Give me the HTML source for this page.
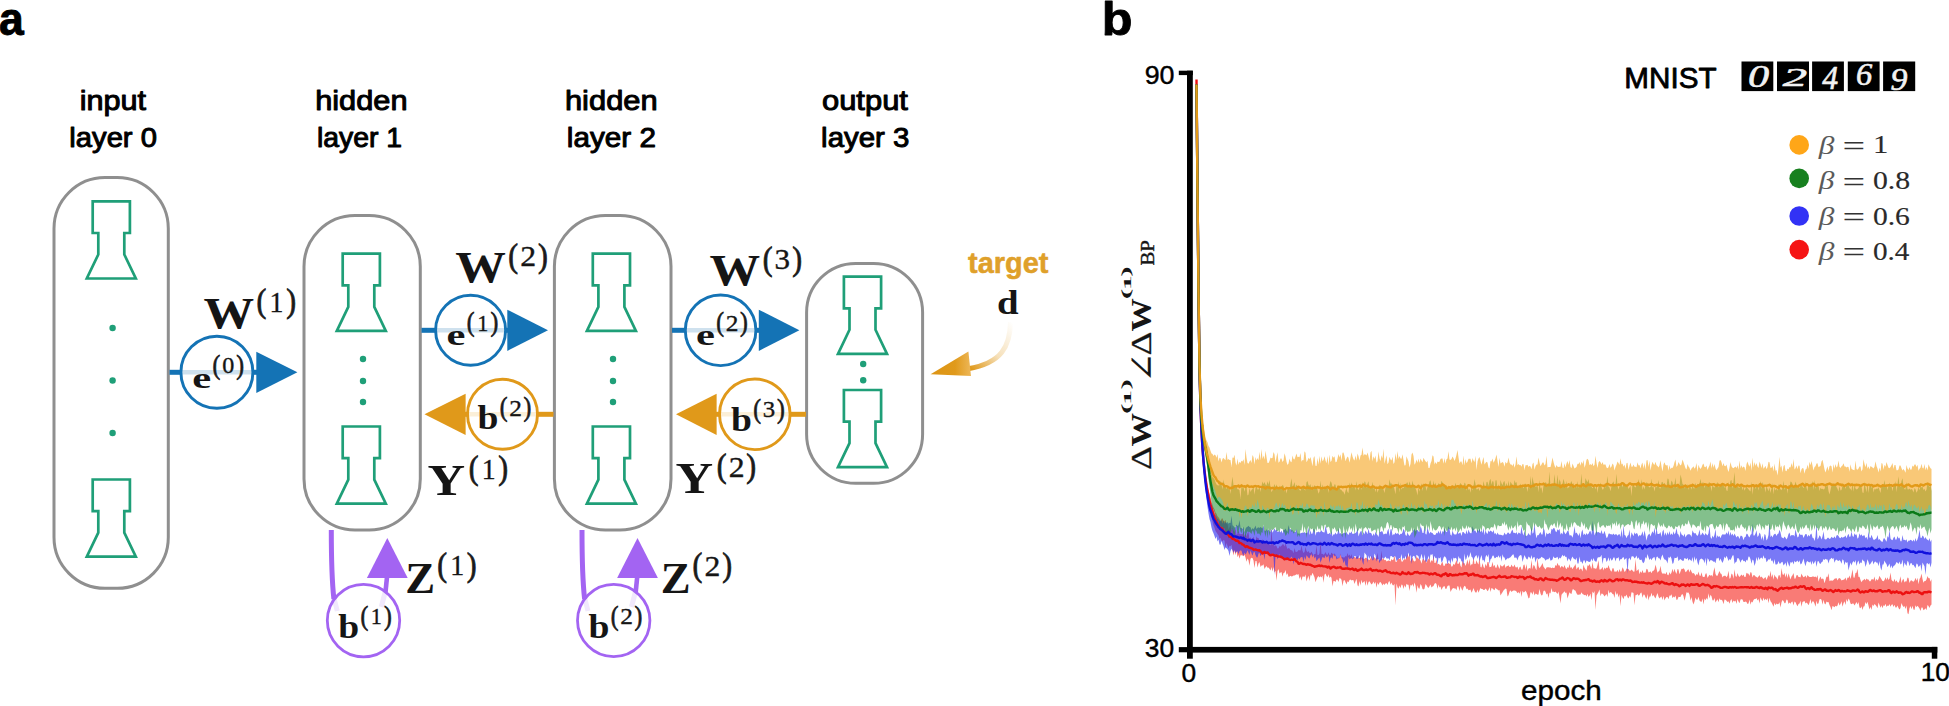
<!DOCTYPE html>
<html lang="en"><head><meta charset="utf-8"><title>Figure</title>
<style>html,body{margin:0;padding:0;background:#fff}body{width:1949px;height:706px;overflow:hidden}svg{display:block}</style></head>
<body><svg width="1949" height="706" viewBox="0 0 1949 706">
<rect width="1949" height="706" fill="#fff"/>
<text transform="translate(-1.04,34.83) scale(0.9556,1)" font-family='"Liberation Sans", sans-serif' font-weight="bold" font-style="normal" font-size="46.58" fill="#000"  stroke="#000" stroke-width="0.9" stroke-linejoin="round">a</text>
<text transform="translate(1101.73,34.83) scale(1.0715,1)" font-family='"Liberation Sans", sans-serif' font-weight="bold" font-style="normal" font-size="46.94" fill="#000"  stroke="#000" stroke-width="0.9" stroke-linejoin="round">b</text>
<text transform="translate(79.63,109.50) scale(1.0824,1)" font-family='"Liberation Sans", sans-serif' font-weight="normal" font-style="normal" font-size="28.30" fill="#000"  stroke="#000" stroke-width="1.0" stroke-linejoin="round">input</text>
<text transform="translate(69.33,146.80) scale(1.0314,1)" font-family='"Liberation Sans", sans-serif' font-weight="normal" font-style="normal" font-size="28.30" fill="#000"  stroke="#000" stroke-width="1.0" stroke-linejoin="round">layer 0</text>
<text transform="translate(315.15,109.50) scale(1.0872,1)" font-family='"Liberation Sans", sans-serif' font-weight="normal" font-style="normal" font-size="28.30" fill="#000"  stroke="#000" stroke-width="1.0" stroke-linejoin="round">hidden</text>
<text transform="translate(316.88,146.80) scale(1.0031,1)" font-family='"Liberation Sans", sans-serif' font-weight="normal" font-style="normal" font-size="28.30" fill="#000"  stroke="#000" stroke-width="1.0" stroke-linejoin="round">layer 1</text>
<text transform="translate(564.94,109.50) scale(1.0909,1)" font-family='"Liberation Sans", sans-serif' font-weight="normal" font-style="normal" font-size="28.30" fill="#000"  stroke="#000" stroke-width="1.0" stroke-linejoin="round">hidden</text>
<text transform="translate(566.80,146.80) scale(1.0493,1)" font-family='"Liberation Sans", sans-serif' font-weight="normal" font-style="normal" font-size="28.30" fill="#000"  stroke="#000" stroke-width="1.0" stroke-linejoin="round">layer 2</text>
<text transform="translate(821.99,109.50) scale(1.0924,1)" font-family='"Liberation Sans", sans-serif' font-weight="normal" font-style="normal" font-size="28.30" fill="#000"  stroke="#000" stroke-width="1.0" stroke-linejoin="round">output</text>
<text transform="translate(821.11,146.80) scale(1.0405,1)" font-family='"Liberation Sans", sans-serif' font-weight="normal" font-style="normal" font-size="28.30" fill="#000"  stroke="#000" stroke-width="1.0" stroke-linejoin="round">layer 3</text>
<rect x="54" y="177.5" width="114.30000000000001" height="410.79999999999995" rx="51" ry="51" fill="none" stroke="#8f8f8f" stroke-width="3"/>
<rect x="304" y="215.5" width="116.30000000000001" height="314.5" rx="51" ry="51" fill="none" stroke="#8f8f8f" stroke-width="3"/>
<rect x="554.4" y="215.5" width="116.60000000000002" height="314.5" rx="51" ry="51" fill="none" stroke="#8f8f8f" stroke-width="3"/>
<rect x="806.6" y="263.4" width="116.0" height="219.90000000000003" rx="49" ry="49" fill="none" stroke="#8f8f8f" stroke-width="3"/>
<path d="M92.7,201.3 L129.9,201.3 L129.9,233.0 L124.3,233.0 L124.3,254.5 L135.8,278.5 L86.8,278.5 L98.3,254.5 L98.3,233.0 L92.7,233.0Z" fill="none" stroke="#1f9f78" stroke-width="2.7" stroke-linejoin="miter"/>
<path d="M92.7,479.5 L129.9,479.5 L129.9,511.2 L124.3,511.2 L124.3,532.7 L135.8,556.7 L86.8,556.7 L98.3,532.7 L98.3,511.2 L92.7,511.2Z" fill="none" stroke="#1f9f78" stroke-width="2.7" stroke-linejoin="miter"/>
<circle cx="112.6" cy="328" r="3.2" fill="#1f9f78"/>
<circle cx="112.6" cy="380.5" r="3.2" fill="#1f9f78"/>
<circle cx="112.6" cy="433" r="3.2" fill="#1f9f78"/>
<path d="M342.7,253.7 L379.9,253.7 L379.9,285.4 L374.3,285.4 L374.3,306.9 L385.8,330.9 L336.8,330.9 L348.3,306.9 L348.3,285.4 L342.7,285.4Z" fill="none" stroke="#1f9f78" stroke-width="2.7" stroke-linejoin="miter"/>
<path d="M342.7,426.5 L379.9,426.5 L379.9,458.2 L374.3,458.2 L374.3,479.7 L385.8,503.7 L336.8,503.7 L348.3,479.7 L348.3,458.2 L342.7,458.2Z" fill="none" stroke="#1f9f78" stroke-width="2.7" stroke-linejoin="miter"/>
<circle cx="363" cy="359" r="3.2" fill="#1f9f78"/>
<circle cx="363" cy="381" r="3.2" fill="#1f9f78"/>
<circle cx="363" cy="402" r="3.2" fill="#1f9f78"/>
<path d="M592.8,253.7 L630.0,253.7 L630.0,285.4 L624.4,285.4 L624.4,306.9 L635.9,330.9 L586.9,330.9 L598.4,306.9 L598.4,285.4 L592.8,285.4Z" fill="none" stroke="#1f9f78" stroke-width="2.7" stroke-linejoin="miter"/>
<path d="M592.8,426.5 L630.0,426.5 L630.0,458.2 L624.4,458.2 L624.4,479.7 L635.9,503.7 L586.9,503.7 L598.4,479.7 L598.4,458.2 L592.8,458.2Z" fill="none" stroke="#1f9f78" stroke-width="2.7" stroke-linejoin="miter"/>
<circle cx="613" cy="359" r="3.2" fill="#1f9f78"/>
<circle cx="613" cy="381" r="3.2" fill="#1f9f78"/>
<circle cx="613" cy="402" r="3.2" fill="#1f9f78"/>
<path d="M843.9,276.6 L881.1,276.6 L881.1,308.3 L875.5,308.3 L875.5,329.8 L887.0,353.8 L838.0,353.8 L849.5,329.8 L849.5,308.3 L843.9,308.3Z" fill="none" stroke="#1f9f78" stroke-width="2.7" stroke-linejoin="miter"/>
<path d="M843.9,390.0 L881.1,390.0 L881.1,421.7 L875.5,421.7 L875.5,443.2 L887.0,467.2 L838.0,467.2 L849.5,443.2 L849.5,421.7 L843.9,421.7Z" fill="none" stroke="#1f9f78" stroke-width="2.7" stroke-linejoin="miter"/>
<circle cx="863.2" cy="364" r="3.2" fill="#1f9f78"/>
<circle cx="863.2" cy="380.2" r="3.2" fill="#1f9f78"/>
<line x1="180.9" y1="372.3" x2="252.9" y2="372.3" stroke="#cfe1ee" stroke-width="4.6"/>
<line x1="169.5" y1="372.3" x2="180.9" y2="372.3" stroke="#1473b5" stroke-width="5"/>
<line x1="252.9" y1="372.3" x2="257.3" y2="372.3" stroke="#1473b5" stroke-width="5"/>
<circle cx="216.9" cy="372.3" r="36.0" fill="none" stroke="#1473b5" stroke-width="2.9"/>
<path d="M256.3,351.7 L297.4,372.3 L256.3,392.90000000000003Z" fill="#1473b5"/>
<line x1="435.6" y1="330.3" x2="505.6" y2="330.3" stroke="#cfe1ee" stroke-width="4.6"/>
<line x1="421.5" y1="330.3" x2="435.6" y2="330.3" stroke="#1473b5" stroke-width="5"/>
<line x1="505.6" y1="330.3" x2="508.3" y2="330.3" stroke="#1473b5" stroke-width="5"/>
<circle cx="470.6" cy="330.3" r="35.0" fill="none" stroke="#1473b5" stroke-width="2.9"/>
<path d="M507.3,309.7 L548,330.3 L507.3,350.90000000000003Z" fill="#1473b5"/>
<line x1="685.3000000000001" y1="330.3" x2="755.9" y2="330.3" stroke="#cfe1ee" stroke-width="4.6"/>
<line x1="672" y1="330.3" x2="685.3000000000001" y2="330.3" stroke="#1473b5" stroke-width="5"/>
<line x1="755.9" y1="330.3" x2="759.8" y2="330.3" stroke="#1473b5" stroke-width="5"/>
<circle cx="720.6" cy="330.3" r="35.3" fill="none" stroke="#1473b5" stroke-width="2.9"/>
<path d="M758.8,309.7 L799.4,330.3 L758.8,350.90000000000003Z" fill="#1473b5"/>
<line x1="467.5" y1="414.3" x2="537.5" y2="414.3" stroke="#fbefd8" stroke-width="4.6"/>
<line x1="553.5" y1="414.3" x2="537.5" y2="414.3" stroke="#e0991a" stroke-width="5"/>
<line x1="467.5" y1="414.3" x2="464.6" y2="414.3" stroke="#e0991a" stroke-width="5"/>
<circle cx="502.5" cy="414.3" r="35.0" fill="none" stroke="#e0991a" stroke-width="2.9"/>
<path d="M465.6,393.7 L424.5,414.3 L465.6,434.90000000000003Z" fill="#e0991a"/>
<line x1="719.5" y1="414.3" x2="790.0999999999999" y2="414.3" stroke="#fbefd8" stroke-width="4.6"/>
<line x1="806" y1="414.3" x2="790.0999999999999" y2="414.3" stroke="#e0991a" stroke-width="5"/>
<line x1="719.5" y1="414.3" x2="715.6" y2="414.3" stroke="#e0991a" stroke-width="5"/>
<circle cx="754.8" cy="414.3" r="35.3" fill="none" stroke="#e0991a" stroke-width="2.9"/>
<path d="M716.6,393.7 L676,414.3 L716.6,434.90000000000003Z" fill="#e0991a"/>
<path d="M333.7,597 L337.3,611" fill="none" stroke="#f0e8fc" stroke-width="5"/>
<path d="M385.7,590 L381.3,607" fill="none" stroke="#f0e8fc" stroke-width="5"/>
<path d="M331.3,530 C331.3,560 332.1,583 333.90000000000003,599" fill="none" stroke="#a364f2" stroke-width="5"/>
<path d="M387.0,577 L385.5,592" fill="none" stroke="#a364f2" stroke-width="4.6"/>
<circle cx="363.5" cy="620.6" r="36.2" fill="none" stroke="#a364f2" stroke-width="2.8"/>
<path d="M366.90000000000003,578 L387.3,538 L407.7,578Z" fill="#a364f2"/>
<path d="M584.4,597 L588,611" fill="none" stroke="#f0e8fc" stroke-width="5"/>
<path d="M635.9,590 L631.5,607" fill="none" stroke="#f0e8fc" stroke-width="5"/>
<path d="M582,530 C582,560 582.8,583 584.6,599" fill="none" stroke="#a364f2" stroke-width="5"/>
<path d="M637.2,577 L635.7,592" fill="none" stroke="#a364f2" stroke-width="4.6"/>
<circle cx="613.7" cy="620.5" r="36.2" fill="none" stroke="#a364f2" stroke-width="2.8"/>
<path d="M617.1,578 L637.5,538 L657.9,578Z" fill="#a364f2"/>
<defs><linearGradient id="tg" x1="1012" y1="322" x2="968" y2="366" gradientUnits="userSpaceOnUse"><stop offset="0" stop-color="#e0991a" stop-opacity="0"/><stop offset="0.55" stop-color="#e0991a" stop-opacity="0.3"/><stop offset="1" stop-color="#e0991a" stop-opacity="1"/></linearGradient><linearGradient id="tg2" x1="930" y1="0" x2="972" y2="0" gradientUnits="userSpaceOnUse"><stop offset="0" stop-color="#dd9413"/><stop offset="0.6" stop-color="#e09a1c"/><stop offset="1" stop-color="#eeb95c"/></linearGradient></defs>
<path d="M1010.5,322 C1010,346 1002,363 968,368.7" fill="none" stroke="url(#tg)" stroke-width="5"/>
<path d="M968.4,351.5 L930.6,374.3 L971,376Z" fill="url(#tg2)"/>
<text transform="translate(968.04,272.66) scale(1.0019,1)" font-family='"Liberation Sans", sans-serif' font-weight="bold" font-style="normal" font-size="28.90" fill="#dfa02a"  stroke="#dfa02a" stroke-width="0.5" stroke-linejoin="round">target</text>
<text transform="translate(997.05,314.46) scale(1.1497,1)" font-family='"Liberation Serif", serif' font-weight="bold" font-style="normal" font-size="33.76" fill="#151515" >d</text>
<text transform="translate(203.44,328.05) scale(1.1638,1)" font-family='"Liberation Serif", serif' font-weight="bold" font-style="normal" font-size="43.58" fill="#151515" >W</text>
<text transform="translate(256.55,312.40) scale(0.8840,1)" font-family='"Liberation Serif", serif' font-weight="normal" font-style="normal" font-size="33.39" fill="#1a1a1a"  stroke="#1a1a1a" stroke-width="0.8" stroke-linejoin="round">(</text>
<text transform="translate(269.57,311.90) scale(0.9557,1)" font-family='"Liberation Serif", serif' font-weight="normal" font-style="normal" font-size="29.09" fill="#151515"  stroke="#151515" stroke-width="0.35" stroke-linejoin="round">1</text>
<text transform="translate(286.24,312.40) scale(0.8840,1)" font-family='"Liberation Serif", serif' font-weight="normal" font-style="normal" font-size="33.39" fill="#1a1a1a"  stroke="#1a1a1a" stroke-width="0.8" stroke-linejoin="round">)</text>
<text transform="translate(455.14,282.30) scale(1.1638,1)" font-family='"Liberation Serif", serif' font-weight="bold" font-style="normal" font-size="43.58" fill="#151515" >W</text>
<text transform="translate(508.25,266.65) scale(0.8840,1)" font-family='"Liberation Serif", serif' font-weight="normal" font-style="normal" font-size="33.39" fill="#1a1a1a"  stroke="#1a1a1a" stroke-width="0.8" stroke-linejoin="round">(</text>
<text transform="translate(520.25,266.15) scale(1.0973,1)" font-family='"Liberation Serif", serif' font-weight="normal" font-style="normal" font-size="28.98" fill="#151515"  stroke="#151515" stroke-width="0.35" stroke-linejoin="round">2</text>
<text transform="translate(537.94,266.65) scale(0.8840,1)" font-family='"Liberation Serif", serif' font-weight="normal" font-style="normal" font-size="33.39" fill="#1a1a1a"  stroke="#1a1a1a" stroke-width="0.8" stroke-linejoin="round">)</text>
<text transform="translate(709.54,285.45) scale(1.1638,1)" font-family='"Liberation Serif", serif' font-weight="bold" font-style="normal" font-size="43.58" fill="#151515" >W</text>
<text transform="translate(762.65,269.80) scale(0.8840,1)" font-family='"Liberation Serif", serif' font-weight="normal" font-style="normal" font-size="33.39" fill="#1a1a1a"  stroke="#1a1a1a" stroke-width="0.8" stroke-linejoin="round">(</text>
<text transform="translate(774.53,269.01) scale(1.0869,1)" font-family='"Liberation Serif", serif' font-weight="normal" font-style="normal" font-size="28.55" fill="#151515"  stroke="#151515" stroke-width="0.35" stroke-linejoin="round">3</text>
<text transform="translate(792.34,269.80) scale(0.8840,1)" font-family='"Liberation Serif", serif' font-weight="normal" font-style="normal" font-size="33.39" fill="#1a1a1a"  stroke="#1a1a1a" stroke-width="0.8" stroke-linejoin="round">)</text>
<text transform="translate(427.49,495.30) scale(1.1771,1)" font-family='"Liberation Serif", serif' font-weight="bold" font-style="normal" font-size="44.27" fill="#151515" >Y</text>
<text transform="translate(468.65,479.40) scale(0.8840,1)" font-family='"Liberation Serif", serif' font-weight="normal" font-style="normal" font-size="33.39" fill="#1a1a1a"  stroke="#1a1a1a" stroke-width="0.8" stroke-linejoin="round">(</text>
<text transform="translate(481.67,478.90) scale(0.9557,1)" font-family='"Liberation Serif", serif' font-weight="normal" font-style="normal" font-size="29.09" fill="#151515"  stroke="#151515" stroke-width="0.35" stroke-linejoin="round">1</text>
<text transform="translate(498.34,479.40) scale(0.8840,1)" font-family='"Liberation Serif", serif' font-weight="normal" font-style="normal" font-size="33.39" fill="#1a1a1a"  stroke="#1a1a1a" stroke-width="0.8" stroke-linejoin="round">)</text>
<text transform="translate(675.49,493.00) scale(1.1771,1)" font-family='"Liberation Serif", serif' font-weight="bold" font-style="normal" font-size="44.27" fill="#151515" >Y</text>
<text transform="translate(716.65,477.10) scale(0.8840,1)" font-family='"Liberation Serif", serif' font-weight="normal" font-style="normal" font-size="33.39" fill="#1a1a1a"  stroke="#1a1a1a" stroke-width="0.8" stroke-linejoin="round">(</text>
<text transform="translate(728.65,476.60) scale(1.0973,1)" font-family='"Liberation Serif", serif' font-weight="normal" font-style="normal" font-size="28.98" fill="#151515"  stroke="#151515" stroke-width="0.35" stroke-linejoin="round">2</text>
<text transform="translate(746.34,477.10) scale(0.8840,1)" font-family='"Liberation Serif", serif' font-weight="normal" font-style="normal" font-size="33.39" fill="#1a1a1a"  stroke="#1a1a1a" stroke-width="0.8" stroke-linejoin="round">)</text>
<text transform="translate(405.27,592.55) scale(1.0175,1)" font-family='"Liberation Serif", serif' font-weight="bold" font-style="normal" font-size="43.97" fill="#151515" >Z</text>
<text transform="translate(437.15,575.95) scale(0.8840,1)" font-family='"Liberation Serif", serif' font-weight="normal" font-style="normal" font-size="33.39" fill="#1a1a1a"  stroke="#1a1a1a" stroke-width="0.8" stroke-linejoin="round">(</text>
<text transform="translate(450.17,575.45) scale(0.9557,1)" font-family='"Liberation Serif", serif' font-weight="normal" font-style="normal" font-size="29.09" fill="#151515"  stroke="#151515" stroke-width="0.35" stroke-linejoin="round">1</text>
<text transform="translate(466.84,575.95) scale(0.8840,1)" font-family='"Liberation Serif", serif' font-weight="normal" font-style="normal" font-size="33.39" fill="#1a1a1a"  stroke="#1a1a1a" stroke-width="0.8" stroke-linejoin="round">)</text>
<text transform="translate(660.73,592.80) scale(1.0175,1)" font-family='"Liberation Serif", serif' font-weight="bold" font-style="normal" font-size="43.97" fill="#151515" >Z</text>
<text transform="translate(692.60,576.20) scale(0.8840,1)" font-family='"Liberation Serif", serif' font-weight="normal" font-style="normal" font-size="33.39" fill="#1a1a1a"  stroke="#1a1a1a" stroke-width="0.8" stroke-linejoin="round">(</text>
<text transform="translate(704.60,575.70) scale(1.0973,1)" font-family='"Liberation Serif", serif' font-weight="normal" font-style="normal" font-size="28.98" fill="#151515"  stroke="#151515" stroke-width="0.35" stroke-linejoin="round">2</text>
<text transform="translate(722.29,576.20) scale(0.8840,1)" font-family='"Liberation Serif", serif' font-weight="normal" font-style="normal" font-size="33.39" fill="#1a1a1a"  stroke="#1a1a1a" stroke-width="0.8" stroke-linejoin="round">)</text>
<text transform="translate(192.31,387.50) scale(1.4010,1)" font-family='"Liberation Serif", serif' font-weight="bold" font-style="normal" font-size="30.42" fill="#151515" >e</text>
<text transform="translate(212.61,373.86) scale(0.8753,1)" font-family='"Liberation Serif", serif' font-weight="normal" font-style="normal" font-size="26.71" fill="#1a1a1a"  stroke="#1a1a1a" stroke-width="0.7155417527999327" stroke-linejoin="round">(</text>
<text transform="translate(222.32,373.23) scale(1.0588,1)" font-family='"Liberation Serif", serif' font-weight="normal" font-style="normal" font-size="22.76" fill="#151515"  stroke="#151515" stroke-width="0.35" stroke-linejoin="round">0</text>
<text transform="translate(236.30,373.86) scale(0.8753,1)" font-family='"Liberation Serif", serif' font-weight="normal" font-style="normal" font-size="26.71" fill="#1a1a1a"  stroke="#1a1a1a" stroke-width="0.7155417527999327" stroke-linejoin="round">)</text>
<text transform="translate(446.51,344.90) scale(1.4010,1)" font-family='"Liberation Serif", serif' font-weight="bold" font-style="normal" font-size="30.42" fill="#151515" >e</text>
<text transform="translate(466.81,331.26) scale(0.8753,1)" font-family='"Liberation Serif", serif' font-weight="normal" font-style="normal" font-size="26.71" fill="#1a1a1a"  stroke="#1a1a1a" stroke-width="0.7155417527999327" stroke-linejoin="round">(</text>
<text transform="translate(477.15,330.86) scale(0.9557,1)" font-family='"Liberation Serif", serif' font-weight="normal" font-style="normal" font-size="23.27" fill="#151515"  stroke="#151515" stroke-width="0.35" stroke-linejoin="round">1</text>
<text transform="translate(490.50,331.26) scale(0.8753,1)" font-family='"Liberation Serif", serif' font-weight="normal" font-style="normal" font-size="26.71" fill="#1a1a1a"  stroke="#1a1a1a" stroke-width="0.7155417527999327" stroke-linejoin="round">)</text>
<text transform="translate(695.91,344.60) scale(1.4010,1)" font-family='"Liberation Serif", serif' font-weight="bold" font-style="normal" font-size="30.42" fill="#151515" >e</text>
<text transform="translate(716.21,330.96) scale(0.8753,1)" font-family='"Liberation Serif", serif' font-weight="normal" font-style="normal" font-size="26.71" fill="#1a1a1a"  stroke="#1a1a1a" stroke-width="0.7155417527999327" stroke-linejoin="round">(</text>
<text transform="translate(725.74,330.56) scale(1.0973,1)" font-family='"Liberation Serif", serif' font-weight="normal" font-style="normal" font-size="23.18" fill="#151515"  stroke="#151515" stroke-width="0.35" stroke-linejoin="round">2</text>
<text transform="translate(739.90,330.96) scale(0.8753,1)" font-family='"Liberation Serif", serif' font-weight="normal" font-style="normal" font-size="26.71" fill="#1a1a1a"  stroke="#1a1a1a" stroke-width="0.7155417527999327" stroke-linejoin="round">)</text>
<text transform="translate(477.53,429.06) scale(1.0957,1)" font-family='"Liberation Serif", serif' font-weight="bold" font-style="normal" font-size="34.33" fill="#151515" >b</text>
<text transform="translate(499.71,416.16) scale(0.8753,1)" font-family='"Liberation Serif", serif' font-weight="normal" font-style="normal" font-size="26.71" fill="#1a1a1a"  stroke="#1a1a1a" stroke-width="0.7155417527999327" stroke-linejoin="round">(</text>
<text transform="translate(509.24,415.76) scale(1.0973,1)" font-family='"Liberation Serif", serif' font-weight="normal" font-style="normal" font-size="23.18" fill="#151515"  stroke="#151515" stroke-width="0.35" stroke-linejoin="round">2</text>
<text transform="translate(523.40,416.16) scale(0.8753,1)" font-family='"Liberation Serif", serif' font-weight="normal" font-style="normal" font-size="26.71" fill="#1a1a1a"  stroke="#1a1a1a" stroke-width="0.7155417527999327" stroke-linejoin="round">)</text>
<text transform="translate(731.03,430.56) scale(1.0957,1)" font-family='"Liberation Serif", serif' font-weight="bold" font-style="normal" font-size="34.33" fill="#151515" >b</text>
<text transform="translate(753.21,417.66) scale(0.8753,1)" font-family='"Liberation Serif", serif' font-weight="normal" font-style="normal" font-size="26.71" fill="#1a1a1a"  stroke="#1a1a1a" stroke-width="0.7155417527999327" stroke-linejoin="round">(</text>
<text transform="translate(762.64,417.03) scale(1.0869,1)" font-family='"Liberation Serif", serif' font-weight="normal" font-style="normal" font-size="22.84" fill="#151515"  stroke="#151515" stroke-width="0.35" stroke-linejoin="round">3</text>
<text transform="translate(776.90,417.66) scale(0.8753,1)" font-family='"Liberation Serif", serif' font-weight="normal" font-style="normal" font-size="26.71" fill="#1a1a1a"  stroke="#1a1a1a" stroke-width="0.7155417527999327" stroke-linejoin="round">)</text>
<text transform="translate(338.23,637.76) scale(1.0957,1)" font-family='"Liberation Serif", serif' font-weight="bold" font-style="normal" font-size="34.33" fill="#151515" >b</text>
<text transform="translate(360.41,624.86) scale(0.8753,1)" font-family='"Liberation Serif", serif' font-weight="normal" font-style="normal" font-size="26.71" fill="#1a1a1a"  stroke="#1a1a1a" stroke-width="0.7155417527999327" stroke-linejoin="round">(</text>
<text transform="translate(370.75,624.46) scale(0.9557,1)" font-family='"Liberation Serif", serif' font-weight="normal" font-style="normal" font-size="23.27" fill="#151515"  stroke="#151515" stroke-width="0.35" stroke-linejoin="round">1</text>
<text transform="translate(384.10,624.86) scale(0.8753,1)" font-family='"Liberation Serif", serif' font-weight="normal" font-style="normal" font-size="26.71" fill="#1a1a1a"  stroke="#1a1a1a" stroke-width="0.7155417527999327" stroke-linejoin="round">)</text>
<text transform="translate(588.53,637.76) scale(1.0957,1)" font-family='"Liberation Serif", serif' font-weight="bold" font-style="normal" font-size="34.33" fill="#151515" >b</text>
<text transform="translate(610.71,624.86) scale(0.8753,1)" font-family='"Liberation Serif", serif' font-weight="normal" font-style="normal" font-size="26.71" fill="#1a1a1a"  stroke="#1a1a1a" stroke-width="0.7155417527999327" stroke-linejoin="round">(</text>
<text transform="translate(620.24,624.46) scale(1.0973,1)" font-family='"Liberation Serif", serif' font-weight="normal" font-style="normal" font-size="23.18" fill="#151515"  stroke="#151515" stroke-width="0.35" stroke-linejoin="round">2</text>
<text transform="translate(634.40,624.86) scale(0.8753,1)" font-family='"Liberation Serif", serif' font-weight="normal" font-style="normal" font-size="26.71" fill="#1a1a1a"  stroke="#1a1a1a" stroke-width="0.7155417527999327" stroke-linejoin="round">)</text>
<rect x="1187" y="70.7" width="5.8" height="588" fill="#000"/>
<rect x="1178.8" y="70.7" width="14" height="4.4" fill="#000"/>
<rect x="1178.8" y="647.1" width="10" height="5.2" fill="#000"/>
<rect x="1187" y="646.9" width="750.3" height="5.7" fill="#000"/>
<rect x="1931.8" y="646.9" width="5.5" height="11.8" fill="#000"/>
<text transform="translate(1144.63,83.94) scale(1.0373,1)" font-family='"Liberation Sans", sans-serif' font-weight="normal" font-style="normal" font-size="25.87" fill="#000"  stroke="#000" stroke-width="0.4" stroke-linejoin="round">90</text>
<text transform="translate(1144.81,656.94) scale(1.0198,1)" font-family='"Liberation Sans", sans-serif' font-weight="normal" font-style="normal" font-size="25.87" fill="#000"  stroke="#000" stroke-width="0.4" stroke-linejoin="round">30</text>
<text transform="translate(1181.44,682.15) scale(1.0430,1)" font-family='"Liberation Sans", sans-serif' font-weight="normal" font-style="normal" font-size="25.30" fill="#000"  stroke="#000" stroke-width="0.4" stroke-linejoin="round">0</text>
<text transform="translate(1920.63,680.75) scale(1.0440,1)" font-family='"Liberation Sans", sans-serif' font-weight="normal" font-style="normal" font-size="25.16" fill="#000"  stroke="#000" stroke-width="0.4" stroke-linejoin="round">10</text>
<text transform="translate(1520.94,699.83) scale(1.0841,1)" font-family='"Liberation Sans", sans-serif' font-weight="normal" font-style="normal" font-size="27.35" fill="#000"  stroke="#000" stroke-width="0.4" stroke-linejoin="round">epoch</text>
<path d="M1196.5,78.3 L1197.5,187.9 L1198.5,289.0 L1199.5,365.2 L1200.5,404.3 L1201.5,427.8 L1202.5,444.6 L1203.5,456.0 L1204.5,465.9 L1205.5,472.8 L1206.5,479.8 L1207.5,484.8 L1208.5,489.7 L1209.5,493.4 L1210.5,496.9 L1211.5,501.4 L1212.5,505.0 L1213.5,507.4 L1214.5,509.3 L1215.5,512.4 L1216.5,513.7 L1217.5,516.3 L1218.5,517.3 L1219.5,518.8 L1220.5,521.7 L1221.5,518.8 L1222.5,518.3 L1223.5,521.1 L1224.5,521.5 L1225.5,519.8 L1226.5,524.3 L1227.5,524.0 L1228.5,529.6 L1229.5,527.2 L1230.5,525.1 L1231.5,530.3 L1232.5,527.5 L1233.5,530.5 L1234.5,531.9 L1235.5,528.7 L1236.5,534.9 L1237.5,533.4 L1238.5,530.4 L1239.5,534.0 L1240.5,534.2 L1241.5,534.0 L1242.5,534.3 L1243.5,531.7 L1244.5,535.9 L1245.5,533.2 L1246.5,536.4 L1247.5,532.9 L1248.5,531.8 L1249.5,539.6 L1250.5,537.0 L1251.5,539.2 L1252.5,538.7 L1253.5,536.4 L1254.5,540.6 L1255.5,541.6 L1256.5,536.3 L1257.5,537.9 L1258.5,537.9 L1259.5,540.5 L1260.5,542.5 L1261.5,541.6 L1262.5,539.2 L1263.5,541.3 L1264.5,541.9 L1265.5,543.0 L1266.5,542.9 L1267.5,543.7 L1268.5,541.6 L1269.5,544.6 L1270.5,545.6 L1271.5,528.5 L1272.5,544.9 L1273.5,540.2 L1274.5,546.4 L1275.5,545.3 L1276.5,546.1 L1277.5,548.5 L1278.5,548.3 L1279.5,546.1 L1280.5,546.8 L1281.5,545.8 L1282.5,544.3 L1283.5,544.3 L1284.5,546.5 L1285.5,543.0 L1286.5,546.6 L1287.5,549.1 L1288.5,547.9 L1289.5,548.5 L1290.5,550.1 L1291.5,550.3 L1292.5,550.8 L1293.5,553.3 L1294.5,547.9 L1295.5,551.8 L1296.5,552.0 L1297.5,551.5 L1298.5,549.9 L1299.5,550.3 L1300.5,550.4 L1301.5,545.2 L1302.5,550.7 L1303.5,553.0 L1304.5,552.0 L1305.5,546.9 L1306.5,550.8 L1307.5,552.3 L1308.5,550.9 L1309.5,552.9 L1310.5,552.9 L1311.5,551.6 L1312.5,553.4 L1313.5,555.1 L1314.5,554.1 L1315.5,554.1 L1316.5,545.3 L1317.5,555.0 L1318.5,555.0 L1319.5,553.2 L1320.5,540.0 L1321.5,554.0 L1322.5,553.8 L1323.5,554.8 L1324.5,553.9 L1325.5,551.9 L1326.5,554.2 L1327.5,555.0 L1328.5,552.3 L1329.5,555.1 L1330.5,555.0 L1331.5,552.5 L1332.5,553.7 L1333.5,554.1 L1334.5,553.6 L1335.5,554.8 L1336.5,556.4 L1337.5,558.1 L1338.5,557.8 L1339.5,557.4 L1340.5,553.4 L1341.5,557.3 L1342.5,557.0 L1343.5,557.5 L1344.5,557.5 L1345.5,555.9 L1346.5,556.4 L1347.5,553.0 L1348.5,555.9 L1349.5,554.6 L1350.5,556.8 L1351.5,554.0 L1352.5,558.7 L1353.5,556.4 L1354.5,557.0 L1355.5,557.7 L1356.5,556.9 L1357.5,555.9 L1358.5,558.3 L1359.5,557.9 L1360.5,556.9 L1361.5,557.7 L1362.5,557.2 L1363.5,559.0 L1364.5,558.7 L1365.5,557.8 L1366.5,557.7 L1367.5,559.3 L1368.5,559.4 L1369.5,559.9 L1370.5,558.6 L1371.5,555.4 L1372.5,559.8 L1373.5,556.2 L1374.5,557.5 L1375.5,558.8 L1376.5,557.5 L1377.5,552.8 L1378.5,560.8 L1379.5,560.1 L1380.5,559.2 L1381.5,550.6 L1382.5,559.7 L1383.5,558.6 L1384.5,560.3 L1385.5,559.7 L1386.5,561.4 L1387.5,561.1 L1388.5,560.4 L1389.5,560.7 L1390.5,561.4 L1391.5,559.0 L1392.5,560.3 L1393.5,559.4 L1394.5,555.4 L1395.5,561.7 L1396.5,562.0 L1397.5,559.8 L1398.5,558.3 L1399.5,559.3 L1400.5,557.4 L1401.5,561.5 L1402.5,561.8 L1403.5,560.1 L1404.5,558.9 L1405.5,559.8 L1406.5,557.1 L1407.5,553.8 L1408.5,557.6 L1409.5,553.5 L1410.5,561.5 L1411.5,559.3 L1412.5,557.5 L1413.5,560.7 L1414.5,561.4 L1415.5,561.1 L1416.5,556.1 L1417.5,557.9 L1418.5,558.6 L1419.5,559.4 L1420.5,560.5 L1421.5,563.8 L1422.5,559.2 L1423.5,558.8 L1424.5,561.0 L1425.5,559.1 L1426.5,563.0 L1427.5,560.2 L1428.5,559.0 L1429.5,558.1 L1430.5,562.9 L1431.5,560.0 L1432.5,561.6 L1433.5,555.8 L1434.5,562.9 L1435.5,563.0 L1436.5,559.6 L1437.5,564.4 L1438.5,563.8 L1439.5,564.4 L1440.5,565.5 L1441.5,563.3 L1442.5,561.8 L1443.5,565.7 L1444.5,565.9 L1445.5,563.6 L1446.5,563.6 L1447.5,563.9 L1448.5,562.8 L1449.5,564.0 L1450.5,563.6 L1451.5,566.7 L1452.5,566.3 L1453.5,563.8 L1454.5,565.0 L1455.5,562.8 L1456.5,559.7 L1457.5,563.8 L1458.5,564.0 L1459.5,561.5 L1460.5,565.8 L1461.5,567.5 L1462.5,559.9 L1463.5,563.5 L1464.5,563.1 L1465.5,566.0 L1466.5,563.3 L1467.5,559.6 L1468.5,564.8 L1469.5,558.7 L1470.5,565.8 L1471.5,564.2 L1472.5,564.3 L1473.5,557.3 L1474.5,564.0 L1475.5,564.1 L1476.5,560.2 L1477.5,563.0 L1478.5,564.5 L1479.5,557.6 L1480.5,567.1 L1481.5,567.4 L1482.5,563.1 L1483.5,566.8 L1484.5,568.5 L1485.5,563.7 L1486.5,566.4 L1487.5,562.0 L1488.5,561.9 L1489.5,567.3 L1490.5,567.0 L1491.5,566.4 L1492.5,561.8 L1493.5,566.7 L1494.5,564.7 L1495.5,567.7 L1496.5,567.8 L1497.5,563.9 L1498.5,566.7 L1499.5,569.1 L1500.5,564.4 L1501.5,566.3 L1502.5,566.4 L1503.5,565.5 L1504.5,564.0 L1505.5,568.0 L1506.5,566.2 L1507.5,566.0 L1508.5,565.2 L1509.5,566.9 L1510.5,566.9 L1511.5,564.4 L1512.5,566.4 L1513.5,566.8 L1514.5,564.4 L1515.5,567.2 L1516.5,567.6 L1517.5,566.5 L1518.5,569.9 L1519.5,567.2 L1520.5,566.6 L1521.5,569.7 L1522.5,569.5 L1523.5,565.0 L1524.5,564.6 L1525.5,569.5 L1526.5,564.1 L1527.5,570.9 L1528.5,568.4 L1529.5,568.1 L1530.5,568.7 L1531.5,559.8 L1532.5,569.6 L1533.5,565.1 L1534.5,565.8 L1535.5,568.6 L1536.5,570.3 L1537.5,557.6 L1538.5,565.9 L1539.5,568.2 L1540.5,566.8 L1541.5,565.3 L1542.5,563.0 L1543.5,566.7 L1544.5,567.9 L1545.5,569.6 L1546.5,567.6 L1547.5,567.3 L1548.5,567.3 L1549.5,567.5 L1550.5,567.6 L1551.5,568.3 L1552.5,567.6 L1553.5,568.0 L1554.5,568.0 L1555.5,565.1 L1556.5,566.1 L1557.5,562.7 L1558.5,565.6 L1559.5,565.3 L1560.5,568.0 L1561.5,565.9 L1562.5,566.4 L1563.5,567.8 L1564.5,565.0 L1565.5,567.8 L1566.5,569.3 L1567.5,567.1 L1568.5,568.1 L1569.5,563.9 L1570.5,568.0 L1571.5,566.9 L1572.5,569.2 L1573.5,567.3 L1574.5,565.9 L1575.5,563.9 L1576.5,569.5 L1577.5,567.7 L1578.5,566.7 L1579.5,570.3 L1580.5,568.6 L1581.5,569.1 L1582.5,571.6 L1583.5,564.7 L1584.5,567.8 L1585.5,569.2 L1586.5,570.8 L1587.5,565.2 L1588.5,566.1 L1589.5,564.0 L1590.5,566.5 L1591.5,568.9 L1592.5,561.7 L1593.5,568.2 L1594.5,568.2 L1595.5,568.8 L1596.5,568.5 L1597.5,564.9 L1598.5,560.2 L1599.5,569.5 L1600.5,569.5 L1601.5,568.8 L1602.5,566.7 L1603.5,570.4 L1604.5,567.6 L1605.5,568.9 L1606.5,567.5 L1607.5,568.2 L1608.5,564.9 L1609.5,568.3 L1610.5,570.4 L1611.5,571.8 L1612.5,568.3 L1613.5,568.2 L1614.5,571.7 L1615.5,571.4 L1616.5,571.8 L1617.5,569.8 L1618.5,572.5 L1619.5,569.1 L1620.5,571.8 L1621.5,571.2 L1622.5,567.2 L1623.5,568.9 L1624.5,571.9 L1625.5,571.0 L1626.5,568.5 L1627.5,568.7 L1628.5,568.9 L1629.5,570.7 L1630.5,570.8 L1631.5,569.4 L1632.5,570.6 L1633.5,571.8 L1634.5,571.5 L1635.5,559.1 L1636.5,571.1 L1637.5,570.3 L1638.5,569.1 L1639.5,574.3 L1640.5,571.3 L1641.5,572.9 L1642.5,570.1 L1643.5,573.1 L1644.5,572.5 L1645.5,572.7 L1646.5,568.7 L1647.5,569.2 L1648.5,572.5 L1649.5,572.0 L1650.5,571.2 L1651.5,573.3 L1652.5,570.9 L1653.5,570.8 L1654.5,569.6 L1655.5,564.5 L1656.5,568.5 L1657.5,572.7 L1658.5,571.5 L1659.5,570.6 L1660.5,565.8 L1661.5,572.1 L1662.5,573.7 L1663.5,573.6 L1664.5,573.5 L1665.5,574.2 L1666.5,571.8 L1667.5,575.0 L1668.5,575.3 L1669.5,572.0 L1670.5,574.6 L1671.5,572.6 L1672.5,568.8 L1673.5,572.4 L1674.5,568.8 L1675.5,571.9 L1676.5,574.1 L1677.5,569.0 L1678.5,569.6 L1679.5,574.2 L1680.5,571.5 L1681.5,568.7 L1682.5,569.1 L1683.5,568.3 L1684.5,569.5 L1685.5,572.3 L1686.5,571.6 L1687.5,569.9 L1688.5,569.3 L1689.5,572.6 L1690.5,569.3 L1691.5,571.8 L1692.5,573.4 L1693.5,572.9 L1694.5,574.0 L1695.5,576.0 L1696.5,574.1 L1697.5,575.1 L1698.5,571.5 L1699.5,575.5 L1700.5,575.9 L1701.5,572.3 L1702.5,576.4 L1703.5,576.9 L1704.5,577.1 L1705.5,573.8 L1706.5,573.2 L1707.5,577.9 L1708.5,576.3 L1709.5,574.7 L1710.5,575.8 L1711.5,575.0 L1712.5,576.7 L1713.5,571.5 L1714.5,567.3 L1715.5,574.0 L1716.5,575.8 L1717.5,575.7 L1718.5,573.3 L1719.5,571.1 L1720.5,573.5 L1721.5,574.1 L1722.5,577.4 L1723.5,576.0 L1724.5,575.8 L1725.5,575.7 L1726.5,577.2 L1727.5,575.7 L1728.5,570.8 L1729.5,578.7 L1730.5,577.9 L1731.5,573.6 L1732.5,574.5 L1733.5,578.8 L1734.5,569.3 L1735.5,576.0 L1736.5,577.0 L1737.5,573.1 L1738.5,575.7 L1739.5,577.1 L1740.5,575.7 L1741.5,574.5 L1742.5,576.0 L1743.5,574.5 L1744.5,577.0 L1745.5,576.9 L1746.5,572.8 L1747.5,573.5 L1748.5,573.8 L1749.5,575.9 L1750.5,571.9 L1751.5,572.7 L1752.5,577.4 L1753.5,575.0 L1754.5,575.2 L1755.5,576.5 L1756.5,577.0 L1757.5,577.8 L1758.5,576.5 L1759.5,575.1 L1760.5,577.6 L1761.5,576.5 L1762.5,577.8 L1763.5,579.0 L1764.5,578.0 L1765.5,577.1 L1766.5,580.0 L1767.5,577.5 L1768.5,575.0 L1769.5,577.1 L1770.5,570.8 L1771.5,577.6 L1772.5,574.1 L1773.5,579.8 L1774.5,574.6 L1775.5,576.7 L1776.5,577.6 L1777.5,579.8 L1778.5,575.4 L1779.5,575.1 L1780.5,578.3 L1781.5,568.1 L1782.5,574.2 L1783.5,575.1 L1784.5,572.8 L1785.5,577.5 L1786.5,572.9 L1787.5,578.2 L1788.5,573.2 L1789.5,576.5 L1790.5,579.4 L1791.5,576.4 L1792.5,575.3 L1793.5,572.9 L1794.5,578.8 L1795.5,578.4 L1796.5,575.2 L1797.5,575.1 L1798.5,577.0 L1799.5,577.0 L1800.5,577.6 L1801.5,573.6 L1802.5,575.8 L1803.5,577.3 L1804.5,576.7 L1805.5,575.6 L1806.5,577.9 L1807.5,575.0 L1808.5,576.2 L1809.5,577.1 L1810.5,577.0 L1811.5,577.1 L1812.5,576.6 L1813.5,576.5 L1814.5,577.0 L1815.5,576.4 L1816.5,577.8 L1817.5,575.1 L1818.5,581.7 L1819.5,578.5 L1820.5,576.4 L1821.5,579.3 L1822.5,578.6 L1823.5,579.1 L1824.5,583.3 L1825.5,580.1 L1826.5,576.4 L1827.5,577.3 L1828.5,573.2 L1829.5,581.3 L1830.5,580.5 L1831.5,580.5 L1832.5,580.7 L1833.5,580.0 L1834.5,578.7 L1835.5,578.6 L1836.5,578.1 L1837.5,580.4 L1838.5,578.6 L1839.5,577.9 L1840.5,578.8 L1841.5,580.5 L1842.5,580.0 L1843.5,579.7 L1844.5,579.2 L1845.5,577.6 L1846.5,580.7 L1847.5,577.6 L1848.5,577.9 L1849.5,575.4 L1850.5,579.0 L1851.5,574.7 L1852.5,569.2 L1853.5,577.6 L1854.5,577.8 L1855.5,572.9 L1856.5,572.8 L1857.5,568.8 L1858.5,577.1 L1859.5,576.7 L1860.5,579.9 L1861.5,582.2 L1862.5,580.5 L1863.5,580.1 L1864.5,578.7 L1865.5,580.6 L1866.5,578.6 L1867.5,579.4 L1868.5,579.6 L1869.5,581.2 L1870.5,581.2 L1871.5,579.3 L1872.5,579.3 L1873.5,579.8 L1874.5,576.4 L1875.5,581.4 L1876.5,578.8 L1877.5,580.4 L1878.5,578.9 L1879.5,575.7 L1880.5,577.8 L1881.5,579.3 L1882.5,580.9 L1883.5,581.3 L1884.5,580.0 L1885.5,577.3 L1886.5,580.0 L1887.5,577.2 L1888.5,580.1 L1889.5,578.5 L1890.5,572.5 L1891.5,579.8 L1892.5,580.9 L1893.5,581.8 L1894.5,578.8 L1895.5,582.1 L1896.5,580.2 L1897.5,582.2 L1898.5,582.8 L1899.5,580.5 L1900.5,576.2 L1901.5,582.9 L1902.5,580.0 L1903.5,578.8 L1904.5,582.5 L1905.5,581.2 L1906.5,581.6 L1907.5,577.6 L1908.5,578.1 L1909.5,583.0 L1910.5,580.8 L1911.5,580.2 L1912.5,581.2 L1913.5,581.7 L1914.5,580.5 L1915.5,577.8 L1916.5,580.8 L1917.5,577.8 L1918.5,584.3 L1919.5,578.9 L1920.5,577.5 L1921.5,573.5 L1922.5,578.9 L1923.5,582.7 L1924.5,580.9 L1925.5,581.1 L1926.5,579.6 L1927.5,576.1 L1928.5,578.2 L1929.5,578.1 L1930.5,581.7 L1931.5,578.9 L1931.5,604.5 L1930.5,605.5 L1929.5,608.0 L1928.5,606.0 L1927.5,605.0 L1926.5,610.2 L1925.5,608.2 L1924.5,609.5 L1923.5,610.2 L1922.5,607.6 L1921.5,607.6 L1920.5,611.1 L1919.5,608.4 L1918.5,607.1 L1917.5,605.8 L1916.5,607.2 L1915.5,605.2 L1914.5,610.0 L1913.5,609.5 L1912.5,605.8 L1911.5,609.3 L1910.5,605.9 L1909.5,608.2 L1908.5,614.2 L1907.5,613.3 L1906.5,605.6 L1905.5,608.9 L1904.5,606.0 L1903.5,607.0 L1902.5,605.6 L1901.5,603.1 L1900.5,608.0 L1899.5,609.4 L1898.5,608.0 L1897.5,605.5 L1896.5,607.4 L1895.5,607.6 L1894.5,604.8 L1893.5,607.1 L1892.5,604.2 L1891.5,604.8 L1890.5,606.7 L1889.5,604.1 L1888.5,605.9 L1887.5,605.6 L1886.5,606.9 L1885.5,603.7 L1884.5,606.1 L1883.5,605.2 L1882.5,608.2 L1881.5,605.3 L1880.5,607.7 L1879.5,605.0 L1878.5,602.6 L1877.5,608.3 L1876.5,606.3 L1875.5,605.0 L1874.5,604.0 L1873.5,605.9 L1872.5,604.4 L1871.5,609.9 L1870.5,606.7 L1869.5,609.6 L1868.5,605.4 L1867.5,601.7 L1866.5,604.2 L1865.5,602.0 L1864.5,606.2 L1863.5,606.4 L1862.5,610.1 L1861.5,606.2 L1860.5,608.3 L1859.5,607.4 L1858.5,602.1 L1857.5,604.6 L1856.5,601.9 L1855.5,603.8 L1854.5,605.4 L1853.5,603.6 L1852.5,603.4 L1851.5,604.2 L1850.5,603.6 L1849.5,600.0 L1848.5,598.5 L1847.5,602.1 L1846.5,599.1 L1845.5,605.0 L1844.5,601.2 L1843.5,603.3 L1842.5,606.7 L1841.5,601.3 L1840.5,604.1 L1839.5,605.6 L1838.5,602.2 L1837.5,605.6 L1836.5,606.6 L1835.5,605.8 L1834.5,607.2 L1833.5,606.4 L1832.5,605.9 L1831.5,610.2 L1830.5,607.0 L1829.5,604.9 L1828.5,602.0 L1827.5,602.3 L1826.5,601.6 L1825.5,604.5 L1824.5,603.6 L1823.5,599.8 L1822.5,604.7 L1821.5,599.8 L1820.5,599.0 L1819.5,599.3 L1818.5,603.3 L1817.5,604.2 L1816.5,600.7 L1815.5,606.7 L1814.5,603.6 L1813.5,601.6 L1812.5,601.3 L1811.5,604.1 L1810.5,599.1 L1809.5,602.8 L1808.5,605.2 L1807.5,603.5 L1806.5,602.5 L1805.5,603.4 L1804.5,600.9 L1803.5,601.5 L1802.5,602.1 L1801.5,606.7 L1800.5,600.8 L1799.5,603.4 L1798.5,604.1 L1797.5,606.2 L1796.5,604.5 L1795.5,602.3 L1794.5,601.4 L1793.5,605.5 L1792.5,601.6 L1791.5,602.1 L1790.5,603.7 L1789.5,602.5 L1788.5,603.9 L1787.5,600.0 L1786.5,599.6 L1785.5,603.0 L1784.5,603.3 L1783.5,601.1 L1782.5,600.0 L1781.5,602.3 L1780.5,607.6 L1779.5,602.3 L1778.5,604.0 L1777.5,604.2 L1776.5,603.4 L1775.5,605.2 L1774.5,602.8 L1773.5,606.8 L1772.5,604.4 L1771.5,602.6 L1770.5,601.3 L1769.5,597.8 L1768.5,603.3 L1767.5,597.9 L1766.5,600.2 L1765.5,598.7 L1764.5,600.4 L1763.5,597.5 L1762.5,601.2 L1761.5,599.5 L1760.5,597.3 L1759.5,603.5 L1758.5,598.9 L1757.5,600.4 L1756.5,598.1 L1755.5,599.1 L1754.5,599.0 L1753.5,599.9 L1752.5,602.5 L1751.5,601.5 L1750.5,604.7 L1749.5,599.5 L1748.5,603.4 L1747.5,604.1 L1746.5,602.0 L1745.5,601.6 L1744.5,601.9 L1743.5,602.1 L1742.5,599.6 L1741.5,599.2 L1740.5,599.5 L1739.5,603.2 L1738.5,601.6 L1737.5,598.9 L1736.5,604.1 L1735.5,600.6 L1734.5,601.6 L1733.5,600.5 L1732.5,602.9 L1731.5,598.9 L1730.5,600.6 L1729.5,603.8 L1728.5,601.2 L1727.5,602.0 L1726.5,600.8 L1725.5,599.8 L1724.5,599.6 L1723.5,604.3 L1722.5,600.7 L1721.5,599.7 L1720.5,600.1 L1719.5,598.3 L1718.5,602.2 L1717.5,599.3 L1716.5,600.8 L1715.5,602.4 L1714.5,598.1 L1713.5,600.6 L1712.5,600.2 L1711.5,596.2 L1710.5,594.7 L1709.5,598.6 L1708.5,593.3 L1707.5,599.7 L1706.5,598.1 L1705.5,600.3 L1704.5,598.6 L1703.5,604.5 L1702.5,598.4 L1701.5,602.1 L1700.5,601.5 L1699.5,600.4 L1698.5,596.7 L1697.5,599.8 L1696.5,599.8 L1695.5,597.6 L1694.5,601.4 L1693.5,604.4 L1692.5,601.8 L1691.5,596.9 L1690.5,600.7 L1689.5,594.8 L1688.5,592.4 L1687.5,592.8 L1686.5,592.2 L1685.5,596.7 L1684.5,600.7 L1683.5,596.2 L1682.5,593.9 L1681.5,594.7 L1680.5,596.9 L1679.5,597.0 L1678.5,596.7 L1677.5,599.4 L1676.5,600.0 L1675.5,595.5 L1674.5,597.6 L1673.5,596.5 L1672.5,598.2 L1671.5,594.2 L1670.5,595.7 L1669.5,595.5 L1668.5,599.2 L1667.5,596.9 L1666.5,596.9 L1665.5,598.2 L1664.5,600.4 L1663.5,595.8 L1662.5,600.0 L1661.5,596.6 L1660.5,597.2 L1659.5,598.6 L1658.5,596.7 L1657.5,593.1 L1656.5,595.4 L1655.5,598.4 L1654.5,596.9 L1653.5,595.0 L1652.5,596.6 L1651.5,592.7 L1650.5,596.6 L1649.5,596.6 L1648.5,600.4 L1647.5,594.0 L1646.5,599.0 L1645.5,597.2 L1644.5,594.8 L1643.5,594.6 L1642.5,597.8 L1641.5,592.5 L1640.5,593.1 L1639.5,595.0 L1638.5,595.8 L1637.5,594.0 L1636.5,595.0 L1635.5,595.3 L1634.5,605.3 L1633.5,593.1 L1632.5,592.6 L1631.5,592.2 L1630.5,597.8 L1629.5,595.8 L1628.5,598.4 L1627.5,597.2 L1626.5,594.4 L1625.5,596.6 L1624.5,595.8 L1623.5,599.2 L1622.5,597.3 L1621.5,595.0 L1620.5,606.3 L1619.5,594.1 L1618.5,597.4 L1617.5,593.0 L1616.5,594.9 L1615.5,590.8 L1614.5,597.9 L1613.5,594.2 L1612.5,594.1 L1611.5,592.6 L1610.5,592.0 L1609.5,593.5 L1608.5,589.8 L1607.5,597.1 L1606.5,593.9 L1605.5,595.3 L1604.5,596.4 L1603.5,594.7 L1602.5,593.8 L1601.5,593.4 L1600.5,596.2 L1599.5,589.5 L1598.5,591.9 L1597.5,593.8 L1596.5,595.5 L1595.5,610.1 L1594.5,590.9 L1593.5,593.2 L1592.5,591.4 L1591.5,600.2 L1590.5,593.5 L1589.5,595.7 L1588.5,596.9 L1587.5,593.8 L1586.5,596.4 L1585.5,594.7 L1584.5,595.3 L1583.5,594.5 L1582.5,594.0 L1581.5,592.3 L1580.5,594.6 L1579.5,594.6 L1578.5,594.8 L1577.5,594.7 L1576.5,593.3 L1575.5,590.7 L1574.5,590.3 L1573.5,589.3 L1572.5,589.4 L1571.5,594.0 L1570.5,593.5 L1569.5,592.2 L1568.5,595.3 L1567.5,598.5 L1566.5,592.6 L1565.5,593.1 L1564.5,591.2 L1563.5,592.6 L1562.5,593.5 L1561.5,594.7 L1560.5,603.5 L1559.5,596.9 L1558.5,591.5 L1557.5,594.0 L1556.5,592.7 L1555.5,591.6 L1554.5,592.2 L1553.5,591.4 L1552.5,591.9 L1551.5,588.1 L1550.5,593.5 L1549.5,592.6 L1548.5,598.2 L1547.5,593.2 L1546.5,594.5 L1545.5,591.8 L1544.5,590.6 L1543.5,591.0 L1542.5,594.9 L1541.5,595.5 L1540.5,593.5 L1539.5,589.1 L1538.5,594.5 L1537.5,594.7 L1536.5,593.9 L1535.5,593.6 L1534.5,595.6 L1533.5,591.0 L1532.5,594.8 L1531.5,592.6 L1530.5,592.3 L1529.5,597.8 L1528.5,598.6 L1527.5,594.9 L1526.5,592.3 L1525.5,590.7 L1524.5,591.9 L1523.5,592.4 L1522.5,590.8 L1521.5,597.1 L1520.5,590.8 L1519.5,593.8 L1518.5,591.9 L1517.5,593.3 L1516.5,591.6 L1515.5,590.8 L1514.5,590.5 L1513.5,590.5 L1512.5,590.9 L1511.5,592.0 L1510.5,590.2 L1509.5,591.8 L1508.5,595.2 L1507.5,596.4 L1506.5,589.0 L1505.5,588.5 L1504.5,589.6 L1503.5,590.6 L1502.5,592.3 L1501.5,593.7 L1500.5,595.5 L1499.5,590.0 L1498.5,590.6 L1497.5,589.5 L1496.5,589.0 L1495.5,587.8 L1494.5,590.3 L1493.5,589.6 L1492.5,588.4 L1491.5,588.0 L1490.5,592.0 L1489.5,587.1 L1488.5,589.9 L1487.5,591.2 L1486.5,589.4 L1485.5,588.5 L1484.5,590.0 L1483.5,590.0 L1482.5,589.0 L1481.5,589.0 L1480.5,587.9 L1479.5,590.2 L1478.5,592.7 L1477.5,589.4 L1476.5,592.6 L1475.5,592.6 L1474.5,590.7 L1473.5,588.1 L1472.5,590.8 L1471.5,592.7 L1470.5,589.4 L1469.5,589.9 L1468.5,590.2 L1467.5,588.6 L1466.5,589.3 L1465.5,586.4 L1464.5,585.7 L1463.5,587.4 L1462.5,590.8 L1461.5,588.8 L1460.5,586.0 L1459.5,591.3 L1458.5,586.8 L1457.5,586.0 L1456.5,590.3 L1455.5,588.5 L1454.5,588.6 L1453.5,588.0 L1452.5,588.6 L1451.5,590.0 L1450.5,592.0 L1449.5,585.4 L1448.5,585.5 L1447.5,586.1 L1446.5,588.8 L1445.5,588.9 L1444.5,586.0 L1443.5,586.4 L1442.5,587.7 L1441.5,589.9 L1440.5,586.6 L1439.5,587.4 L1438.5,584.5 L1437.5,589.1 L1436.5,584.0 L1435.5,583.1 L1434.5,583.8 L1433.5,586.0 L1432.5,586.4 L1431.5,587.4 L1430.5,584.5 L1429.5,586.2 L1428.5,588.1 L1427.5,586.9 L1426.5,585.2 L1425.5,584.1 L1424.5,588.7 L1423.5,589.4 L1422.5,588.9 L1421.5,585.5 L1420.5,584.0 L1419.5,588.7 L1418.5,588.3 L1417.5,585.2 L1416.5,592.7 L1415.5,585.6 L1414.5,582.5 L1413.5,586.9 L1412.5,584.0 L1411.5,585.7 L1410.5,584.7 L1409.5,590.9 L1408.5,584.8 L1407.5,584.8 L1406.5,583.7 L1405.5,587.8 L1404.5,584.9 L1403.5,588.9 L1402.5,585.1 L1401.5,584.6 L1400.5,588.2 L1399.5,585.4 L1398.5,588.8 L1397.5,587.3 L1396.5,583.6 L1395.5,605.6 L1394.5,583.7 L1393.5,585.6 L1392.5,585.1 L1391.5,582.4 L1390.5,584.8 L1389.5,581.0 L1388.5,582.1 L1387.5,585.1 L1386.5,583.1 L1385.5,583.5 L1384.5,584.9 L1383.5,583.5 L1382.5,585.6 L1381.5,583.5 L1380.5,581.9 L1379.5,582.5 L1378.5,584.9 L1377.5,582.4 L1376.5,587.8 L1375.5,581.8 L1374.5,583.9 L1373.5,581.6 L1372.5,583.4 L1371.5,584.5 L1370.5,583.1 L1369.5,581.2 L1368.5,582.1 L1367.5,585.7 L1366.5,580.3 L1365.5,586.1 L1364.5,580.9 L1363.5,582.1 L1362.5,583.2 L1361.5,579.8 L1360.5,585.5 L1359.5,580.9 L1358.5,586.6 L1357.5,585.2 L1356.5,578.8 L1355.5,581.2 L1354.5,583.9 L1353.5,580.3 L1352.5,580.0 L1351.5,580.4 L1350.5,579.5 L1349.5,579.9 L1348.5,582.2 L1347.5,581.3 L1346.5,584.6 L1345.5,582.2 L1344.5,580.0 L1343.5,580.7 L1342.5,586.3 L1341.5,579.8 L1340.5,578.4 L1339.5,578.1 L1338.5,582.1 L1337.5,579.7 L1336.5,579.6 L1335.5,582.0 L1334.5,581.1 L1333.5,580.9 L1332.5,586.4 L1331.5,577.7 L1330.5,576.6 L1329.5,578.0 L1328.5,574.3 L1327.5,577.3 L1326.5,575.9 L1325.5,573.5 L1324.5,574.8 L1323.5,582.8 L1322.5,575.6 L1321.5,577.6 L1320.5,576.2 L1319.5,577.5 L1318.5,576.0 L1317.5,577.2 L1316.5,579.4 L1315.5,582.2 L1314.5,577.2 L1313.5,575.0 L1312.5,572.7 L1311.5,575.8 L1310.5,575.0 L1309.5,581.1 L1308.5,575.7 L1307.5,578.3 L1306.5,581.6 L1305.5,574.5 L1304.5,577.0 L1303.5,576.4 L1302.5,576.4 L1301.5,580.7 L1300.5,576.2 L1299.5,578.9 L1298.5,574.0 L1297.5,574.7 L1296.5,574.3 L1295.5,575.1 L1294.5,575.6 L1293.5,575.4 L1292.5,576.2 L1291.5,576.6 L1290.5,575.7 L1289.5,576.4 L1288.5,577.1 L1287.5,573.2 L1286.5,575.1 L1285.5,570.0 L1284.5,572.8 L1283.5,572.9 L1282.5,576.7 L1281.5,571.9 L1280.5,572.5 L1279.5,573.4 L1278.5,569.0 L1277.5,571.1 L1276.5,580.8 L1275.5,570.8 L1274.5,572.4 L1273.5,567.1 L1272.5,571.4 L1271.5,567.1 L1270.5,570.6 L1269.5,568.8 L1268.5,567.5 L1267.5,567.8 L1266.5,566.1 L1265.5,567.2 L1264.5,568.9 L1263.5,564.2 L1262.5,565.5 L1261.5,565.4 L1260.5,566.9 L1259.5,562.1 L1258.5,563.5 L1257.5,567.5 L1256.5,560.9 L1255.5,561.1 L1254.5,568.1 L1253.5,560.5 L1252.5,558.1 L1251.5,557.8 L1250.5,558.8 L1249.5,565.7 L1248.5,560.3 L1247.5,558.5 L1246.5,561.8 L1245.5,557.4 L1244.5,554.8 L1243.5,556.2 L1242.5,555.4 L1241.5,555.3 L1240.5,555.3 L1239.5,558.7 L1238.5,554.8 L1237.5,557.2 L1236.5,550.8 L1235.5,555.2 L1234.5,550.2 L1233.5,555.5 L1232.5,550.5 L1231.5,544.8 L1230.5,546.3 L1229.5,545.7 L1228.5,548.6 L1227.5,546.0 L1226.5,543.0 L1225.5,548.1 L1224.5,540.8 L1223.5,539.9 L1222.5,541.8 L1221.5,540.5 L1220.5,537.8 L1219.5,538.9 L1218.5,535.4 L1217.5,534.0 L1216.5,532.5 L1215.5,531.0 L1214.5,527.8 L1213.5,525.5 L1212.5,521.4 L1211.5,516.9 L1210.5,511.6 L1209.5,507.8 L1208.5,503.2 L1207.5,497.6 L1206.5,490.9 L1205.5,484.0 L1204.5,474.9 L1203.5,465.1 L1202.5,452.9 L1201.5,434.5 L1200.5,410.2 L1199.5,370.2 L1198.5,293.1 L1197.5,191.2 L1196.5,80.7Z" fill="#f52a22" fill-opacity="0.62" stroke="none"/>
<path d="M1196.5,83.3 L1197.5,188.8 L1198.5,288.7 L1199.5,365.2 L1200.5,404.3 L1201.5,427.5 L1202.5,444.3 L1203.5,457.0 L1204.5,467.9 L1205.5,476.3 L1206.5,484.1 L1207.5,490.0 L1208.5,495.1 L1209.5,498.4 L1210.5,502.3 L1211.5,504.0 L1212.5,507.0 L1213.5,510.9 L1214.5,514.3 L1215.5,515.0 L1216.5,516.9 L1217.5,519.0 L1218.5,519.4 L1219.5,521.6 L1220.5,520.4 L1221.5,520.4 L1222.5,523.7 L1223.5,520.3 L1224.5,523.8 L1225.5,521.9 L1226.5,522.9 L1227.5,521.9 L1228.5,523.7 L1229.5,522.7 L1230.5,523.1 L1231.5,515.8 L1232.5,525.3 L1233.5,526.1 L1234.5,527.5 L1235.5,527.2 L1236.5,524.6 L1237.5,525.9 L1238.5,525.2 L1239.5,519.9 L1240.5,527.8 L1241.5,527.9 L1242.5,528.9 L1243.5,526.4 L1244.5,532.1 L1245.5,528.8 L1246.5,527.2 L1247.5,526.7 L1248.5,525.8 L1249.5,526.9 L1250.5,527.3 L1251.5,530.0 L1252.5,527.9 L1253.5,529.3 L1254.5,527.8 L1255.5,525.6 L1256.5,529.0 L1257.5,527.7 L1258.5,527.3 L1259.5,528.0 L1260.5,527.0 L1261.5,527.8 L1262.5,528.5 L1263.5,525.5 L1264.5,530.6 L1265.5,531.0 L1266.5,529.3 L1267.5,531.0 L1268.5,529.5 L1269.5,531.6 L1270.5,531.7 L1271.5,528.7 L1272.5,532.7 L1273.5,530.7 L1274.5,528.2 L1275.5,530.7 L1276.5,529.3 L1277.5,532.0 L1278.5,531.6 L1279.5,531.2 L1280.5,532.5 L1281.5,530.6 L1282.5,533.4 L1283.5,530.0 L1284.5,529.9 L1285.5,528.4 L1286.5,530.5 L1287.5,531.9 L1288.5,525.0 L1289.5,529.3 L1290.5,529.0 L1291.5,530.2 L1292.5,530.2 L1293.5,531.5 L1294.5,532.3 L1295.5,532.1 L1296.5,528.8 L1297.5,533.4 L1298.5,533.4 L1299.5,533.7 L1300.5,533.2 L1301.5,533.0 L1302.5,532.6 L1303.5,533.1 L1304.5,532.1 L1305.5,533.3 L1306.5,532.9 L1307.5,532.4 L1308.5,527.3 L1309.5,535.2 L1310.5,530.3 L1311.5,533.9 L1312.5,533.6 L1313.5,529.1 L1314.5,529.4 L1315.5,535.8 L1316.5,532.1 L1317.5,532.2 L1318.5,531.4 L1319.5,532.5 L1320.5,531.6 L1321.5,530.3 L1322.5,532.0 L1323.5,532.3 L1324.5,532.5 L1325.5,525.8 L1326.5,529.4 L1327.5,534.0 L1328.5,533.9 L1329.5,532.7 L1330.5,534.7 L1331.5,530.6 L1332.5,536.4 L1333.5,534.3 L1334.5,534.4 L1335.5,532.4 L1336.5,534.4 L1337.5,533.5 L1338.5,528.1 L1339.5,533.8 L1340.5,532.9 L1341.5,534.6 L1342.5,533.7 L1343.5,533.3 L1344.5,532.5 L1345.5,533.5 L1346.5,531.9 L1347.5,534.0 L1348.5,534.9 L1349.5,532.3 L1350.5,533.3 L1351.5,531.2 L1352.5,533.9 L1353.5,533.8 L1354.5,533.4 L1355.5,533.1 L1356.5,531.9 L1357.5,527.8 L1358.5,536.5 L1359.5,533.5 L1360.5,531.5 L1361.5,530.8 L1362.5,535.7 L1363.5,531.8 L1364.5,534.5 L1365.5,530.6 L1366.5,532.3 L1367.5,534.2 L1368.5,528.5 L1369.5,532.9 L1370.5,532.8 L1371.5,533.5 L1372.5,536.2 L1373.5,533.3 L1374.5,535.7 L1375.5,531.8 L1376.5,534.0 L1377.5,535.0 L1378.5,537.0 L1379.5,531.5 L1380.5,532.1 L1381.5,531.2 L1382.5,531.6 L1383.5,534.5 L1384.5,534.1 L1385.5,533.5 L1386.5,534.2 L1387.5,530.7 L1388.5,528.4 L1389.5,536.2 L1390.5,529.6 L1391.5,529.0 L1392.5,535.5 L1393.5,534.3 L1394.5,534.6 L1395.5,532.5 L1396.5,534.0 L1397.5,533.2 L1398.5,533.6 L1399.5,535.3 L1400.5,533.7 L1401.5,534.1 L1402.5,532.5 L1403.5,528.4 L1404.5,530.8 L1405.5,534.9 L1406.5,536.0 L1407.5,532.3 L1408.5,534.8 L1409.5,536.1 L1410.5,534.5 L1411.5,532.4 L1412.5,532.2 L1413.5,530.1 L1414.5,529.1 L1415.5,531.2 L1416.5,530.1 L1417.5,530.0 L1418.5,531.6 L1419.5,532.0 L1420.5,526.0 L1421.5,528.5 L1422.5,532.9 L1423.5,533.0 L1424.5,526.2 L1425.5,533.9 L1426.5,534.4 L1427.5,526.8 L1428.5,531.3 L1429.5,533.8 L1430.5,531.8 L1431.5,532.8 L1432.5,533.1 L1433.5,534.5 L1434.5,534.9 L1435.5,534.7 L1436.5,532.7 L1437.5,533.5 L1438.5,530.7 L1439.5,533.8 L1440.5,530.0 L1441.5,534.6 L1442.5,530.9 L1443.5,532.1 L1444.5,528.0 L1445.5,530.9 L1446.5,532.3 L1447.5,531.1 L1448.5,525.9 L1449.5,528.8 L1450.5,534.8 L1451.5,535.7 L1452.5,530.4 L1453.5,533.5 L1454.5,534.6 L1455.5,534.4 L1456.5,534.2 L1457.5,530.7 L1458.5,534.1 L1459.5,532.9 L1460.5,532.6 L1461.5,536.0 L1462.5,532.1 L1463.5,532.1 L1464.5,533.3 L1465.5,534.2 L1466.5,530.0 L1467.5,534.3 L1468.5,529.5 L1469.5,532.3 L1470.5,533.2 L1471.5,533.2 L1472.5,526.2 L1473.5,529.1 L1474.5,530.7 L1475.5,530.8 L1476.5,533.3 L1477.5,529.4 L1478.5,531.1 L1479.5,528.6 L1480.5,532.3 L1481.5,530.5 L1482.5,533.0 L1483.5,527.8 L1484.5,535.3 L1485.5,530.0 L1486.5,533.0 L1487.5,533.9 L1488.5,530.4 L1489.5,532.1 L1490.5,530.4 L1491.5,531.2 L1492.5,532.6 L1493.5,530.1 L1494.5,533.9 L1495.5,533.0 L1496.5,535.0 L1497.5,532.6 L1498.5,534.4 L1499.5,534.7 L1500.5,534.7 L1501.5,535.1 L1502.5,535.4 L1503.5,535.2 L1504.5,532.4 L1505.5,534.4 L1506.5,534.6 L1507.5,532.8 L1508.5,532.4 L1509.5,533.9 L1510.5,533.4 L1511.5,531.1 L1512.5,529.6 L1513.5,533.0 L1514.5,532.8 L1515.5,533.5 L1516.5,531.9 L1517.5,534.8 L1518.5,532.5 L1519.5,532.9 L1520.5,533.9 L1521.5,525.9 L1522.5,532.8 L1523.5,535.5 L1524.5,530.7 L1525.5,535.5 L1526.5,536.0 L1527.5,535.2 L1528.5,533.1 L1529.5,534.7 L1530.5,535.4 L1531.5,526.1 L1532.5,533.8 L1533.5,532.5 L1534.5,523.6 L1535.5,533.3 L1536.5,538.2 L1537.5,535.1 L1538.5,535.2 L1539.5,533.6 L1540.5,532.1 L1541.5,534.6 L1542.5,534.6 L1543.5,528.2 L1544.5,530.3 L1545.5,537.4 L1546.5,532.4 L1547.5,534.3 L1548.5,533.7 L1549.5,532.7 L1550.5,534.2 L1551.5,528.7 L1552.5,529.7 L1553.5,528.1 L1554.5,528.3 L1555.5,531.3 L1556.5,532.3 L1557.5,529.3 L1558.5,530.6 L1559.5,528.8 L1560.5,534.8 L1561.5,532.7 L1562.5,534.6 L1563.5,530.5 L1564.5,532.5 L1565.5,534.2 L1566.5,532.8 L1567.5,530.8 L1568.5,531.0 L1569.5,535.5 L1570.5,535.3 L1571.5,535.5 L1572.5,537.7 L1573.5,533.6 L1574.5,526.3 L1575.5,533.4 L1576.5,532.5 L1577.5,534.1 L1578.5,535.9 L1579.5,532.4 L1580.5,538.3 L1581.5,532.1 L1582.5,529.6 L1583.5,535.2 L1584.5,533.4 L1585.5,535.2 L1586.5,533.0 L1587.5,534.8 L1588.5,533.7 L1589.5,531.5 L1590.5,531.1 L1591.5,534.7 L1592.5,520.8 L1593.5,528.9 L1594.5,535.4 L1595.5,532.7 L1596.5,531.0 L1597.5,532.5 L1598.5,532.0 L1599.5,532.7 L1600.5,533.6 L1601.5,530.1 L1602.5,533.8 L1603.5,533.8 L1604.5,530.8 L1605.5,534.3 L1606.5,537.9 L1607.5,537.3 L1608.5,533.7 L1609.5,533.4 L1610.5,534.2 L1611.5,534.2 L1612.5,534.7 L1613.5,533.4 L1614.5,535.1 L1615.5,534.2 L1616.5,534.2 L1617.5,535.8 L1618.5,534.4 L1619.5,533.9 L1620.5,537.1 L1621.5,528.8 L1622.5,538.3 L1623.5,525.1 L1624.5,534.9 L1625.5,535.5 L1626.5,538.3 L1627.5,535.8 L1628.5,534.9 L1629.5,529.5 L1630.5,539.2 L1631.5,532.2 L1632.5,534.2 L1633.5,536.3 L1634.5,532.2 L1635.5,534.2 L1636.5,533.1 L1637.5,533.7 L1638.5,536.7 L1639.5,534.9 L1640.5,535.7 L1641.5,534.5 L1642.5,531.3 L1643.5,536.4 L1644.5,530.2 L1645.5,535.0 L1646.5,540.7 L1647.5,536.1 L1648.5,534.6 L1649.5,533.6 L1650.5,536.4 L1651.5,533.4 L1652.5,531.3 L1653.5,533.4 L1654.5,527.6 L1655.5,535.8 L1656.5,526.8 L1657.5,534.1 L1658.5,534.0 L1659.5,533.7 L1660.5,532.0 L1661.5,536.9 L1662.5,531.6 L1663.5,529.4 L1664.5,535.7 L1665.5,532.2 L1666.5,535.8 L1667.5,532.1 L1668.5,535.1 L1669.5,530.9 L1670.5,535.2 L1671.5,533.2 L1672.5,535.2 L1673.5,531.2 L1674.5,534.4 L1675.5,532.7 L1676.5,528.0 L1677.5,533.8 L1678.5,534.5 L1679.5,537.8 L1680.5,531.1 L1681.5,534.6 L1682.5,535.1 L1683.5,536.4 L1684.5,533.6 L1685.5,537.4 L1686.5,535.4 L1687.5,534.6 L1688.5,534.2 L1689.5,534.3 L1690.5,534.9 L1691.5,536.9 L1692.5,530.2 L1693.5,532.6 L1694.5,533.5 L1695.5,532.9 L1696.5,534.9 L1697.5,536.0 L1698.5,533.9 L1699.5,529.4 L1700.5,535.5 L1701.5,534.4 L1702.5,532.6 L1703.5,534.1 L1704.5,535.5 L1705.5,532.9 L1706.5,534.4 L1707.5,535.5 L1708.5,533.3 L1709.5,525.7 L1710.5,537.1 L1711.5,539.1 L1712.5,535.5 L1713.5,537.8 L1714.5,534.7 L1715.5,529.0 L1716.5,538.6 L1717.5,535.3 L1718.5,536.9 L1719.5,535.9 L1720.5,538.3 L1721.5,535.5 L1722.5,534.3 L1723.5,534.6 L1724.5,534.5 L1725.5,534.5 L1726.5,532.2 L1727.5,534.4 L1728.5,530.6 L1729.5,535.9 L1730.5,531.7 L1731.5,535.6 L1732.5,533.5 L1733.5,535.9 L1734.5,533.4 L1735.5,535.6 L1736.5,537.4 L1737.5,536.1 L1738.5,536.5 L1739.5,539.1 L1740.5,535.7 L1741.5,535.8 L1742.5,536.7 L1743.5,540.3 L1744.5,537.2 L1745.5,537.0 L1746.5,533.8 L1747.5,534.1 L1748.5,536.3 L1749.5,537.5 L1750.5,534.7 L1751.5,533.9 L1752.5,523.6 L1753.5,535.5 L1754.5,535.4 L1755.5,533.4 L1756.5,530.3 L1757.5,536.9 L1758.5,535.8 L1759.5,532.5 L1760.5,534.3 L1761.5,539.9 L1762.5,535.8 L1763.5,541.0 L1764.5,534.1 L1765.5,535.0 L1766.5,540.6 L1767.5,538.7 L1768.5,535.0 L1769.5,522.2 L1770.5,537.2 L1771.5,535.3 L1772.5,537.6 L1773.5,535.1 L1774.5,533.9 L1775.5,533.7 L1776.5,535.9 L1777.5,533.9 L1778.5,533.4 L1779.5,529.7 L1780.5,532.6 L1781.5,537.2 L1782.5,537.8 L1783.5,538.4 L1784.5,536.5 L1785.5,537.7 L1786.5,539.5 L1787.5,537.5 L1788.5,534.1 L1789.5,532.5 L1790.5,536.4 L1791.5,535.0 L1792.5,535.3 L1793.5,534.9 L1794.5,536.4 L1795.5,529.2 L1796.5,533.5 L1797.5,537.6 L1798.5,536.8 L1799.5,533.0 L1800.5,534.9 L1801.5,534.7 L1802.5,534.7 L1803.5,538.0 L1804.5,535.7 L1805.5,533.9 L1806.5,534.1 L1807.5,536.9 L1808.5,534.8 L1809.5,536.6 L1810.5,534.2 L1811.5,533.6 L1812.5,537.8 L1813.5,537.9 L1814.5,540.9 L1815.5,536.6 L1816.5,523.8 L1817.5,539.4 L1818.5,538.1 L1819.5,535.2 L1820.5,536.6 L1821.5,539.6 L1822.5,536.5 L1823.5,531.2 L1824.5,539.0 L1825.5,539.6 L1826.5,539.3 L1827.5,537.8 L1828.5,537.8 L1829.5,539.1 L1830.5,538.4 L1831.5,536.7 L1832.5,537.7 L1833.5,538.1 L1834.5,536.2 L1835.5,538.5 L1836.5,535.6 L1837.5,535.0 L1838.5,536.0 L1839.5,537.7 L1840.5,538.2 L1841.5,536.7 L1842.5,537.7 L1843.5,537.3 L1844.5,536.7 L1845.5,535.4 L1846.5,538.3 L1847.5,535.5 L1848.5,533.8 L1849.5,537.1 L1850.5,536.4 L1851.5,531.3 L1852.5,536.0 L1853.5,537.0 L1854.5,533.3 L1855.5,535.1 L1856.5,534.2 L1857.5,538.8 L1858.5,537.4 L1859.5,533.2 L1860.5,535.7 L1861.5,534.3 L1862.5,536.2 L1863.5,535.6 L1864.5,535.2 L1865.5,538.3 L1866.5,536.8 L1867.5,539.9 L1868.5,531.1 L1869.5,537.6 L1870.5,538.1 L1871.5,534.7 L1872.5,537.5 L1873.5,539.7 L1874.5,539.8 L1875.5,539.1 L1876.5,538.3 L1877.5,534.9 L1878.5,540.0 L1879.5,538.9 L1880.5,540.5 L1881.5,541.4 L1882.5,542.1 L1883.5,538.6 L1884.5,538.3 L1885.5,540.0 L1886.5,541.7 L1887.5,535.9 L1888.5,537.7 L1889.5,529.5 L1890.5,538.5 L1891.5,539.7 L1892.5,540.3 L1893.5,537.8 L1894.5,536.4 L1895.5,539.7 L1896.5,539.6 L1897.5,536.0 L1898.5,538.4 L1899.5,537.6 L1900.5,541.3 L1901.5,541.2 L1902.5,535.1 L1903.5,540.0 L1904.5,539.7 L1905.5,540.4 L1906.5,539.3 L1907.5,542.4 L1908.5,540.6 L1909.5,540.8 L1910.5,539.7 L1911.5,540.2 L1912.5,541.6 L1913.5,539.5 L1914.5,541.8 L1915.5,538.0 L1916.5,541.4 L1917.5,539.3 L1918.5,536.0 L1919.5,529.6 L1920.5,537.7 L1921.5,538.1 L1922.5,535.5 L1923.5,536.5 L1924.5,539.0 L1925.5,537.1 L1926.5,538.9 L1927.5,539.8 L1928.5,540.8 L1929.5,538.1 L1930.5,541.9 L1931.5,539.5 L1931.5,562.8 L1930.5,567.4 L1929.5,563.1 L1928.5,564.5 L1927.5,562.9 L1926.5,563.8 L1925.5,574.9 L1924.5,566.3 L1923.5,564.4 L1922.5,562.5 L1921.5,571.4 L1920.5,564.6 L1919.5,566.1 L1918.5,567.0 L1917.5,564.1 L1916.5,563.4 L1915.5,568.3 L1914.5,566.4 L1913.5,564.8 L1912.5,565.3 L1911.5,563.1 L1910.5,563.3 L1909.5,566.3 L1908.5,562.1 L1907.5,560.8 L1906.5,565.9 L1905.5,564.4 L1904.5,562.6 L1903.5,567.9 L1902.5,559.5 L1901.5,563.7 L1900.5,564.4 L1899.5,561.5 L1898.5,564.0 L1897.5,562.8 L1896.5,561.9 L1895.5,564.2 L1894.5,565.5 L1893.5,565.9 L1892.5,568.6 L1891.5,565.2 L1890.5,568.3 L1889.5,563.4 L1888.5,565.4 L1887.5,567.3 L1886.5,564.1 L1885.5,562.7 L1884.5,560.6 L1883.5,564.6 L1882.5,564.4 L1881.5,570.4 L1880.5,567.8 L1879.5,561.0 L1878.5,566.2 L1877.5,562.4 L1876.5,562.8 L1875.5,561.6 L1874.5,562.0 L1873.5,564.6 L1872.5,560.4 L1871.5,562.2 L1870.5,563.7 L1869.5,565.1 L1868.5,562.0 L1867.5,559.3 L1866.5,563.7 L1865.5,566.9 L1864.5,561.5 L1863.5,560.9 L1862.5,559.2 L1861.5,563.3 L1860.5,562.3 L1859.5,564.6 L1858.5,560.6 L1857.5,562.2 L1856.5,565.9 L1855.5,560.0 L1854.5,562.7 L1853.5,560.9 L1852.5,562.5 L1851.5,565.6 L1850.5,562.5 L1849.5,566.2 L1848.5,570.6 L1847.5,562.1 L1846.5,563.1 L1845.5,561.4 L1844.5,565.2 L1843.5,560.3 L1842.5,559.3 L1841.5,563.8 L1840.5,561.2 L1839.5,559.9 L1838.5,561.0 L1837.5,560.6 L1836.5,559.5 L1835.5,560.3 L1834.5,562.7 L1833.5,558.1 L1832.5,558.9 L1831.5,557.8 L1830.5,559.0 L1829.5,559.7 L1828.5,563.5 L1827.5,559.5 L1826.5,559.5 L1825.5,558.7 L1824.5,560.0 L1823.5,559.1 L1822.5,561.8 L1821.5,562.3 L1820.5,563.9 L1819.5,563.3 L1818.5,561.1 L1817.5,561.5 L1816.5,567.0 L1815.5,560.5 L1814.5,562.2 L1813.5,564.2 L1812.5,560.7 L1811.5,564.9 L1810.5,561.2 L1809.5,562.5 L1808.5,562.0 L1807.5,561.1 L1806.5,562.0 L1805.5,566.3 L1804.5,562.9 L1803.5,558.4 L1802.5,561.4 L1801.5,563.7 L1800.5,564.4 L1799.5,560.2 L1798.5,562.4 L1797.5,560.4 L1796.5,561.6 L1795.5,562.3 L1794.5,560.7 L1793.5,564.6 L1792.5,561.5 L1791.5,562.8 L1790.5,561.9 L1789.5,566.8 L1788.5,564.2 L1787.5,560.9 L1786.5,566.9 L1785.5,562.5 L1784.5,564.2 L1783.5,565.4 L1782.5,561.8 L1781.5,562.2 L1780.5,563.4 L1779.5,563.8 L1778.5,561.1 L1777.5,564.1 L1776.5,564.6 L1775.5,564.5 L1774.5,559.0 L1773.5,564.2 L1772.5,560.3 L1771.5,561.2 L1770.5,558.1 L1769.5,559.8 L1768.5,559.2 L1767.5,561.0 L1766.5,562.2 L1765.5,557.8 L1764.5,558.5 L1763.5,555.2 L1762.5,558.9 L1761.5,557.6 L1760.5,557.9 L1759.5,559.9 L1758.5,556.7 L1757.5,561.3 L1756.5,557.0 L1755.5,562.8 L1754.5,566.1 L1753.5,560.5 L1752.5,559.6 L1751.5,563.7 L1750.5,559.2 L1749.5,556.7 L1748.5,556.5 L1747.5,560.7 L1746.5,559.8 L1745.5,562.4 L1744.5,560.8 L1743.5,561.3 L1742.5,559.2 L1741.5,560.3 L1740.5,562.7 L1739.5,559.8 L1738.5,558.3 L1737.5,557.9 L1736.5,561.8 L1735.5,562.3 L1734.5,563.9 L1733.5,555.2 L1732.5,555.4 L1731.5,558.0 L1730.5,559.9 L1729.5,558.9 L1728.5,560.9 L1727.5,557.9 L1726.5,555.7 L1725.5,558.6 L1724.5,556.6 L1723.5,560.5 L1722.5,562.9 L1721.5,561.1 L1720.5,558.4 L1719.5,561.3 L1718.5,557.5 L1717.5,558.5 L1716.5,558.3 L1715.5,563.2 L1714.5,561.6 L1713.5,561.7 L1712.5,560.7 L1711.5,560.2 L1710.5,560.0 L1709.5,562.0 L1708.5,559.3 L1707.5,558.2 L1706.5,566.5 L1705.5,557.7 L1704.5,563.3 L1703.5,560.0 L1702.5,559.2 L1701.5,558.5 L1700.5,559.1 L1699.5,560.2 L1698.5,565.5 L1697.5,562.5 L1696.5,557.7 L1695.5,560.7 L1694.5,556.3 L1693.5,563.0 L1692.5,557.1 L1691.5,561.2 L1690.5,560.0 L1689.5,558.9 L1688.5,560.8 L1687.5,557.8 L1686.5,559.3 L1685.5,558.5 L1684.5,557.9 L1683.5,561.0 L1682.5,560.8 L1681.5,560.1 L1680.5,559.0 L1679.5,559.8 L1678.5,561.3 L1677.5,556.2 L1676.5,558.0 L1675.5,558.1 L1674.5,557.7 L1673.5,563.0 L1672.5,563.9 L1671.5,558.8 L1670.5,556.3 L1669.5,558.0 L1668.5,557.0 L1667.5,563.4 L1666.5,560.8 L1665.5,559.8 L1664.5,559.4 L1663.5,557.8 L1662.5,554.4 L1661.5,556.7 L1660.5,560.4 L1659.5,558.2 L1658.5,558.2 L1657.5,556.4 L1656.5,556.9 L1655.5,561.5 L1654.5,556.9 L1653.5,557.5 L1652.5,558.3 L1651.5,560.2 L1650.5,558.2 L1649.5,560.1 L1648.5,557.2 L1647.5,554.1 L1646.5,558.8 L1645.5,556.9 L1644.5,561.5 L1643.5,563.2 L1642.5,562.2 L1641.5,559.6 L1640.5,560.1 L1639.5,559.8 L1638.5,557.3 L1637.5,559.1 L1636.5,555.6 L1635.5,557.5 L1634.5,558.4 L1633.5,556.6 L1632.5,556.2 L1631.5,556.6 L1630.5,560.4 L1629.5,557.8 L1628.5,559.3 L1627.5,573.7 L1626.5,558.1 L1625.5,558.8 L1624.5,560.1 L1623.5,557.1 L1622.5,557.8 L1621.5,559.2 L1620.5,558.9 L1619.5,561.4 L1618.5,557.0 L1617.5,558.2 L1616.5,558.1 L1615.5,561.4 L1614.5,557.6 L1613.5,557.4 L1612.5,559.7 L1611.5,560.7 L1610.5,557.7 L1609.5,561.5 L1608.5,557.2 L1607.5,560.6 L1606.5,561.9 L1605.5,557.7 L1604.5,558.1 L1603.5,558.2 L1602.5,564.2 L1601.5,554.8 L1600.5,556.7 L1599.5,557.3 L1598.5,557.3 L1597.5,557.7 L1596.5,561.7 L1595.5,561.5 L1594.5,560.8 L1593.5,558.0 L1592.5,561.6 L1591.5,558.5 L1590.5,561.5 L1589.5,561.9 L1588.5,561.7 L1587.5,560.9 L1586.5,560.4 L1585.5,563.5 L1584.5,560.3 L1583.5,560.4 L1582.5,564.0 L1581.5,561.5 L1580.5,562.1 L1579.5,556.6 L1578.5,563.6 L1577.5,563.4 L1576.5,557.4 L1575.5,560.0 L1574.5,559.0 L1573.5,558.5 L1572.5,556.5 L1571.5,558.6 L1570.5,561.5 L1569.5,559.2 L1568.5,558.2 L1567.5,561.4 L1566.5,556.8 L1565.5,556.9 L1564.5,555.2 L1563.5,556.5 L1562.5,554.8 L1561.5,556.8 L1560.5,558.5 L1559.5,557.5 L1558.5,559.8 L1557.5,556.7 L1556.5,557.4 L1555.5,558.0 L1554.5,558.0 L1553.5,556.2 L1552.5,559.6 L1551.5,560.3 L1550.5,560.8 L1549.5,557.2 L1548.5,559.3 L1547.5,559.2 L1546.5,559.6 L1545.5,560.8 L1544.5,558.8 L1543.5,558.1 L1542.5,557.4 L1541.5,556.8 L1540.5,558.3 L1539.5,558.6 L1538.5,559.6 L1537.5,558.0 L1536.5,558.7 L1535.5,562.8 L1534.5,556.9 L1533.5,557.2 L1532.5,559.6 L1531.5,555.0 L1530.5,559.0 L1529.5,557.2 L1528.5,556.5 L1527.5,559.5 L1526.5,559.0 L1525.5,557.3 L1524.5,555.0 L1523.5,558.5 L1522.5,562.1 L1521.5,555.6 L1520.5,555.1 L1519.5,555.7 L1518.5,557.1 L1517.5,560.4 L1516.5,557.7 L1515.5,557.4 L1514.5,557.9 L1513.5,554.3 L1512.5,554.8 L1511.5,556.0 L1510.5,557.2 L1509.5,557.8 L1508.5,558.4 L1507.5,558.3 L1506.5,559.2 L1505.5,560.4 L1504.5,557.4 L1503.5,557.3 L1502.5,554.3 L1501.5,561.8 L1500.5,555.4 L1499.5,557.9 L1498.5,555.2 L1497.5,557.4 L1496.5,556.7 L1495.5,558.0 L1494.5,558.3 L1493.5,555.5 L1492.5,555.7 L1491.5,558.6 L1490.5,559.2 L1489.5,563.9 L1488.5,553.9 L1487.5,557.3 L1486.5,554.7 L1485.5,557.1 L1484.5,562.4 L1483.5,559.8 L1482.5,560.5 L1481.5,555.0 L1480.5,558.1 L1479.5,561.5 L1478.5,555.1 L1477.5,558.9 L1476.5,555.1 L1475.5,556.0 L1474.5,557.5 L1473.5,560.3 L1472.5,557.4 L1471.5,556.7 L1470.5,552.1 L1469.5,555.9 L1468.5,557.9 L1467.5,554.6 L1466.5,558.4 L1465.5,559.9 L1464.5,553.4 L1463.5,565.6 L1462.5,561.2 L1461.5,561.5 L1460.5,558.5 L1459.5,558.5 L1458.5,555.9 L1457.5,563.0 L1456.5,558.8 L1455.5,557.7 L1454.5,558.4 L1453.5,557.5 L1452.5,562.5 L1451.5,558.1 L1450.5,564.6 L1449.5,560.5 L1448.5,560.2 L1447.5,565.3 L1446.5,558.9 L1445.5,557.1 L1444.5,556.2 L1443.5,557.7 L1442.5,561.2 L1441.5,562.7 L1440.5,557.1 L1439.5,558.4 L1438.5,557.6 L1437.5,564.4 L1436.5,557.8 L1435.5,558.3 L1434.5,555.8 L1433.5,560.0 L1432.5,554.1 L1431.5,554.8 L1430.5,554.6 L1429.5,559.9 L1428.5,555.4 L1427.5,559.7 L1426.5,562.0 L1425.5,561.5 L1424.5,554.2 L1423.5,560.8 L1422.5,558.1 L1421.5,553.7 L1420.5,558.1 L1419.5,560.2 L1418.5,556.3 L1417.5,555.5 L1416.5,554.7 L1415.5,559.5 L1414.5,556.2 L1413.5,555.7 L1412.5,557.0 L1411.5,564.0 L1410.5,555.1 L1409.5,556.9 L1408.5,552.5 L1407.5,556.0 L1406.5,558.9 L1405.5,555.7 L1404.5,559.3 L1403.5,557.6 L1402.5,560.7 L1401.5,554.1 L1400.5,558.5 L1399.5,558.0 L1398.5,558.8 L1397.5,559.9 L1396.5,561.1 L1395.5,556.7 L1394.5,556.0 L1393.5,557.4 L1392.5,557.1 L1391.5,555.9 L1390.5,556.0 L1389.5,560.6 L1388.5,558.2 L1387.5,558.4 L1386.5,558.5 L1385.5,556.6 L1384.5,557.9 L1383.5,559.1 L1382.5,557.3 L1381.5,560.4 L1380.5,560.6 L1379.5,563.3 L1378.5,559.3 L1377.5,559.0 L1376.5,561.4 L1375.5,555.5 L1374.5,553.5 L1373.5,560.1 L1372.5,560.4 L1371.5,557.9 L1370.5,555.7 L1369.5,559.1 L1368.5,555.5 L1367.5,563.1 L1366.5,555.2 L1365.5,554.0 L1364.5,552.4 L1363.5,564.9 L1362.5,562.2 L1361.5,557.3 L1360.5,560.9 L1359.5,555.1 L1358.5,558.2 L1357.5,558.8 L1356.5,559.2 L1355.5,556.0 L1354.5,555.9 L1353.5,558.5 L1352.5,559.3 L1351.5,557.9 L1350.5,558.5 L1349.5,559.5 L1348.5,556.7 L1347.5,569.5 L1346.5,565.6 L1345.5,565.6 L1344.5,560.3 L1343.5,563.2 L1342.5,559.2 L1341.5,558.0 L1340.5,554.4 L1339.5,558.1 L1338.5,558.2 L1337.5,558.6 L1336.5,559.4 L1335.5,555.6 L1334.5,556.6 L1333.5,553.7 L1332.5,559.0 L1331.5,557.3 L1330.5,557.9 L1329.5,563.1 L1328.5,555.2 L1327.5,557.0 L1326.5,557.4 L1325.5,555.2 L1324.5,558.3 L1323.5,557.5 L1322.5,557.1 L1321.5,560.1 L1320.5,562.8 L1319.5,557.6 L1318.5,558.4 L1317.5,559.7 L1316.5,561.2 L1315.5,556.4 L1314.5,558.6 L1313.5,554.4 L1312.5,557.4 L1311.5,554.3 L1310.5,555.3 L1309.5,558.4 L1308.5,557.8 L1307.5,556.6 L1306.5,555.3 L1305.5,560.0 L1304.5,556.6 L1303.5,562.1 L1302.5,557.3 L1301.5,556.9 L1300.5,557.5 L1299.5,559.6 L1298.5,557.8 L1297.5,560.6 L1296.5,559.0 L1295.5,561.0 L1294.5,559.6 L1293.5,564.6 L1292.5,558.2 L1291.5,556.6 L1290.5,558.0 L1289.5,558.8 L1288.5,558.4 L1287.5,558.8 L1286.5,560.5 L1285.5,559.7 L1284.5,558.0 L1283.5,557.3 L1282.5,557.8 L1281.5,557.5 L1280.5,558.3 L1279.5,553.9 L1278.5,556.6 L1277.5,559.5 L1276.5,555.1 L1275.5,555.7 L1274.5,575.1 L1273.5,556.1 L1272.5,553.1 L1271.5,555.3 L1270.5,554.0 L1269.5,554.2 L1268.5,552.2 L1267.5,554.9 L1266.5,553.3 L1265.5,551.6 L1264.5,559.7 L1263.5,553.4 L1262.5,551.9 L1261.5,554.2 L1260.5,556.2 L1259.5,552.7 L1258.5,553.6 L1257.5,557.4 L1256.5,557.2 L1255.5,554.9 L1254.5,551.8 L1253.5,552.5 L1252.5,555.7 L1251.5,553.3 L1250.5,550.4 L1249.5,555.1 L1248.5,552.8 L1247.5,550.3 L1246.5,552.9 L1245.5,554.6 L1244.5,552.6 L1243.5,555.7 L1242.5,554.0 L1241.5,550.8 L1240.5,550.2 L1239.5,551.3 L1238.5,554.2 L1237.5,551.3 L1236.5,551.7 L1235.5,553.2 L1234.5,550.0 L1233.5,552.7 L1232.5,550.3 L1231.5,548.7 L1230.5,550.9 L1229.5,555.9 L1228.5,551.0 L1227.5,549.3 L1226.5,548.2 L1225.5,547.2 L1224.5,549.9 L1223.5,546.1 L1222.5,543.7 L1221.5,541.0 L1220.5,544.7 L1219.5,544.5 L1218.5,539.6 L1217.5,541.4 L1216.5,536.6 L1215.5,539.0 L1214.5,536.0 L1213.5,533.3 L1212.5,530.9 L1211.5,527.6 L1210.5,522.3 L1209.5,519.0 L1208.5,513.5 L1207.5,506.8 L1206.5,498.7 L1205.5,489.8 L1204.5,478.9 L1203.5,468.8 L1202.5,452.7 L1201.5,435.2 L1200.5,410.8 L1199.5,370.7 L1198.5,293.2 L1197.5,192.3 L1196.5,85.8Z" fill="#2a2af0" fill-opacity="0.63" stroke="none"/>
<path d="M1196.5,83.2 L1197.5,188.6 L1198.5,288.9 L1199.5,364.0 L1200.5,399.3 L1201.5,415.6 L1202.5,426.1 L1203.5,432.8 L1204.5,437.1 L1205.5,440.4 L1206.5,444.6 L1207.5,448.6 L1208.5,456.7 L1209.5,463.3 L1210.5,466.4 L1211.5,473.6 L1212.5,477.3 L1213.5,478.1 L1214.5,479.2 L1215.5,482.3 L1216.5,484.6 L1217.5,485.2 L1218.5,485.6 L1219.5,485.0 L1220.5,480.8 L1221.5,484.0 L1222.5,489.4 L1223.5,479.4 L1224.5,484.9 L1225.5,486.7 L1226.5,489.0 L1227.5,487.1 L1228.5,489.6 L1229.5,487.5 L1230.5,494.0 L1231.5,484.0 L1232.5,476.4 L1233.5,485.5 L1234.5,485.8 L1235.5,487.2 L1236.5,487.1 L1237.5,489.2 L1238.5,489.2 L1239.5,490.2 L1240.5,499.1 L1241.5,485.6 L1242.5,488.5 L1243.5,487.0 L1244.5,491.8 L1245.5,487.6 L1246.5,486.5 L1247.5,495.4 L1248.5,494.4 L1249.5,487.8 L1250.5,491.9 L1251.5,490.1 L1252.5,488.9 L1253.5,486.2 L1254.5,494.8 L1255.5,488.0 L1256.5,485.7 L1257.5,489.6 L1258.5,489.6 L1259.5,486.2 L1260.5,491.9 L1261.5,486.1 L1262.5,481.6 L1263.5,484.2 L1264.5,482.0 L1265.5,484.4 L1266.5,485.6 L1267.5,481.3 L1268.5,484.8 L1269.5,479.9 L1270.5,487.2 L1271.5,492.3 L1272.5,490.2 L1273.5,486.8 L1274.5,483.9 L1275.5,487.4 L1276.5,484.2 L1277.5,488.6 L1278.5,489.1 L1279.5,485.5 L1280.5,488.5 L1281.5,487.9 L1282.5,484.7 L1283.5,486.0 L1284.5,491.8 L1285.5,488.7 L1286.5,493.6 L1287.5,488.7 L1288.5,487.3 L1289.5,489.9 L1290.5,483.8 L1291.5,478.3 L1292.5,487.1 L1293.5,485.1 L1294.5,482.1 L1295.5,487.4 L1296.5,484.4 L1297.5,486.2 L1298.5,487.7 L1299.5,489.9 L1300.5,490.9 L1301.5,486.5 L1302.5,488.7 L1303.5,486.4 L1304.5,489.7 L1305.5,490.4 L1306.5,482.2 L1307.5,481.1 L1308.5,485.0 L1309.5,485.7 L1310.5,483.9 L1311.5,490.4 L1312.5,485.1 L1313.5,489.9 L1314.5,485.0 L1315.5,486.2 L1316.5,486.2 L1317.5,489.6 L1318.5,493.7 L1319.5,491.3 L1320.5,480.4 L1321.5,489.5 L1322.5,484.3 L1323.5,489.7 L1324.5,488.2 L1325.5,489.0 L1326.5,487.8 L1327.5,485.1 L1328.5,492.9 L1329.5,485.2 L1330.5,481.1 L1331.5,482.8 L1332.5,487.0 L1333.5,487.9 L1334.5,484.2 L1335.5,484.8 L1336.5,491.1 L1337.5,484.9 L1338.5,487.0 L1339.5,486.8 L1340.5,489.7 L1341.5,490.0 L1342.5,491.6 L1343.5,491.8 L1344.5,494.8 L1345.5,490.8 L1346.5,488.2 L1347.5,492.1 L1348.5,493.0 L1349.5,482.5 L1350.5,487.1 L1351.5,482.2 L1352.5,487.8 L1353.5,485.7 L1354.5,486.0 L1355.5,490.6 L1356.5,481.1 L1357.5,488.0 L1358.5,490.3 L1359.5,487.0 L1360.5,483.0 L1361.5,490.2 L1362.5,481.8 L1363.5,487.4 L1364.5,481.2 L1365.5,482.5 L1366.5,488.3 L1367.5,483.5 L1368.5,481.3 L1369.5,488.4 L1370.5,487.5 L1371.5,487.5 L1372.5,481.7 L1373.5,489.1 L1374.5,487.4 L1375.5,492.2 L1376.5,486.0 L1377.5,492.7 L1378.5,489.8 L1379.5,484.6 L1380.5,485.9 L1381.5,488.3 L1382.5,488.9 L1383.5,489.2 L1384.5,493.1 L1385.5,487.4 L1386.5,486.4 L1387.5,486.1 L1388.5,488.3 L1389.5,479.2 L1390.5,483.8 L1391.5,483.2 L1392.5,486.5 L1393.5,485.6 L1394.5,489.5 L1395.5,494.3 L1396.5,483.9 L1397.5,487.7 L1398.5,481.3 L1399.5,492.6 L1400.5,482.6 L1401.5,489.7 L1402.5,487.7 L1403.5,488.3 L1404.5,485.3 L1405.5,485.9 L1406.5,482.9 L1407.5,482.2 L1408.5,486.0 L1409.5,481.2 L1410.5,484.7 L1411.5,486.5 L1412.5,480.5 L1413.5,485.5 L1414.5,486.0 L1415.5,488.3 L1416.5,490.8 L1417.5,495.6 L1418.5,486.6 L1419.5,491.8 L1420.5,486.1 L1421.5,483.3 L1422.5,491.2 L1423.5,483.1 L1424.5,486.2 L1425.5,485.7 L1426.5,490.9 L1427.5,486.8 L1428.5,486.1 L1429.5,481.5 L1430.5,480.3 L1431.5,485.5 L1432.5,487.7 L1433.5,480.4 L1434.5,486.5 L1435.5,482.5 L1436.5,486.5 L1437.5,485.2 L1438.5,483.3 L1439.5,483.9 L1440.5,485.3 L1441.5,480.8 L1442.5,482.4 L1443.5,485.5 L1444.5,484.5 L1445.5,487.0 L1446.5,484.9 L1447.5,487.6 L1448.5,485.2 L1449.5,488.9 L1450.5,486.0 L1451.5,485.9 L1452.5,487.5 L1453.5,488.6 L1454.5,486.5 L1455.5,482.8 L1456.5,487.4 L1457.5,487.5 L1458.5,486.9 L1459.5,484.8 L1460.5,483.0 L1461.5,484.4 L1462.5,487.8 L1463.5,487.6 L1464.5,482.5 L1465.5,483.8 L1466.5,490.8 L1467.5,485.4 L1468.5,489.9 L1469.5,488.8 L1470.5,492.7 L1471.5,485.9 L1472.5,490.4 L1473.5,486.5 L1474.5,478.9 L1475.5,484.1 L1476.5,489.5 L1477.5,489.2 L1478.5,488.1 L1479.5,491.0 L1480.5,488.7 L1481.5,486.0 L1482.5,488.5 L1483.5,480.9 L1484.5,485.6 L1485.5,488.5 L1486.5,482.0 L1487.5,481.8 L1488.5,485.9 L1489.5,480.7 L1490.5,478.8 L1491.5,484.7 L1492.5,481.0 L1493.5,481.7 L1494.5,490.7 L1495.5,480.6 L1496.5,480.3 L1497.5,488.6 L1498.5,484.0 L1499.5,490.5 L1500.5,479.9 L1501.5,483.3 L1502.5,485.2 L1503.5,482.0 L1504.5,481.1 L1505.5,486.6 L1506.5,482.8 L1507.5,487.7 L1508.5,480.5 L1509.5,487.2 L1510.5,481.5 L1511.5,483.4 L1512.5,484.6 L1513.5,486.6 L1514.5,479.9 L1515.5,483.0 L1516.5,481.9 L1517.5,488.1 L1518.5,487.5 L1519.5,485.4 L1520.5,483.4 L1521.5,488.2 L1522.5,486.4 L1523.5,488.5 L1524.5,483.9 L1525.5,483.4 L1526.5,486.8 L1527.5,491.9 L1528.5,484.9 L1529.5,489.0 L1530.5,475.8 L1531.5,487.0 L1532.5,476.4 L1533.5,482.6 L1534.5,483.5 L1535.5,486.7 L1536.5,486.4 L1537.5,484.5 L1538.5,492.3 L1539.5,479.9 L1540.5,488.8 L1541.5,487.3 L1542.5,493.6 L1543.5,485.2 L1544.5,483.2 L1545.5,482.3 L1546.5,483.0 L1547.5,486.7 L1548.5,485.1 L1549.5,471.6 L1550.5,486.9 L1551.5,483.4 L1552.5,483.9 L1553.5,484.5 L1554.5,474.0 L1555.5,484.4 L1556.5,484.2 L1557.5,474.5 L1558.5,485.1 L1559.5,479.2 L1560.5,481.9 L1561.5,488.4 L1562.5,484.1 L1563.5,478.7 L1564.5,483.0 L1565.5,487.9 L1566.5,480.8 L1567.5,488.6 L1568.5,487.6 L1569.5,486.6 L1570.5,482.9 L1571.5,481.0 L1572.5,484.7 L1573.5,483.1 L1574.5,488.7 L1575.5,484.6 L1576.5,488.0 L1577.5,481.0 L1578.5,488.0 L1579.5,485.3 L1580.5,484.3 L1581.5,473.5 L1582.5,488.3 L1583.5,483.5 L1584.5,487.8 L1585.5,478.0 L1586.5,480.4 L1587.5,482.3 L1588.5,479.0 L1589.5,484.5 L1590.5,483.7 L1591.5,486.5 L1592.5,488.2 L1593.5,486.9 L1594.5,486.2 L1595.5,489.4 L1596.5,484.8 L1597.5,493.1 L1598.5,485.6 L1599.5,486.0 L1600.5,482.5 L1601.5,486.7 L1602.5,489.8 L1603.5,489.1 L1604.5,482.9 L1605.5,488.1 L1606.5,483.7 L1607.5,475.9 L1608.5,486.4 L1609.5,487.4 L1610.5,491.2 L1611.5,486.2 L1612.5,483.1 L1613.5,481.3 L1614.5,486.1 L1615.5,485.1 L1616.5,473.7 L1617.5,486.1 L1618.5,489.6 L1619.5,486.0 L1620.5,483.9 L1621.5,481.5 L1622.5,487.4 L1623.5,484.0 L1624.5,486.2 L1625.5,483.6 L1626.5,485.8 L1627.5,485.9 L1628.5,489.0 L1629.5,487.4 L1630.5,486.1 L1631.5,496.2 L1632.5,482.9 L1633.5,484.0 L1634.5,486.8 L1635.5,487.5 L1636.5,485.6 L1637.5,484.4 L1638.5,478.9 L1639.5,485.2 L1640.5,485.0 L1641.5,479.2 L1642.5,490.0 L1643.5,486.2 L1644.5,489.4 L1645.5,484.8 L1646.5,482.3 L1647.5,483.1 L1648.5,486.2 L1649.5,487.6 L1650.5,487.0 L1651.5,478.6 L1652.5,487.6 L1653.5,486.6 L1654.5,491.5 L1655.5,485.9 L1656.5,487.5 L1657.5,485.6 L1658.5,479.9 L1659.5,488.2 L1660.5,488.6 L1661.5,482.5 L1662.5,481.8 L1663.5,484.3 L1664.5,482.8 L1665.5,485.0 L1666.5,487.1 L1667.5,478.5 L1668.5,478.9 L1669.5,485.0 L1670.5,485.3 L1671.5,480.5 L1672.5,482.3 L1673.5,487.9 L1674.5,483.7 L1675.5,477.5 L1676.5,488.5 L1677.5,484.8 L1678.5,483.5 L1679.5,485.8 L1680.5,474.5 L1681.5,478.4 L1682.5,484.0 L1683.5,484.5 L1684.5,488.8 L1685.5,484.5 L1686.5,485.6 L1687.5,484.3 L1688.5,490.0 L1689.5,484.7 L1690.5,486.6 L1691.5,489.7 L1692.5,482.9 L1693.5,488.2 L1694.5,488.5 L1695.5,482.8 L1696.5,486.2 L1697.5,483.8 L1698.5,484.3 L1699.5,483.5 L1700.5,478.8 L1701.5,484.4 L1702.5,482.4 L1703.5,482.4 L1704.5,488.3 L1705.5,484.0 L1706.5,484.2 L1707.5,486.6 L1708.5,483.0 L1709.5,482.1 L1710.5,485.2 L1711.5,491.4 L1712.5,484.1 L1713.5,487.1 L1714.5,487.4 L1715.5,486.2 L1716.5,483.4 L1717.5,481.9 L1718.5,487.3 L1719.5,487.1 L1720.5,485.9 L1721.5,483.8 L1722.5,483.9 L1723.5,485.3 L1724.5,487.8 L1725.5,486.3 L1726.5,490.4 L1727.5,491.1 L1728.5,481.7 L1729.5,486.8 L1730.5,480.8 L1731.5,480.1 L1732.5,488.8 L1733.5,481.3 L1734.5,472.1 L1735.5,487.4 L1736.5,484.5 L1737.5,485.8 L1738.5,487.5 L1739.5,488.1 L1740.5,485.6 L1741.5,484.3 L1742.5,490.2 L1743.5,487.1 L1744.5,490.7 L1745.5,488.4 L1746.5,486.8 L1747.5,487.9 L1748.5,489.2 L1749.5,490.5 L1750.5,491.5 L1751.5,481.5 L1752.5,494.7 L1753.5,486.8 L1754.5,487.0 L1755.5,489.0 L1756.5,484.0 L1757.5,484.9 L1758.5,490.6 L1759.5,484.8 L1760.5,481.0 L1761.5,489.1 L1762.5,481.9 L1763.5,484.5 L1764.5,487.2 L1765.5,492.4 L1766.5,485.3 L1767.5,488.8 L1768.5,491.2 L1769.5,487.2 L1770.5,492.9 L1771.5,488.1 L1772.5,483.0 L1773.5,494.4 L1774.5,487.0 L1775.5,490.5 L1776.5,488.5 L1777.5,490.7 L1778.5,484.0 L1779.5,487.6 L1780.5,489.2 L1781.5,490.2 L1782.5,487.6 L1783.5,480.7 L1784.5,489.9 L1785.5,485.6 L1786.5,485.1 L1787.5,493.8 L1788.5,484.4 L1789.5,487.3 L1790.5,481.5 L1791.5,482.0 L1792.5,484.0 L1793.5,488.3 L1794.5,485.8 L1795.5,481.5 L1796.5,484.8 L1797.5,488.4 L1798.5,484.8 L1799.5,488.2 L1800.5,484.9 L1801.5,484.8 L1802.5,486.4 L1803.5,488.1 L1804.5,486.9 L1805.5,481.5 L1806.5,487.5 L1807.5,491.3 L1808.5,483.5 L1809.5,486.2 L1810.5,483.4 L1811.5,484.1 L1812.5,481.0 L1813.5,490.1 L1814.5,479.8 L1815.5,489.1 L1816.5,484.3 L1817.5,485.8 L1818.5,485.2 L1819.5,490.9 L1820.5,487.8 L1821.5,489.1 L1822.5,488.8 L1823.5,489.4 L1824.5,489.1 L1825.5,485.1 L1826.5,486.8 L1827.5,484.3 L1828.5,491.1 L1829.5,494.6 L1830.5,489.9 L1831.5,485.4 L1832.5,484.0 L1833.5,484.0 L1834.5,484.1 L1835.5,484.1 L1836.5,487.0 L1837.5,488.7 L1838.5,491.6 L1839.5,485.7 L1840.5,490.5 L1841.5,490.1 L1842.5,486.1 L1843.5,486.3 L1844.5,484.9 L1845.5,489.0 L1846.5,485.0 L1847.5,486.3 L1848.5,484.0 L1849.5,488.2 L1850.5,488.7 L1851.5,490.7 L1852.5,481.9 L1853.5,491.8 L1854.5,484.8 L1855.5,488.5 L1856.5,489.4 L1857.5,489.1 L1858.5,487.8 L1859.5,485.0 L1860.5,484.8 L1861.5,485.9 L1862.5,492.6 L1863.5,492.9 L1864.5,481.5 L1865.5,487.4 L1866.5,492.2 L1867.5,482.9 L1868.5,493.1 L1869.5,485.2 L1870.5,483.9 L1871.5,488.4 L1872.5,484.0 L1873.5,492.4 L1874.5,488.7 L1875.5,489.4 L1876.5,488.4 L1877.5,489.1 L1878.5,487.0 L1879.5,490.3 L1880.5,492.9 L1881.5,485.7 L1882.5,484.7 L1883.5,485.6 L1884.5,480.1 L1885.5,487.4 L1886.5,484.5 L1887.5,490.3 L1888.5,485.6 L1889.5,482.4 L1890.5,486.8 L1891.5,486.1 L1892.5,491.3 L1893.5,485.6 L1894.5,485.8 L1895.5,481.1 L1896.5,492.3 L1897.5,484.3 L1898.5,476.3 L1899.5,485.8 L1900.5,487.1 L1901.5,481.0 L1902.5,478.2 L1903.5,486.3 L1904.5,489.2 L1905.5,489.6 L1906.5,481.9 L1907.5,489.3 L1908.5,489.4 L1909.5,488.6 L1910.5,489.7 L1911.5,489.0 L1912.5,489.9 L1913.5,492.4 L1914.5,488.0 L1915.5,489.3 L1916.5,492.7 L1917.5,490.7 L1918.5,487.0 L1919.5,490.2 L1920.5,486.6 L1921.5,487.6 L1922.5,486.6 L1923.5,490.0 L1924.5,488.8 L1925.5,491.6 L1926.5,489.4 L1927.5,482.1 L1928.5,485.6 L1929.5,487.1 L1930.5,484.7 L1931.5,491.1 L1931.5,529.3 L1930.5,533.5 L1929.5,527.5 L1928.5,531.2 L1927.5,536.5 L1926.5,531.5 L1925.5,529.7 L1924.5,526.6 L1923.5,527.1 L1922.5,527.8 L1921.5,529.3 L1920.5,524.1 L1919.5,529.1 L1918.5,526.9 L1917.5,526.6 L1916.5,534.9 L1915.5,528.4 L1914.5,527.5 L1913.5,529.7 L1912.5,532.0 L1911.5,525.5 L1910.5,522.3 L1909.5,528.1 L1908.5,530.4 L1907.5,528.8 L1906.5,525.4 L1905.5,527.3 L1904.5,525.1 L1903.5,527.4 L1902.5,526.7 L1901.5,528.6 L1900.5,524.4 L1899.5,526.5 L1898.5,532.1 L1897.5,528.4 L1896.5,525.7 L1895.5,527.9 L1894.5,529.5 L1893.5,526.5 L1892.5,526.0 L1891.5,527.0 L1890.5,528.2 L1889.5,531.5 L1888.5,528.5 L1887.5,525.5 L1886.5,529.6 L1885.5,538.6 L1884.5,531.1 L1883.5,527.6 L1882.5,525.5 L1881.5,527.0 L1880.5,526.8 L1879.5,529.0 L1878.5,529.2 L1877.5,525.1 L1876.5,526.5 L1875.5,527.8 L1874.5,526.9 L1873.5,525.4 L1872.5,530.6 L1871.5,527.9 L1870.5,523.6 L1869.5,536.0 L1868.5,529.7 L1867.5,523.9 L1866.5,528.7 L1865.5,529.3 L1864.5,527.6 L1863.5,526.3 L1862.5,525.4 L1861.5,528.4 L1860.5,527.4 L1859.5,526.5 L1858.5,531.6 L1857.5,532.4 L1856.5,525.5 L1855.5,528.7 L1854.5,532.2 L1853.5,529.5 L1852.5,528.4 L1851.5,532.2 L1850.5,530.5 L1849.5,528.6 L1848.5,529.0 L1847.5,525.7 L1846.5,527.8 L1845.5,533.4 L1844.5,527.5 L1843.5,530.7 L1842.5,530.3 L1841.5,531.4 L1840.5,530.7 L1839.5,531.2 L1838.5,535.5 L1837.5,527.0 L1836.5,531.0 L1835.5,531.3 L1834.5,529.0 L1833.5,528.4 L1832.5,528.0 L1831.5,530.0 L1830.5,529.5 L1829.5,526.1 L1828.5,529.2 L1827.5,530.7 L1826.5,527.3 L1825.5,526.1 L1824.5,529.1 L1823.5,526.9 L1822.5,530.9 L1821.5,525.8 L1820.5,526.2 L1819.5,528.4 L1818.5,531.3 L1817.5,528.0 L1816.5,527.8 L1815.5,525.1 L1814.5,530.0 L1813.5,524.3 L1812.5,529.1 L1811.5,531.1 L1810.5,523.8 L1809.5,531.4 L1808.5,527.7 L1807.5,528.5 L1806.5,524.4 L1805.5,525.5 L1804.5,527.7 L1803.5,529.0 L1802.5,526.0 L1801.5,529.8 L1800.5,526.5 L1799.5,530.8 L1798.5,533.1 L1797.5,532.1 L1796.5,528.4 L1795.5,523.1 L1794.5,529.4 L1793.5,528.6 L1792.5,525.9 L1791.5,527.5 L1790.5,529.6 L1789.5,526.9 L1788.5,524.5 L1787.5,525.8 L1786.5,529.9 L1785.5,526.7 L1784.5,525.2 L1783.5,521.0 L1782.5,525.3 L1781.5,532.5 L1780.5,527.3 L1779.5,523.9 L1778.5,527.5 L1777.5,526.1 L1776.5,527.5 L1775.5,524.3 L1774.5,531.1 L1773.5,529.6 L1772.5,523.8 L1771.5,528.7 L1770.5,529.8 L1769.5,529.2 L1768.5,523.8 L1767.5,526.0 L1766.5,525.8 L1765.5,524.5 L1764.5,529.9 L1763.5,527.4 L1762.5,525.8 L1761.5,530.5 L1760.5,525.8 L1759.5,523.3 L1758.5,527.1 L1757.5,524.3 L1756.5,525.4 L1755.5,530.5 L1754.5,527.0 L1753.5,532.9 L1752.5,527.7 L1751.5,525.7 L1750.5,532.1 L1749.5,525.3 L1748.5,525.7 L1747.5,529.9 L1746.5,531.8 L1745.5,526.9 L1744.5,529.3 L1743.5,527.2 L1742.5,526.7 L1741.5,523.9 L1740.5,525.2 L1739.5,528.5 L1738.5,527.8 L1737.5,524.4 L1736.5,529.4 L1735.5,525.6 L1734.5,531.9 L1733.5,529.3 L1732.5,530.4 L1731.5,530.1 L1730.5,530.4 L1729.5,527.3 L1728.5,527.3 L1727.5,524.5 L1726.5,523.3 L1725.5,525.6 L1724.5,531.7 L1723.5,522.4 L1722.5,530.2 L1721.5,525.4 L1720.5,524.0 L1719.5,524.2 L1718.5,526.8 L1717.5,527.2 L1716.5,525.1 L1715.5,528.6 L1714.5,529.6 L1713.5,526.9 L1712.5,523.8 L1711.5,524.1 L1710.5,524.2 L1709.5,525.0 L1708.5,527.7 L1707.5,526.1 L1706.5,525.6 L1705.5,532.8 L1704.5,526.1 L1703.5,530.9 L1702.5,529.7 L1701.5,529.2 L1700.5,520.7 L1699.5,526.8 L1698.5,525.7 L1697.5,525.9 L1696.5,527.9 L1695.5,526.6 L1694.5,525.3 L1693.5,524.6 L1692.5,524.6 L1691.5,528.4 L1690.5,525.2 L1689.5,523.5 L1688.5,520.1 L1687.5,524.2 L1686.5,524.5 L1685.5,522.9 L1684.5,526.0 L1683.5,526.3 L1682.5,523.8 L1681.5,525.4 L1680.5,529.5 L1679.5,525.3 L1678.5,525.4 L1677.5,527.2 L1676.5,527.0 L1675.5,526.0 L1674.5,529.2 L1673.5,529.2 L1672.5,527.7 L1671.5,526.0 L1670.5,527.5 L1669.5,525.7 L1668.5,525.4 L1667.5,528.0 L1666.5,528.6 L1665.5,526.9 L1664.5,526.4 L1663.5,523.0 L1662.5,527.2 L1661.5,524.7 L1660.5,527.1 L1659.5,525.1 L1658.5,521.9 L1657.5,526.8 L1656.5,530.1 L1655.5,529.3 L1654.5,524.7 L1653.5,525.9 L1652.5,525.1 L1651.5,523.8 L1650.5,524.7 L1649.5,533.2 L1648.5,522.0 L1647.5,528.8 L1646.5,522.2 L1645.5,522.5 L1644.5,525.2 L1643.5,520.2 L1642.5,524.2 L1641.5,523.5 L1640.5,529.8 L1639.5,521.9 L1638.5,522.7 L1637.5,526.2 L1636.5,519.9 L1635.5,522.1 L1634.5,529.4 L1633.5,528.2 L1632.5,522.6 L1631.5,520.5 L1630.5,524.9 L1629.5,525.3 L1628.5,524.0 L1627.5,524.2 L1626.5,525.0 L1625.5,525.4 L1624.5,527.2 L1623.5,524.7 L1622.5,524.2 L1621.5,525.2 L1620.5,529.7 L1619.5,523.0 L1618.5,524.3 L1617.5,526.5 L1616.5,520.8 L1615.5,526.4 L1614.5,522.4 L1613.5,524.8 L1612.5,522.5 L1611.5,530.2 L1610.5,524.3 L1609.5,525.9 L1608.5,525.4 L1607.5,526.2 L1606.5,525.0 L1605.5,528.0 L1604.5,527.0 L1603.5,525.1 L1602.5,525.5 L1601.5,526.1 L1600.5,527.7 L1599.5,527.1 L1598.5,521.4 L1597.5,523.7 L1596.5,536.5 L1595.5,528.3 L1594.5,523.4 L1593.5,530.5 L1592.5,530.9 L1591.5,530.1 L1590.5,523.9 L1589.5,527.4 L1588.5,530.3 L1587.5,529.0 L1586.5,526.5 L1585.5,529.2 L1584.5,522.9 L1583.5,526.4 L1582.5,523.7 L1581.5,521.2 L1580.5,527.2 L1579.5,526.7 L1578.5,525.5 L1577.5,525.8 L1576.5,524.8 L1575.5,523.0 L1574.5,522.1 L1573.5,523.1 L1572.5,527.6 L1571.5,522.0 L1570.5,527.4 L1569.5,526.8 L1568.5,531.6 L1567.5,527.8 L1566.5,523.3 L1565.5,530.6 L1564.5,527.9 L1563.5,532.5 L1562.5,525.0 L1561.5,527.8 L1560.5,522.4 L1559.5,525.3 L1558.5,528.4 L1557.5,520.0 L1556.5,528.0 L1555.5,526.7 L1554.5,523.1 L1553.5,524.1 L1552.5,526.1 L1551.5,524.2 L1550.5,525.5 L1549.5,527.6 L1548.5,530.4 L1547.5,527.8 L1546.5,524.6 L1545.5,524.0 L1544.5,519.2 L1543.5,530.4 L1542.5,527.3 L1541.5,529.1 L1540.5,527.7 L1539.5,525.5 L1538.5,527.3 L1537.5,526.9 L1536.5,525.4 L1535.5,523.2 L1534.5,527.3 L1533.5,521.9 L1532.5,529.4 L1531.5,531.5 L1530.5,528.4 L1529.5,525.6 L1528.5,525.3 L1527.5,524.1 L1526.5,521.3 L1525.5,539.2 L1524.5,529.5 L1523.5,531.0 L1522.5,527.9 L1521.5,524.9 L1520.5,524.8 L1519.5,525.2 L1518.5,526.9 L1517.5,520.8 L1516.5,531.9 L1515.5,525.1 L1514.5,526.4 L1513.5,528.1 L1512.5,528.4 L1511.5,524.9 L1510.5,529.7 L1509.5,525.9 L1508.5,530.7 L1507.5,527.3 L1506.5,523.6 L1505.5,525.9 L1504.5,521.3 L1503.5,524.9 L1502.5,522.6 L1501.5,526.0 L1500.5,525.9 L1499.5,526.2 L1498.5,525.3 L1497.5,525.4 L1496.5,530.3 L1495.5,526.0 L1494.5,523.4 L1493.5,527.4 L1492.5,527.5 L1491.5,526.9 L1490.5,527.8 L1489.5,530.1 L1488.5,528.1 L1487.5,528.0 L1486.5,528.7 L1485.5,531.1 L1484.5,526.7 L1483.5,526.2 L1482.5,525.1 L1481.5,532.0 L1480.5,527.2 L1479.5,533.2 L1478.5,528.5 L1477.5,533.0 L1476.5,528.6 L1475.5,528.4 L1474.5,529.7 L1473.5,529.8 L1472.5,532.4 L1471.5,529.1 L1470.5,527.1 L1469.5,528.1 L1468.5,526.1 L1467.5,529.3 L1466.5,525.0 L1465.5,528.6 L1464.5,528.8 L1463.5,528.2 L1462.5,525.4 L1461.5,531.6 L1460.5,528.3 L1459.5,530.4 L1458.5,532.6 L1457.5,531.3 L1456.5,526.9 L1455.5,531.6 L1454.5,527.9 L1453.5,528.9 L1452.5,531.1 L1451.5,526.4 L1450.5,529.9 L1449.5,529.3 L1448.5,528.3 L1447.5,531.2 L1446.5,531.1 L1445.5,527.4 L1444.5,536.3 L1443.5,526.3 L1442.5,527.4 L1441.5,530.0 L1440.5,526.9 L1439.5,525.7 L1438.5,526.6 L1437.5,528.8 L1436.5,529.9 L1435.5,530.5 L1434.5,530.0 L1433.5,527.4 L1432.5,531.6 L1431.5,525.9 L1430.5,521.0 L1429.5,531.5 L1428.5,525.5 L1427.5,529.0 L1426.5,523.7 L1425.5,532.0 L1424.5,529.3 L1423.5,525.8 L1422.5,525.9 L1421.5,525.3 L1420.5,523.0 L1419.5,532.3 L1418.5,530.1 L1417.5,525.5 L1416.5,533.2 L1415.5,535.8 L1414.5,538.0 L1413.5,527.3 L1412.5,533.4 L1411.5,527.1 L1410.5,531.3 L1409.5,531.5 L1408.5,531.5 L1407.5,532.5 L1406.5,529.9 L1405.5,532.7 L1404.5,525.4 L1403.5,527.6 L1402.5,526.5 L1401.5,531.9 L1400.5,529.6 L1399.5,527.8 L1398.5,533.7 L1397.5,529.3 L1396.5,528.0 L1395.5,527.9 L1394.5,528.3 L1393.5,526.2 L1392.5,531.4 L1391.5,525.3 L1390.5,525.1 L1389.5,529.6 L1388.5,523.8 L1387.5,521.8 L1386.5,523.7 L1385.5,528.6 L1384.5,527.4 L1383.5,532.0 L1382.5,528.0 L1381.5,526.0 L1380.5,527.8 L1379.5,534.7 L1378.5,528.4 L1377.5,528.6 L1376.5,534.9 L1375.5,529.4 L1374.5,529.8 L1373.5,530.2 L1372.5,531.0 L1371.5,531.8 L1370.5,527.4 L1369.5,528.7 L1368.5,527.6 L1367.5,530.1 L1366.5,527.9 L1365.5,527.0 L1364.5,528.2 L1363.5,528.8 L1362.5,536.5 L1361.5,527.1 L1360.5,529.0 L1359.5,528.1 L1358.5,530.2 L1357.5,531.8 L1356.5,528.2 L1355.5,523.5 L1354.5,535.2 L1353.5,526.1 L1352.5,532.3 L1351.5,527.6 L1350.5,530.1 L1349.5,525.8 L1348.5,528.9 L1347.5,532.7 L1346.5,528.3 L1345.5,538.9 L1344.5,530.9 L1343.5,525.5 L1342.5,537.4 L1341.5,535.5 L1340.5,529.6 L1339.5,527.5 L1338.5,532.6 L1337.5,530.6 L1336.5,531.9 L1335.5,529.5 L1334.5,526.9 L1333.5,529.4 L1332.5,528.0 L1331.5,533.7 L1330.5,533.9 L1329.5,528.0 L1328.5,526.4 L1327.5,527.3 L1326.5,528.6 L1325.5,524.5 L1324.5,525.0 L1323.5,531.4 L1322.5,525.8 L1321.5,525.2 L1320.5,531.4 L1319.5,528.2 L1318.5,529.8 L1317.5,525.4 L1316.5,531.3 L1315.5,528.2 L1314.5,532.9 L1313.5,530.9 L1312.5,528.2 L1311.5,529.6 L1310.5,527.9 L1309.5,533.3 L1308.5,525.7 L1307.5,528.8 L1306.5,538.0 L1305.5,529.9 L1304.5,526.4 L1303.5,534.3 L1302.5,523.0 L1301.5,530.7 L1300.5,530.1 L1299.5,537.0 L1298.5,534.4 L1297.5,537.2 L1296.5,529.3 L1295.5,531.0 L1294.5,532.7 L1293.5,533.5 L1292.5,530.8 L1291.5,532.3 L1290.5,527.6 L1289.5,529.2 L1288.5,534.8 L1287.5,531.9 L1286.5,534.7 L1285.5,535.9 L1284.5,532.6 L1283.5,531.7 L1282.5,529.0 L1281.5,529.1 L1280.5,528.0 L1279.5,532.4 L1278.5,530.2 L1277.5,531.2 L1276.5,530.7 L1275.5,526.9 L1274.5,528.1 L1273.5,529.6 L1272.5,530.3 L1271.5,528.7 L1270.5,531.1 L1269.5,536.0 L1268.5,528.0 L1267.5,538.4 L1266.5,529.8 L1265.5,537.1 L1264.5,532.3 L1263.5,524.4 L1262.5,533.0 L1261.5,532.1 L1260.5,536.0 L1259.5,533.7 L1258.5,533.4 L1257.5,533.9 L1256.5,531.3 L1255.5,529.6 L1254.5,536.0 L1253.5,532.0 L1252.5,530.2 L1251.5,534.1 L1250.5,532.7 L1249.5,531.8 L1248.5,531.9 L1247.5,531.2 L1246.5,533.2 L1245.5,539.1 L1244.5,529.1 L1243.5,539.2 L1242.5,526.9 L1241.5,533.6 L1240.5,531.3 L1239.5,525.9 L1238.5,532.7 L1237.5,533.4 L1236.5,526.1 L1235.5,526.4 L1234.5,537.4 L1233.5,534.9 L1232.5,528.5 L1231.5,529.6 L1230.5,532.8 L1229.5,535.7 L1228.5,538.7 L1227.5,532.6 L1226.5,531.7 L1225.5,532.3 L1224.5,528.1 L1223.5,529.0 L1222.5,526.5 L1221.5,530.0 L1220.5,525.8 L1219.5,526.3 L1218.5,520.1 L1217.5,520.9 L1216.5,519.1 L1215.5,515.4 L1214.5,511.9 L1213.5,509.4 L1212.5,508.5 L1211.5,502.0 L1210.5,494.2 L1209.5,486.7 L1208.5,479.6 L1207.5,469.1 L1206.5,461.8 L1205.5,456.5 L1204.5,451.7 L1203.5,444.4 L1202.5,435.7 L1201.5,423.9 L1200.5,406.4 L1199.5,370.0 L1198.5,293.7 L1197.5,192.3 L1196.5,85.8Z" fill="#1e8c2e" fill-opacity="0.55" stroke="none"/>
<path d="M1196.5,83.1 L1197.5,188.3 L1198.5,289.1 L1199.5,362.6 L1200.5,393.8 L1201.5,409.3 L1202.5,419.3 L1203.5,427.5 L1204.5,432.3 L1205.5,437.5 L1206.5,440.4 L1207.5,442.3 L1208.5,446.1 L1209.5,447.6 L1210.5,450.8 L1211.5,453.6 L1212.5,454.1 L1213.5,455.9 L1214.5,454.6 L1215.5,455.3 L1216.5,457.7 L1217.5,453.9 L1218.5,461.5 L1219.5,457.8 L1220.5,458.3 L1221.5,462.6 L1222.5,458.8 L1223.5,457.9 L1224.5,459.3 L1225.5,460.2 L1226.5,451.9 L1227.5,460.1 L1228.5,458.9 L1229.5,459.9 L1230.5,460.0 L1231.5,466.9 L1232.5,457.6 L1233.5,458.0 L1234.5,454.8 L1235.5,462.5 L1236.5,465.5 L1237.5,458.6 L1238.5,464.8 L1239.5,461.7 L1240.5,463.1 L1241.5,460.8 L1242.5,461.4 L1243.5,459.2 L1244.5,464.9 L1245.5,449.1 L1246.5,457.7 L1247.5,463.0 L1248.5,463.7 L1249.5,461.5 L1250.5,460.1 L1251.5,463.1 L1252.5,455.0 L1253.5,457.0 L1254.5,464.6 L1255.5,457.0 L1256.5,460.5 L1257.5,457.9 L1258.5,460.3 L1259.5,451.7 L1260.5,460.4 L1261.5,449.1 L1262.5,459.0 L1263.5,455.4 L1264.5,459.8 L1265.5,450.7 L1266.5,457.1 L1267.5,463.1 L1268.5,463.0 L1269.5,461.0 L1270.5,457.6 L1271.5,458.3 L1272.5,458.1 L1273.5,452.1 L1274.5,454.3 L1275.5,462.6 L1276.5,456.7 L1277.5,452.3 L1278.5,462.8 L1279.5,461.7 L1280.5,458.6 L1281.5,458.5 L1282.5,461.9 L1283.5,460.4 L1284.5,453.2 L1285.5,456.6 L1286.5,461.8 L1287.5,465.1 L1288.5,463.4 L1289.5,458.6 L1290.5,461.6 L1291.5,462.3 L1292.5,455.5 L1293.5,459.0 L1294.5,459.4 L1295.5,456.5 L1296.5,453.4 L1297.5,457.2 L1298.5,456.7 L1299.5,457.2 L1300.5,453.0 L1301.5,461.8 L1302.5,460.0 L1303.5,460.3 L1304.5,451.2 L1305.5,452.8 L1306.5,462.2 L1307.5,460.4 L1308.5,457.7 L1309.5,459.2 L1310.5,456.9 L1311.5,461.3 L1312.5,466.2 L1313.5,458.1 L1314.5,456.1 L1315.5,465.7 L1316.5,466.1 L1317.5,457.9 L1318.5,464.8 L1319.5,455.7 L1320.5,463.7 L1321.5,456.2 L1322.5,461.3 L1323.5,460.1 L1324.5,456.2 L1325.5,460.6 L1326.5,463.3 L1327.5,455.9 L1328.5,465.4 L1329.5,454.6 L1330.5,462.0 L1331.5,460.7 L1332.5,455.7 L1333.5,457.7 L1334.5,456.3 L1335.5,462.3 L1336.5,462.1 L1337.5,458.5 L1338.5,453.9 L1339.5,457.4 L1340.5,454.2 L1341.5,460.7 L1342.5,452.8 L1343.5,452.5 L1344.5,456.0 L1345.5,461.2 L1346.5,458.5 L1347.5,456.5 L1348.5,457.7 L1349.5,462.7 L1350.5,457.4 L1351.5,452.3 L1352.5,456.6 L1353.5,459.3 L1354.5,460.5 L1355.5,455.6 L1356.5,460.5 L1357.5,453.4 L1358.5,456.2 L1359.5,460.5 L1360.5,455.6 L1361.5,454.8 L1362.5,447.5 L1363.5,455.7 L1364.5,454.2 L1365.5,454.5 L1366.5,455.4 L1367.5,452.6 L1368.5,456.0 L1369.5,461.0 L1370.5,452.6 L1371.5,450.7 L1372.5,461.5 L1373.5,456.2 L1374.5,459.1 L1375.5,455.6 L1376.5,462.8 L1377.5,461.2 L1378.5,451.5 L1379.5,458.3 L1380.5,461.3 L1381.5,455.3 L1382.5,458.5 L1383.5,448.7 L1384.5,463.7 L1385.5,459.6 L1386.5,455.2 L1387.5,464.2 L1388.5,462.6 L1389.5,456.7 L1390.5,459.4 L1391.5,460.4 L1392.5,456.8 L1393.5,463.9 L1394.5,462.3 L1395.5,453.2 L1396.5,460.2 L1397.5,450.9 L1398.5,459.1 L1399.5,456.1 L1400.5,458.6 L1401.5,458.7 L1402.5,454.3 L1403.5,460.0 L1404.5,465.5 L1405.5,465.2 L1406.5,456.2 L1407.5,459.0 L1408.5,461.5 L1409.5,467.6 L1410.5,463.8 L1411.5,454.4 L1412.5,452.5 L1413.5,456.1 L1414.5,464.8 L1415.5,463.1 L1416.5,459.4 L1417.5,462.8 L1418.5,458.4 L1419.5,463.0 L1420.5,458.6 L1421.5,460.6 L1422.5,462.2 L1423.5,457.7 L1424.5,459.8 L1425.5,461.2 L1426.5,462.6 L1427.5,460.5 L1428.5,468.1 L1429.5,468.0 L1430.5,463.6 L1431.5,461.1 L1432.5,455.2 L1433.5,456.5 L1434.5,464.5 L1435.5,462.1 L1436.5,464.2 L1437.5,461.6 L1438.5,461.9 L1439.5,461.8 L1440.5,459.0 L1441.5,458.4 L1442.5,458.6 L1443.5,463.8 L1444.5,458.0 L1445.5,463.4 L1446.5,459.3 L1447.5,458.4 L1448.5,451.3 L1449.5,459.4 L1450.5,459.9 L1451.5,459.0 L1452.5,456.5 L1453.5,458.2 L1454.5,461.1 L1455.5,458.6 L1456.5,454.8 L1457.5,450.0 L1458.5,457.3 L1459.5,463.6 L1460.5,461.4 L1461.5,461.5 L1462.5,465.2 L1463.5,455.6 L1464.5,465.6 L1465.5,459.1 L1466.5,463.3 L1467.5,461.7 L1468.5,458.7 L1469.5,458.7 L1470.5,458.8 L1471.5,463.2 L1472.5,457.9 L1473.5,460.4 L1474.5,462.0 L1475.5,455.7 L1476.5,470.0 L1477.5,461.6 L1478.5,458.6 L1479.5,457.1 L1480.5,460.9 L1481.5,464.8 L1482.5,460.5 L1483.5,457.1 L1484.5,464.5 L1485.5,463.1 L1486.5,461.8 L1487.5,462.5 L1488.5,467.5 L1489.5,468.5 L1490.5,460.9 L1491.5,461.6 L1492.5,458.6 L1493.5,462.8 L1494.5,460.9 L1495.5,458.2 L1496.5,454.4 L1497.5,460.8 L1498.5,467.1 L1499.5,457.7 L1500.5,463.4 L1501.5,462.8 L1502.5,461.9 L1503.5,463.0 L1504.5,466.7 L1505.5,461.7 L1506.5,463.6 L1507.5,462.6 L1508.5,457.6 L1509.5,462.6 L1510.5,464.5 L1511.5,464.4 L1512.5,466.0 L1513.5,463.2 L1514.5,467.8 L1515.5,464.6 L1516.5,456.3 L1517.5,465.2 L1518.5,463.9 L1519.5,465.2 L1520.5,465.1 L1521.5,466.8 L1522.5,463.9 L1523.5,464.2 L1524.5,470.0 L1525.5,465.2 L1526.5,465.3 L1527.5,464.8 L1528.5,467.0 L1529.5,465.8 L1530.5,466.4 L1531.5,469.3 L1532.5,463.9 L1533.5,462.5 L1534.5,469.7 L1535.5,466.3 L1536.5,464.4 L1537.5,464.5 L1538.5,457.5 L1539.5,462.5 L1540.5,466.3 L1541.5,464.5 L1542.5,462.4 L1543.5,462.4 L1544.5,465.5 L1545.5,464.0 L1546.5,455.8 L1547.5,467.5 L1548.5,466.9 L1549.5,466.9 L1550.5,466.9 L1551.5,462.8 L1552.5,457.4 L1553.5,462.0 L1554.5,465.4 L1555.5,468.0 L1556.5,464.9 L1557.5,466.8 L1558.5,466.9 L1559.5,466.8 L1560.5,466.7 L1561.5,460.9 L1562.5,467.5 L1563.5,468.2 L1564.5,463.3 L1565.5,467.4 L1566.5,463.4 L1567.5,461.1 L1568.5,465.0 L1569.5,460.1 L1570.5,466.9 L1571.5,468.3 L1572.5,463.6 L1573.5,466.0 L1574.5,468.4 L1575.5,467.7 L1576.5,466.9 L1577.5,463.7 L1578.5,464.1 L1579.5,462.0 L1580.5,465.7 L1581.5,461.6 L1582.5,463.9 L1583.5,459.9 L1584.5,467.8 L1585.5,464.8 L1586.5,459.8 L1587.5,458.7 L1588.5,460.2 L1589.5,465.3 L1590.5,463.9 L1591.5,465.2 L1592.5,463.0 L1593.5,466.3 L1594.5,464.8 L1595.5,455.8 L1596.5,462.9 L1597.5,468.0 L1598.5,462.4 L1599.5,460.9 L1600.5,462.3 L1601.5,464.5 L1602.5,461.9 L1603.5,464.7 L1604.5,464.4 L1605.5,464.5 L1606.5,467.4 L1607.5,468.3 L1608.5,467.2 L1609.5,464.1 L1610.5,468.1 L1611.5,466.5 L1612.5,463.4 L1613.5,465.1 L1614.5,470.4 L1615.5,467.1 L1616.5,464.8 L1617.5,461.4 L1618.5,462.9 L1619.5,464.9 L1620.5,458.3 L1621.5,464.5 L1622.5,463.6 L1623.5,466.8 L1624.5,464.4 L1625.5,469.1 L1626.5,463.2 L1627.5,462.7 L1628.5,469.9 L1629.5,465.7 L1630.5,462.5 L1631.5,466.8 L1632.5,466.8 L1633.5,464.5 L1634.5,466.7 L1635.5,466.7 L1636.5,467.2 L1637.5,462.2 L1638.5,465.5 L1639.5,464.9 L1640.5,468.5 L1641.5,464.6 L1642.5,462.6 L1643.5,468.5 L1644.5,463.1 L1645.5,469.8 L1646.5,460.5 L1647.5,460.1 L1648.5,466.9 L1649.5,460.8 L1650.5,470.6 L1651.5,465.2 L1652.5,461.7 L1653.5,464.0 L1654.5,465.1 L1655.5,461.7 L1656.5,465.2 L1657.5,466.0 L1658.5,467.6 L1659.5,465.4 L1660.5,460.3 L1661.5,466.4 L1662.5,471.5 L1663.5,464.6 L1664.5,462.3 L1665.5,464.9 L1666.5,465.6 L1667.5,464.9 L1668.5,470.7 L1669.5,465.0 L1670.5,469.2 L1671.5,467.8 L1672.5,468.1 L1673.5,465.9 L1674.5,462.2 L1675.5,459.4 L1676.5,466.9 L1677.5,465.5 L1678.5,462.1 L1679.5,464.0 L1680.5,465.5 L1681.5,464.2 L1682.5,459.4 L1683.5,462.2 L1684.5,465.2 L1685.5,468.2 L1686.5,469.6 L1687.5,463.9 L1688.5,466.4 L1689.5,467.7 L1690.5,470.7 L1691.5,468.6 L1692.5,467.4 L1693.5,466.3 L1694.5,468.8 L1695.5,467.2 L1696.5,462.9 L1697.5,472.0 L1698.5,464.7 L1699.5,467.5 L1700.5,469.1 L1701.5,467.6 L1702.5,464.7 L1703.5,463.5 L1704.5,466.9 L1705.5,467.3 L1706.5,465.6 L1707.5,470.0 L1708.5,467.5 L1709.5,465.5 L1710.5,461.5 L1711.5,468.6 L1712.5,462.9 L1713.5,467.7 L1714.5,464.0 L1715.5,468.2 L1716.5,470.3 L1717.5,468.6 L1718.5,467.1 L1719.5,460.7 L1720.5,459.9 L1721.5,462.3 L1722.5,466.3 L1723.5,463.0 L1724.5,465.9 L1725.5,466.3 L1726.5,464.4 L1727.5,469.0 L1728.5,472.0 L1729.5,467.8 L1730.5,462.1 L1731.5,466.2 L1732.5,467.8 L1733.5,468.2 L1734.5,467.2 L1735.5,466.4 L1736.5,468.3 L1737.5,465.3 L1738.5,469.8 L1739.5,460.4 L1740.5,468.4 L1741.5,465.3 L1742.5,467.9 L1743.5,466.5 L1744.5,467.2 L1745.5,470.9 L1746.5,464.3 L1747.5,461.5 L1748.5,464.8 L1749.5,466.7 L1750.5,462.4 L1751.5,470.8 L1752.5,457.4 L1753.5,467.6 L1754.5,462.1 L1755.5,465.9 L1756.5,462.9 L1757.5,466.5 L1758.5,468.0 L1759.5,461.4 L1760.5,464.3 L1761.5,468.3 L1762.5,463.3 L1763.5,468.7 L1764.5,467.5 L1765.5,465.8 L1766.5,469.2 L1767.5,467.0 L1768.5,461.8 L1769.5,462.2 L1770.5,468.0 L1771.5,467.8 L1772.5,465.7 L1773.5,471.6 L1774.5,463.5 L1775.5,470.7 L1776.5,470.1 L1777.5,475.4 L1778.5,467.9 L1779.5,456.8 L1780.5,467.7 L1781.5,465.6 L1782.5,472.4 L1783.5,466.3 L1784.5,464.7 L1785.5,470.8 L1786.5,471.2 L1787.5,468.5 L1788.5,469.4 L1789.5,467.0 L1790.5,467.6 L1791.5,462.9 L1792.5,467.3 L1793.5,459.0 L1794.5,469.4 L1795.5,468.2 L1796.5,465.5 L1797.5,469.2 L1798.5,465.4 L1799.5,465.7 L1800.5,473.3 L1801.5,469.3 L1802.5,468.1 L1803.5,468.6 L1804.5,473.8 L1805.5,469.5 L1806.5,469.0 L1807.5,464.6 L1808.5,469.1 L1809.5,461.7 L1810.5,465.3 L1811.5,460.9 L1812.5,465.5 L1813.5,470.5 L1814.5,467.1 L1815.5,466.2 L1816.5,463.6 L1817.5,463.3 L1818.5,467.2 L1819.5,466.4 L1820.5,465.9 L1821.5,461.4 L1822.5,459.8 L1823.5,464.2 L1824.5,469.3 L1825.5,472.4 L1826.5,469.3 L1827.5,466.3 L1828.5,470.9 L1829.5,466.3 L1830.5,465.5 L1831.5,466.2 L1832.5,472.4 L1833.5,464.1 L1834.5,468.7 L1835.5,464.1 L1836.5,467.5 L1837.5,466.2 L1838.5,460.4 L1839.5,466.8 L1840.5,467.9 L1841.5,466.2 L1842.5,465.6 L1843.5,463.2 L1844.5,466.4 L1845.5,466.5 L1846.5,467.4 L1847.5,466.7 L1848.5,466.9 L1849.5,471.7 L1850.5,464.3 L1851.5,468.8 L1852.5,469.5 L1853.5,470.0 L1854.5,470.3 L1855.5,460.4 L1856.5,468.9 L1857.5,469.8 L1858.5,468.5 L1859.5,466.6 L1860.5,466.5 L1861.5,471.6 L1862.5,469.2 L1863.5,459.2 L1864.5,464.0 L1865.5,467.2 L1866.5,462.8 L1867.5,468.7 L1868.5,466.2 L1869.5,469.4 L1870.5,466.0 L1871.5,466.7 L1872.5,467.4 L1873.5,468.4 L1874.5,466.7 L1875.5,461.3 L1876.5,465.9 L1877.5,468.6 L1878.5,472.5 L1879.5,467.4 L1880.5,471.6 L1881.5,462.9 L1882.5,463.8 L1883.5,469.7 L1884.5,464.7 L1885.5,466.7 L1886.5,462.0 L1887.5,464.9 L1888.5,467.8 L1889.5,468.2 L1890.5,467.0 L1891.5,465.3 L1892.5,462.9 L1893.5,468.9 L1894.5,464.9 L1895.5,465.0 L1896.5,470.2 L1897.5,470.2 L1898.5,469.6 L1899.5,465.6 L1900.5,465.4 L1901.5,468.2 L1902.5,470.5 L1903.5,469.1 L1904.5,470.5 L1905.5,472.7 L1906.5,464.9 L1907.5,468.6 L1908.5,470.0 L1909.5,467.1 L1910.5,469.8 L1911.5,469.5 L1912.5,465.6 L1913.5,466.8 L1914.5,464.4 L1915.5,464.5 L1916.5,467.1 L1917.5,464.8 L1918.5,470.8 L1919.5,468.7 L1920.5,467.7 L1921.5,463.8 L1922.5,467.9 L1923.5,468.4 L1924.5,464.0 L1925.5,470.2 L1926.5,466.8 L1927.5,470.6 L1928.5,464.3 L1929.5,466.5 L1930.5,468.3 L1931.5,469.0 L1931.5,511.5 L1930.5,506.2 L1929.5,504.8 L1928.5,505.8 L1927.5,509.9 L1926.5,508.0 L1925.5,513.5 L1924.5,515.6 L1923.5,507.9 L1922.5,511.5 L1921.5,506.3 L1920.5,509.3 L1919.5,511.9 L1918.5,505.4 L1917.5,508.3 L1916.5,507.7 L1915.5,506.2 L1914.5,504.4 L1913.5,505.7 L1912.5,511.5 L1911.5,504.0 L1910.5,506.9 L1909.5,505.2 L1908.5,499.8 L1907.5,507.8 L1906.5,502.1 L1905.5,503.3 L1904.5,508.2 L1903.5,506.0 L1902.5,509.7 L1901.5,503.8 L1900.5,510.7 L1899.5,507.4 L1898.5,510.5 L1897.5,504.9 L1896.5,503.7 L1895.5,506.3 L1894.5,511.1 L1893.5,508.4 L1892.5,510.8 L1891.5,507.1 L1890.5,508.2 L1889.5,503.1 L1888.5,509.4 L1887.5,510.3 L1886.5,511.0 L1885.5,511.3 L1884.5,505.7 L1883.5,503.8 L1882.5,512.7 L1881.5,504.7 L1880.5,506.4 L1879.5,504.4 L1878.5,508.8 L1877.5,504.3 L1876.5,510.8 L1875.5,503.2 L1874.5,507.5 L1873.5,507.8 L1872.5,506.7 L1871.5,508.7 L1870.5,503.1 L1869.5,510.0 L1868.5,505.5 L1867.5,504.2 L1866.5,507.2 L1865.5,510.6 L1864.5,510.7 L1863.5,509.7 L1862.5,507.9 L1861.5,511.2 L1860.5,510.5 L1859.5,504.3 L1858.5,506.9 L1857.5,506.8 L1856.5,511.2 L1855.5,510.3 L1854.5,508.7 L1853.5,508.5 L1852.5,504.8 L1851.5,513.8 L1850.5,506.6 L1849.5,507.1 L1848.5,504.3 L1847.5,509.8 L1846.5,504.6 L1845.5,506.9 L1844.5,507.0 L1843.5,502.3 L1842.5,508.8 L1841.5,506.0 L1840.5,501.3 L1839.5,508.4 L1838.5,506.4 L1837.5,504.2 L1836.5,514.5 L1835.5,509.8 L1834.5,505.3 L1833.5,509.0 L1832.5,505.9 L1831.5,511.5 L1830.5,507.8 L1829.5,504.9 L1828.5,505.2 L1827.5,504.5 L1826.5,507.3 L1825.5,517.5 L1824.5,511.6 L1823.5,501.9 L1822.5,510.2 L1821.5,504.8 L1820.5,503.4 L1819.5,505.6 L1818.5,507.9 L1817.5,504.1 L1816.5,508.4 L1815.5,511.0 L1814.5,511.6 L1813.5,508.9 L1812.5,505.8 L1811.5,503.5 L1810.5,508.1 L1809.5,513.0 L1808.5,510.9 L1807.5,508.1 L1806.5,511.1 L1805.5,510.6 L1804.5,509.7 L1803.5,505.4 L1802.5,509.1 L1801.5,511.8 L1800.5,505.1 L1799.5,506.7 L1798.5,505.5 L1797.5,509.5 L1796.5,507.1 L1795.5,507.7 L1794.5,510.5 L1793.5,501.5 L1792.5,508.4 L1791.5,502.4 L1790.5,501.1 L1789.5,513.0 L1788.5,512.7 L1787.5,504.1 L1786.5,505.6 L1785.5,506.6 L1784.5,516.4 L1783.5,507.1 L1782.5,512.9 L1781.5,511.2 L1780.5,504.3 L1779.5,505.5 L1778.5,503.8 L1777.5,507.4 L1776.5,504.1 L1775.5,508.7 L1774.5,504.0 L1773.5,509.4 L1772.5,502.1 L1771.5,505.8 L1770.5,507.6 L1769.5,508.5 L1768.5,502.5 L1767.5,503.7 L1766.5,506.0 L1765.5,505.3 L1764.5,508.8 L1763.5,506.3 L1762.5,500.3 L1761.5,502.7 L1760.5,504.6 L1759.5,506.5 L1758.5,510.6 L1757.5,505.9 L1756.5,501.8 L1755.5,504.1 L1754.5,502.1 L1753.5,513.3 L1752.5,506.3 L1751.5,504.4 L1750.5,508.2 L1749.5,506.9 L1748.5,514.4 L1747.5,508.6 L1746.5,509.7 L1745.5,504.4 L1744.5,508.6 L1743.5,506.1 L1742.5,514.6 L1741.5,506.2 L1740.5,508.8 L1739.5,503.6 L1738.5,511.2 L1737.5,510.1 L1736.5,503.3 L1735.5,506.0 L1734.5,503.3 L1733.5,500.9 L1732.5,507.9 L1731.5,510.8 L1730.5,508.9 L1729.5,510.6 L1728.5,509.0 L1727.5,506.7 L1726.5,502.6 L1725.5,504.3 L1724.5,506.3 L1723.5,503.7 L1722.5,509.6 L1721.5,507.4 L1720.5,506.8 L1719.5,509.9 L1718.5,510.2 L1717.5,506.5 L1716.5,508.1 L1715.5,509.6 L1714.5,507.9 L1713.5,505.2 L1712.5,499.3 L1711.5,502.5 L1710.5,505.5 L1709.5,506.4 L1708.5,500.3 L1707.5,506.2 L1706.5,505.6 L1705.5,507.5 L1704.5,503.8 L1703.5,503.0 L1702.5,501.8 L1701.5,505.7 L1700.5,509.6 L1699.5,510.4 L1698.5,509.7 L1697.5,504.0 L1696.5,509.3 L1695.5,504.3 L1694.5,509.7 L1693.5,506.8 L1692.5,512.5 L1691.5,507.5 L1690.5,505.2 L1689.5,508.3 L1688.5,505.3 L1687.5,506.1 L1686.5,507.2 L1685.5,506.8 L1684.5,508.3 L1683.5,505.2 L1682.5,507.7 L1681.5,506.8 L1680.5,514.0 L1679.5,510.6 L1678.5,508.8 L1677.5,505.9 L1676.5,510.1 L1675.5,510.8 L1674.5,508.9 L1673.5,510.5 L1672.5,505.6 L1671.5,507.2 L1670.5,505.5 L1669.5,510.3 L1668.5,511.2 L1667.5,508.1 L1666.5,507.3 L1665.5,513.7 L1664.5,510.4 L1663.5,510.8 L1662.5,502.8 L1661.5,509.3 L1660.5,508.0 L1659.5,510.9 L1658.5,505.0 L1657.5,508.0 L1656.5,511.3 L1655.5,517.5 L1654.5,501.7 L1653.5,507.1 L1652.5,504.5 L1651.5,510.3 L1650.5,506.4 L1649.5,502.4 L1648.5,500.7 L1647.5,507.8 L1646.5,501.3 L1645.5,503.1 L1644.5,505.6 L1643.5,501.8 L1642.5,503.5 L1641.5,501.9 L1640.5,506.0 L1639.5,502.2 L1638.5,501.8 L1637.5,504.2 L1636.5,502.8 L1635.5,505.3 L1634.5,505.3 L1633.5,501.5 L1632.5,515.7 L1631.5,505.0 L1630.5,509.8 L1629.5,514.5 L1628.5,511.2 L1627.5,503.4 L1626.5,506.0 L1625.5,507.6 L1624.5,504.7 L1623.5,509.0 L1622.5,506.3 L1621.5,507.4 L1620.5,506.6 L1619.5,506.2 L1618.5,503.1 L1617.5,507.5 L1616.5,514.3 L1615.5,512.2 L1614.5,505.8 L1613.5,505.1 L1612.5,504.0 L1611.5,502.6 L1610.5,501.6 L1609.5,510.2 L1608.5,505.1 L1607.5,515.9 L1606.5,502.7 L1605.5,502.5 L1604.5,504.5 L1603.5,505.1 L1602.5,508.2 L1601.5,509.7 L1600.5,501.9 L1599.5,512.8 L1598.5,504.2 L1597.5,501.7 L1596.5,509.1 L1595.5,507.0 L1594.5,512.4 L1593.5,507.9 L1592.5,506.8 L1591.5,504.3 L1590.5,505.6 L1589.5,503.0 L1588.5,503.6 L1587.5,507.1 L1586.5,507.2 L1585.5,503.7 L1584.5,507.0 L1583.5,506.2 L1582.5,505.0 L1581.5,508.4 L1580.5,503.0 L1579.5,509.0 L1578.5,515.9 L1577.5,501.7 L1576.5,507.6 L1575.5,512.6 L1574.5,503.5 L1573.5,502.3 L1572.5,509.9 L1571.5,506.8 L1570.5,512.3 L1569.5,511.4 L1568.5,504.4 L1567.5,505.1 L1566.5,511.0 L1565.5,505.4 L1564.5,504.8 L1563.5,503.0 L1562.5,506.1 L1561.5,500.7 L1560.5,511.0 L1559.5,512.8 L1558.5,505.8 L1557.5,504.3 L1556.5,503.3 L1555.5,505.1 L1554.5,508.6 L1553.5,508.2 L1552.5,510.6 L1551.5,508.1 L1550.5,504.5 L1549.5,511.3 L1548.5,505.7 L1547.5,518.0 L1546.5,507.3 L1545.5,509.2 L1544.5,508.3 L1543.5,506.3 L1542.5,509.6 L1541.5,513.8 L1540.5,512.3 L1539.5,512.2 L1538.5,513.0 L1537.5,510.2 L1536.5,509.2 L1535.5,511.3 L1534.5,510.8 L1533.5,509.5 L1532.5,507.5 L1531.5,511.4 L1530.5,508.1 L1529.5,506.7 L1528.5,501.8 L1527.5,509.4 L1526.5,508.7 L1525.5,501.0 L1524.5,509.7 L1523.5,507.7 L1522.5,506.0 L1521.5,511.6 L1520.5,509.6 L1519.5,511.8 L1518.5,508.1 L1517.5,505.1 L1516.5,508.0 L1515.5,510.3 L1514.5,504.7 L1513.5,509.0 L1512.5,505.2 L1511.5,503.2 L1510.5,508.6 L1509.5,503.2 L1508.5,504.9 L1507.5,510.1 L1506.5,512.7 L1505.5,510.5 L1504.5,509.7 L1503.5,510.5 L1502.5,507.0 L1501.5,506.6 L1500.5,509.2 L1499.5,502.3 L1498.5,509.1 L1497.5,511.5 L1496.5,499.8 L1495.5,505.8 L1494.5,507.2 L1493.5,508.1 L1492.5,511.0 L1491.5,506.4 L1490.5,508.4 L1489.5,504.5 L1488.5,504.7 L1487.5,509.8 L1486.5,502.4 L1485.5,504.3 L1484.5,505.2 L1483.5,507.6 L1482.5,506.2 L1481.5,508.0 L1480.5,507.2 L1479.5,505.0 L1478.5,507.6 L1477.5,507.5 L1476.5,513.8 L1475.5,506.0 L1474.5,508.7 L1473.5,505.9 L1472.5,500.0 L1471.5,511.3 L1470.5,507.0 L1469.5,505.5 L1468.5,503.9 L1467.5,507.5 L1466.5,507.8 L1465.5,505.3 L1464.5,505.0 L1463.5,504.0 L1462.5,508.2 L1461.5,514.4 L1460.5,510.0 L1459.5,505.7 L1458.5,504.7 L1457.5,508.4 L1456.5,508.8 L1455.5,503.4 L1454.5,503.4 L1453.5,500.2 L1452.5,499.8 L1451.5,500.1 L1450.5,507.0 L1449.5,504.5 L1448.5,507.6 L1447.5,506.4 L1446.5,505.1 L1445.5,508.5 L1444.5,504.1 L1443.5,511.7 L1442.5,504.9 L1441.5,502.9 L1440.5,506.2 L1439.5,507.8 L1438.5,499.5 L1437.5,505.2 L1436.5,505.6 L1435.5,505.1 L1434.5,512.4 L1433.5,508.5 L1432.5,505.2 L1431.5,506.2 L1430.5,505.6 L1429.5,505.4 L1428.5,510.6 L1427.5,507.5 L1426.5,503.8 L1425.5,504.4 L1424.5,500.4 L1423.5,512.7 L1422.5,511.2 L1421.5,505.1 L1420.5,507.9 L1419.5,506.5 L1418.5,504.1 L1417.5,511.4 L1416.5,510.6 L1415.5,507.5 L1414.5,504.5 L1413.5,508.1 L1412.5,507.6 L1411.5,502.3 L1410.5,507.8 L1409.5,508.8 L1408.5,503.5 L1407.5,515.4 L1406.5,510.7 L1405.5,507.8 L1404.5,506.7 L1403.5,504.3 L1402.5,505.8 L1401.5,514.9 L1400.5,512.9 L1399.5,505.0 L1398.5,507.6 L1397.5,505.6 L1396.5,509.1 L1395.5,504.9 L1394.5,509.0 L1393.5,510.3 L1392.5,509.6 L1391.5,505.5 L1390.5,503.1 L1389.5,508.5 L1388.5,508.7 L1387.5,507.9 L1386.5,507.5 L1385.5,509.2 L1384.5,507.5 L1383.5,508.5 L1382.5,506.4 L1381.5,504.2 L1380.5,506.3 L1379.5,503.3 L1378.5,499.2 L1377.5,504.7 L1376.5,505.0 L1375.5,503.7 L1374.5,508.5 L1373.5,509.0 L1372.5,509.3 L1371.5,508.3 L1370.5,506.3 L1369.5,512.6 L1368.5,509.4 L1367.5,505.1 L1366.5,506.7 L1365.5,513.4 L1364.5,503.5 L1363.5,511.9 L1362.5,500.4 L1361.5,505.8 L1360.5,505.2 L1359.5,513.9 L1358.5,507.3 L1357.5,503.1 L1356.5,502.3 L1355.5,515.9 L1354.5,510.9 L1353.5,509.8 L1352.5,509.6 L1351.5,502.7 L1350.5,507.2 L1349.5,507.4 L1348.5,507.4 L1347.5,508.0 L1346.5,508.1 L1345.5,511.8 L1344.5,512.9 L1343.5,509.5 L1342.5,505.5 L1341.5,510.3 L1340.5,504.5 L1339.5,507.3 L1338.5,504.7 L1337.5,506.9 L1336.5,505.4 L1335.5,506.9 L1334.5,509.9 L1333.5,504.7 L1332.5,507.6 L1331.5,505.9 L1330.5,504.4 L1329.5,509.9 L1328.5,509.7 L1327.5,511.1 L1326.5,510.2 L1325.5,508.4 L1324.5,501.3 L1323.5,516.8 L1322.5,509.4 L1321.5,505.9 L1320.5,506.1 L1319.5,512.0 L1318.5,514.9 L1317.5,510.8 L1316.5,518.9 L1315.5,510.1 L1314.5,505.3 L1313.5,505.7 L1312.5,505.4 L1311.5,505.3 L1310.5,505.5 L1309.5,508.6 L1308.5,506.6 L1307.5,503.9 L1306.5,503.5 L1305.5,507.6 L1304.5,506.5 L1303.5,508.9 L1302.5,502.8 L1301.5,506.0 L1300.5,505.2 L1299.5,506.1 L1298.5,515.2 L1297.5,510.4 L1296.5,504.3 L1295.5,506.8 L1294.5,507.9 L1293.5,513.7 L1292.5,514.8 L1291.5,509.7 L1290.5,504.8 L1289.5,509.3 L1288.5,510.3 L1287.5,510.0 L1286.5,509.5 L1285.5,506.3 L1284.5,504.4 L1283.5,507.0 L1282.5,502.9 L1281.5,505.0 L1280.5,510.4 L1279.5,502.3 L1278.5,507.9 L1277.5,505.9 L1276.5,502.5 L1275.5,503.8 L1274.5,507.6 L1273.5,508.2 L1272.5,511.2 L1271.5,508.3 L1270.5,509.9 L1269.5,519.3 L1268.5,508.2 L1267.5,507.5 L1266.5,509.1 L1265.5,511.9 L1264.5,509.7 L1263.5,507.4 L1262.5,504.8 L1261.5,512.0 L1260.5,509.7 L1259.5,508.9 L1258.5,503.4 L1257.5,499.3 L1256.5,507.9 L1255.5,502.2 L1254.5,507.7 L1253.5,505.9 L1252.5,504.1 L1251.5,507.6 L1250.5,507.9 L1249.5,507.1 L1248.5,510.1 L1247.5,516.6 L1246.5,507.0 L1245.5,505.3 L1244.5,507.4 L1243.5,512.1 L1242.5,510.4 L1241.5,519.1 L1240.5,510.0 L1239.5,517.9 L1238.5,507.0 L1237.5,512.6 L1236.5,509.8 L1235.5,506.7 L1234.5,509.1 L1233.5,510.2 L1232.5,511.6 L1231.5,507.7 L1230.5,509.7 L1229.5,508.1 L1228.5,509.7 L1227.5,502.6 L1226.5,505.7 L1225.5,511.0 L1224.5,511.1 L1223.5,504.3 L1222.5,500.9 L1221.5,499.2 L1220.5,497.9 L1219.5,497.1 L1218.5,496.7 L1217.5,499.1 L1216.5,495.6 L1215.5,491.4 L1214.5,489.0 L1213.5,486.6 L1212.5,483.6 L1211.5,481.5 L1210.5,477.1 L1209.5,473.1 L1208.5,469.7 L1207.5,465.3 L1206.5,460.2 L1205.5,454.5 L1204.5,448.2 L1203.5,440.0 L1202.5,430.1 L1201.5,418.6 L1200.5,401.6 L1199.5,369.1 L1198.5,294.3 L1197.5,192.3 L1196.5,85.8Z" fill="#f5a31c" fill-opacity="0.6" stroke="none"/>
<path d="M1196.5,79.5 L1197.5,189.5 L1198.5,291.0 L1199.5,367.7 L1200.5,407.2 L1201.5,431.2 L1202.5,448.6 L1203.5,460.8 L1204.5,470.3 L1205.5,478.2 L1206.5,485.1 L1207.5,491.1 L1208.5,496.2 L1209.5,500.8 L1210.5,505.1 L1211.5,508.7 L1212.5,512.0 L1213.5,514.9 L1214.5,517.6 L1215.5,520.0 L1216.5,522.2 L1217.5,523.9 L1218.5,525.5 L1219.5,527.2 L1220.5,528.3 L1221.5,528.2 L1222.5,529.2 L1223.5,531.3 L1224.5,532.4 L1225.5,532.9 L1226.5,533.5 L1227.5,534.2 L1228.5,534.8 L1229.5,536.4 L1230.5,537.1 L1231.5,537.2 L1232.5,538.8 L1233.5,539.0 L1234.5,539.4 L1235.5,540.2 L1236.5,540.9 L1237.5,540.6 L1238.5,541.5 L1239.5,543.0 L1240.5,543.0 L1241.5,543.5 L1242.5,544.6 L1243.5,544.6 L1244.5,546.0 L1245.5,547.0 L1246.5,546.2 L1247.5,546.4 L1248.5,547.4 L1249.5,547.8 L1250.5,548.0 L1251.5,548.3 L1252.5,548.6 L1253.5,549.7 L1254.5,549.6 L1255.5,549.4 L1256.5,549.8 L1257.5,550.1 L1258.5,550.5 L1259.5,550.3 L1260.5,551.1 L1261.5,552.2 L1262.5,553.5 L1263.5,552.6 L1264.5,552.0 L1265.5,552.9 L1266.5,552.8 L1267.5,552.4 L1268.5,553.5 L1269.5,554.8 L1270.5,555.4 L1271.5,554.9 L1272.5,554.6 L1273.5,554.9 L1274.5,555.6 L1275.5,555.8 L1276.5,555.5 L1277.5,556.4 L1278.5,556.5 L1279.5,556.5 L1280.5,556.6 L1281.5,557.1 L1282.5,557.8 L1283.5,558.3 L1284.5,559.3 L1285.5,558.9 L1286.5,558.9 L1287.5,558.4 L1288.5,559.2 L1289.5,559.7 L1290.5,560.0 L1291.5,559.5 L1292.5,559.9 L1293.5,559.9 L1294.5,559.0 L1295.5,560.4 L1296.5,561.4 L1297.5,561.8 L1298.5,563.7 L1299.5,563.7 L1300.5,562.8 L1301.5,563.3 L1302.5,563.8 L1303.5,564.0 L1304.5,563.9 L1305.5,564.3 L1306.5,564.9 L1307.5,564.3 L1308.5,564.4 L1309.5,564.8 L1310.5,564.7 L1311.5,565.4 L1312.5,565.9 L1313.5,566.1 L1314.5,566.7 L1315.5,566.5 L1316.5,566.2 L1317.5,566.0 L1318.5,565.7 L1319.5,565.5 L1320.5,566.1 L1321.5,565.7 L1322.5,566.1 L1323.5,566.4 L1324.5,566.4 L1325.5,566.5 L1326.5,566.7 L1327.5,567.6 L1328.5,566.6 L1329.5,567.1 L1330.5,568.6 L1331.5,567.8 L1332.5,567.1 L1333.5,566.8 L1334.5,566.9 L1335.5,567.8 L1336.5,568.1 L1337.5,567.5 L1338.5,567.6 L1339.5,567.4 L1340.5,567.0 L1341.5,568.3 L1342.5,568.7 L1343.5,568.8 L1344.5,568.8 L1345.5,568.5 L1346.5,568.4 L1347.5,568.5 L1348.5,568.7 L1349.5,569.0 L1350.5,569.2 L1351.5,568.9 L1352.5,568.5 L1353.5,569.8 L1354.5,570.1 L1355.5,569.0 L1356.5,569.7 L1357.5,570.9 L1358.5,570.5 L1359.5,569.6 L1360.5,569.6 L1361.5,568.6 L1362.5,569.6 L1363.5,570.1 L1364.5,570.0 L1365.5,569.7 L1366.5,569.5 L1367.5,570.1 L1368.5,569.7 L1369.5,569.4 L1370.5,568.7 L1371.5,570.0 L1372.5,570.7 L1373.5,570.2 L1374.5,570.4 L1375.5,570.2 L1376.5,569.9 L1377.5,570.6 L1378.5,571.1 L1379.5,570.6 L1380.5,570.7 L1381.5,571.3 L1382.5,571.7 L1383.5,571.1 L1384.5,570.7 L1385.5,570.2 L1386.5,571.1 L1387.5,572.1 L1388.5,572.1 L1389.5,571.9 L1390.5,572.8 L1391.5,573.1 L1392.5,573.1 L1393.5,572.6 L1394.5,573.4 L1395.5,573.5 L1396.5,572.8 L1397.5,573.3 L1398.5,573.6 L1399.5,574.3 L1400.5,574.6 L1401.5,573.4 L1402.5,572.1 L1403.5,573.2 L1404.5,573.6 L1405.5,573.5 L1406.5,574.1 L1407.5,573.5 L1408.5,572.2 L1409.5,573.3 L1410.5,574.1 L1411.5,573.8 L1412.5,573.7 L1413.5,573.2 L1414.5,572.3 L1415.5,572.1 L1416.5,572.5 L1417.5,571.9 L1418.5,572.8 L1419.5,573.3 L1420.5,573.2 L1421.5,573.1 L1422.5,572.8 L1423.5,572.9 L1424.5,572.9 L1425.5,573.3 L1426.5,573.4 L1427.5,573.4 L1428.5,573.9 L1429.5,574.6 L1430.5,573.8 L1431.5,573.7 L1432.5,574.3 L1433.5,574.0 L1434.5,573.3 L1435.5,573.3 L1436.5,574.4 L1437.5,574.9 L1438.5,574.8 L1439.5,575.2 L1440.5,576.1 L1441.5,576.2 L1442.5,574.6 L1443.5,574.3 L1444.5,574.5 L1445.5,573.3 L1446.5,573.9 L1447.5,575.7 L1448.5,575.9 L1449.5,574.3 L1450.5,574.1 L1451.5,575.1 L1452.5,575.5 L1453.5,575.0 L1454.5,575.2 L1455.5,574.8 L1456.5,575.0 L1457.5,575.1 L1458.5,574.7 L1459.5,573.8 L1460.5,574.2 L1461.5,574.3 L1462.5,574.4 L1463.5,573.9 L1464.5,573.2 L1465.5,573.6 L1466.5,573.2 L1467.5,574.2 L1468.5,575.7 L1469.5,574.8 L1470.5,574.5 L1471.5,574.8 L1472.5,573.7 L1473.5,573.7 L1474.5,575.4 L1475.5,575.3 L1476.5,575.3 L1477.5,575.0 L1478.5,575.4 L1479.5,576.2 L1480.5,576.6 L1481.5,576.3 L1482.5,577.0 L1483.5,576.9 L1484.5,576.3 L1485.5,575.9 L1486.5,577.1 L1487.5,578.1 L1488.5,578.0 L1489.5,577.8 L1490.5,577.7 L1491.5,577.4 L1492.5,577.1 L1493.5,576.8 L1494.5,577.1 L1495.5,577.8 L1496.5,578.0 L1497.5,577.0 L1498.5,576.5 L1499.5,575.8 L1500.5,576.9 L1501.5,577.1 L1502.5,576.9 L1503.5,576.9 L1504.5,576.4 L1505.5,576.5 L1506.5,577.7 L1507.5,577.8 L1508.5,577.4 L1509.5,577.4 L1510.5,577.2 L1511.5,576.1 L1512.5,576.4 L1513.5,576.6 L1514.5,577.0 L1515.5,576.9 L1516.5,576.9 L1517.5,578.0 L1518.5,577.6 L1519.5,576.5 L1520.5,577.0 L1521.5,577.1 L1522.5,576.9 L1523.5,577.1 L1524.5,578.9 L1525.5,578.5 L1526.5,577.5 L1527.5,577.0 L1528.5,577.1 L1529.5,576.9 L1530.5,576.4 L1531.5,577.7 L1532.5,578.0 L1533.5,577.9 L1534.5,579.2 L1535.5,579.3 L1536.5,579.2 L1537.5,579.8 L1538.5,579.9 L1539.5,578.9 L1540.5,578.4 L1541.5,578.7 L1542.5,580.0 L1543.5,580.4 L1544.5,579.3 L1545.5,578.1 L1546.5,578.7 L1547.5,579.1 L1548.5,579.4 L1549.5,579.5 L1550.5,579.8 L1551.5,579.8 L1552.5,579.8 L1553.5,580.0 L1554.5,579.9 L1555.5,580.1 L1556.5,580.8 L1557.5,580.4 L1558.5,580.0 L1559.5,579.0 L1560.5,578.7 L1561.5,578.4 L1562.5,577.5 L1563.5,578.8 L1564.5,579.8 L1565.5,579.6 L1566.5,578.5 L1567.5,578.0 L1568.5,578.4 L1569.5,578.6 L1570.5,580.2 L1571.5,580.2 L1572.5,579.1 L1573.5,578.3 L1574.5,578.4 L1575.5,579.1 L1576.5,578.6 L1577.5,578.7 L1578.5,578.9 L1579.5,579.8 L1580.5,581.1 L1581.5,581.0 L1582.5,580.6 L1583.5,580.3 L1584.5,580.3 L1585.5,579.9 L1586.5,580.0 L1587.5,579.5 L1588.5,579.1 L1589.5,580.2 L1590.5,580.9 L1591.5,580.7 L1592.5,581.6 L1593.5,580.9 L1594.5,580.5 L1595.5,581.6 L1596.5,581.9 L1597.5,581.4 L1598.5,581.7 L1599.5,582.0 L1600.5,580.8 L1601.5,580.3 L1602.5,581.1 L1603.5,581.5 L1604.5,580.0 L1605.5,580.3 L1606.5,581.4 L1607.5,581.3 L1608.5,580.5 L1609.5,579.7 L1610.5,579.9 L1611.5,580.8 L1612.5,581.4 L1613.5,581.1 L1614.5,580.8 L1615.5,579.7 L1616.5,579.4 L1617.5,579.3 L1618.5,580.5 L1619.5,579.8 L1620.5,579.7 L1621.5,580.4 L1622.5,579.5 L1623.5,579.5 L1624.5,580.0 L1625.5,580.3 L1626.5,580.3 L1627.5,580.3 L1628.5,580.7 L1629.5,580.8 L1630.5,580.5 L1631.5,581.1 L1632.5,582.1 L1633.5,581.9 L1634.5,581.5 L1635.5,581.7 L1636.5,581.6 L1637.5,582.3 L1638.5,582.3 L1639.5,582.5 L1640.5,582.6 L1641.5,582.3 L1642.5,582.7 L1643.5,582.2 L1644.5,582.9 L1645.5,583.1 L1646.5,583.4 L1647.5,583.5 L1648.5,582.9 L1649.5,583.1 L1650.5,583.5 L1651.5,583.8 L1652.5,583.2 L1653.5,582.4 L1654.5,581.7 L1655.5,582.0 L1656.5,582.4 L1657.5,581.1 L1658.5,581.6 L1659.5,583.4 L1660.5,582.7 L1661.5,581.7 L1662.5,582.1 L1663.5,582.5 L1664.5,583.3 L1665.5,583.6 L1666.5,583.2 L1667.5,583.9 L1668.5,584.2 L1669.5,584.3 L1670.5,584.1 L1671.5,583.4 L1672.5,583.1 L1673.5,584.4 L1674.5,585.0 L1675.5,584.2 L1676.5,584.5 L1677.5,584.9 L1678.5,585.3 L1679.5,586.3 L1680.5,585.8 L1681.5,584.5 L1682.5,584.8 L1683.5,584.5 L1684.5,585.0 L1685.5,586.0 L1686.5,585.2 L1687.5,584.4 L1688.5,584.8 L1689.5,585.9 L1690.5,584.5 L1691.5,584.3 L1692.5,584.9 L1693.5,584.7 L1694.5,584.7 L1695.5,584.5 L1696.5,584.2 L1697.5,584.1 L1698.5,585.4 L1699.5,585.9 L1700.5,585.3 L1701.5,584.8 L1702.5,583.9 L1703.5,584.1 L1704.5,584.9 L1705.5,585.4 L1706.5,585.1 L1707.5,584.8 L1708.5,585.3 L1709.5,585.9 L1710.5,586.7 L1711.5,587.9 L1712.5,587.5 L1713.5,586.2 L1714.5,586.3 L1715.5,586.5 L1716.5,586.0 L1717.5,586.4 L1718.5,586.7 L1719.5,587.1 L1720.5,587.7 L1721.5,587.9 L1722.5,587.8 L1723.5,587.3 L1724.5,586.9 L1725.5,586.9 L1726.5,587.3 L1727.5,587.5 L1728.5,587.9 L1729.5,587.3 L1730.5,587.2 L1731.5,587.5 L1732.5,587.0 L1733.5,587.5 L1734.5,587.0 L1735.5,587.1 L1736.5,587.9 L1737.5,587.6 L1738.5,587.6 L1739.5,587.4 L1740.5,587.3 L1741.5,587.1 L1742.5,587.3 L1743.5,587.4 L1744.5,587.1 L1745.5,587.1 L1746.5,587.3 L1747.5,587.3 L1748.5,587.2 L1749.5,587.8 L1750.5,587.6 L1751.5,586.9 L1752.5,587.8 L1753.5,587.6 L1754.5,587.9 L1755.5,587.3 L1756.5,586.9 L1757.5,587.3 L1758.5,587.9 L1759.5,588.0 L1760.5,587.2 L1761.5,587.4 L1762.5,588.4 L1763.5,588.5 L1764.5,588.8 L1765.5,587.8 L1766.5,588.5 L1767.5,589.2 L1768.5,587.4 L1769.5,587.9 L1770.5,588.1 L1771.5,587.6 L1772.5,587.9 L1773.5,589.3 L1774.5,589.4 L1775.5,589.0 L1776.5,590.3 L1777.5,590.8 L1778.5,590.0 L1779.5,588.9 L1780.5,588.2 L1781.5,587.7 L1782.5,588.7 L1783.5,588.7 L1784.5,588.1 L1785.5,588.1 L1786.5,587.8 L1787.5,587.7 L1788.5,588.6 L1789.5,588.3 L1790.5,588.2 L1791.5,588.1 L1792.5,587.4 L1793.5,587.5 L1794.5,587.3 L1795.5,586.6 L1796.5,587.2 L1797.5,587.7 L1798.5,587.5 L1799.5,586.8 L1800.5,586.3 L1801.5,586.7 L1802.5,586.8 L1803.5,586.2 L1804.5,586.5 L1805.5,588.2 L1806.5,588.9 L1807.5,588.1 L1808.5,588.2 L1809.5,589.1 L1810.5,588.0 L1811.5,587.3 L1812.5,588.7 L1813.5,588.9 L1814.5,589.9 L1815.5,589.9 L1816.5,589.6 L1817.5,589.1 L1818.5,589.6 L1819.5,589.2 L1820.5,589.0 L1821.5,589.9 L1822.5,590.9 L1823.5,590.5 L1824.5,589.5 L1825.5,589.5 L1826.5,590.7 L1827.5,590.7 L1828.5,591.0 L1829.5,590.5 L1830.5,590.0 L1831.5,590.5 L1832.5,591.5 L1833.5,592.1 L1834.5,590.9 L1835.5,590.1 L1836.5,590.9 L1837.5,590.9 L1838.5,590.0 L1839.5,590.4 L1840.5,591.6 L1841.5,591.0 L1842.5,591.0 L1843.5,591.4 L1844.5,591.3 L1845.5,591.4 L1846.5,591.0 L1847.5,590.3 L1848.5,590.9 L1849.5,590.9 L1850.5,591.5 L1851.5,591.3 L1852.5,590.5 L1853.5,590.4 L1854.5,590.7 L1855.5,590.9 L1856.5,590.5 L1857.5,589.5 L1858.5,590.1 L1859.5,591.8 L1860.5,592.5 L1861.5,592.0 L1862.5,591.4 L1863.5,592.2 L1864.5,592.2 L1865.5,591.2 L1866.5,591.4 L1867.5,591.9 L1868.5,591.4 L1869.5,590.4 L1870.5,589.9 L1871.5,590.8 L1872.5,591.1 L1873.5,590.4 L1874.5,591.0 L1875.5,591.3 L1876.5,591.3 L1877.5,591.3 L1878.5,590.6 L1879.5,590.3 L1880.5,590.1 L1881.5,591.0 L1882.5,591.9 L1883.5,591.5 L1884.5,591.1 L1885.5,591.2 L1886.5,591.4 L1887.5,591.1 L1888.5,590.2 L1889.5,590.4 L1890.5,592.3 L1891.5,593.1 L1892.5,591.7 L1893.5,591.6 L1894.5,592.6 L1895.5,592.3 L1896.5,591.3 L1897.5,592.0 L1898.5,592.7 L1899.5,592.5 L1900.5,592.4 L1901.5,593.0 L1902.5,594.3 L1903.5,593.9 L1904.5,593.6 L1905.5,592.3 L1906.5,592.0 L1907.5,592.8 L1908.5,592.5 L1909.5,593.0 L1910.5,592.5 L1911.5,591.5 L1912.5,591.5 L1913.5,592.0 L1914.5,592.1 L1915.5,591.9 L1916.5,591.8 L1917.5,591.1 L1918.5,591.7 L1919.5,592.9 L1920.5,592.8 L1921.5,594.0 L1922.5,594.1 L1923.5,592.5 L1924.5,592.1 L1925.5,592.2 L1926.5,592.2 L1927.5,592.3 L1928.5,591.6 L1929.5,591.7 L1930.5,592.1 L1931.5,592.5" fill="none" stroke="#ec1010" stroke-width="2.4" stroke-linejoin="round"/>
<path d="M1196.5,84.5 L1197.5,190.4 L1198.5,290.7 L1199.5,367.7 L1200.5,407.3 L1201.5,430.9 L1202.5,448.1 L1203.5,461.4 L1204.5,472.7 L1205.5,482.6 L1206.5,490.4 L1207.5,496.6 L1208.5,502.1 L1209.5,507.0 L1210.5,510.5 L1211.5,513.2 L1212.5,516.3 L1213.5,518.8 L1214.5,520.5 L1215.5,522.5 L1216.5,524.1 L1217.5,525.4 L1218.5,527.0 L1219.5,527.9 L1220.5,529.2 L1221.5,529.8 L1222.5,530.6 L1223.5,531.7 L1224.5,532.6 L1225.5,533.6 L1226.5,533.9 L1227.5,532.5 L1228.5,531.8 L1229.5,533.3 L1230.5,534.1 L1231.5,534.3 L1232.5,535.6 L1233.5,536.6 L1234.5,536.4 L1235.5,536.4 L1236.5,537.0 L1237.5,537.0 L1238.5,537.6 L1239.5,537.9 L1240.5,537.4 L1241.5,537.7 L1242.5,538.5 L1243.5,537.7 L1244.5,539.3 L1245.5,539.3 L1246.5,539.8 L1247.5,540.7 L1248.5,539.9 L1249.5,539.7 L1250.5,540.9 L1251.5,541.0 L1252.5,539.8 L1253.5,540.3 L1254.5,542.4 L1255.5,542.0 L1256.5,541.0 L1257.5,541.5 L1258.5,541.6 L1259.5,541.1 L1260.5,541.1 L1261.5,541.7 L1262.5,542.6 L1263.5,541.6 L1264.5,542.4 L1265.5,542.2 L1266.5,541.7 L1267.5,542.6 L1268.5,543.1 L1269.5,542.6 L1270.5,542.8 L1271.5,542.7 L1272.5,542.5 L1273.5,542.5 L1274.5,543.6 L1275.5,542.7 L1276.5,542.2 L1277.5,542.9 L1278.5,542.4 L1279.5,541.3 L1280.5,541.4 L1281.5,541.0 L1282.5,540.4 L1283.5,541.1 L1284.5,541.2 L1285.5,541.8 L1286.5,542.8 L1287.5,542.2 L1288.5,542.2 L1289.5,542.4 L1290.5,542.4 L1291.5,542.3 L1292.5,542.1 L1293.5,542.7 L1294.5,543.9 L1295.5,544.0 L1296.5,543.5 L1297.5,542.9 L1298.5,542.0 L1299.5,542.4 L1300.5,544.1 L1301.5,543.6 L1302.5,543.7 L1303.5,544.5 L1304.5,544.3 L1305.5,544.3 L1306.5,544.9 L1307.5,543.4 L1308.5,542.9 L1309.5,544.0 L1310.5,544.3 L1311.5,543.9 L1312.5,543.2 L1313.5,543.3 L1314.5,543.4 L1315.5,543.7 L1316.5,544.0 L1317.5,544.5 L1318.5,544.4 L1319.5,543.7 L1320.5,543.8 L1321.5,544.0 L1322.5,544.6 L1323.5,543.6 L1324.5,542.7 L1325.5,543.8 L1326.5,544.7 L1327.5,543.9 L1328.5,543.3 L1329.5,544.6 L1330.5,544.2 L1331.5,543.0 L1332.5,543.4 L1333.5,544.2 L1334.5,544.2 L1335.5,544.6 L1336.5,544.8 L1337.5,545.5 L1338.5,544.7 L1339.5,544.1 L1340.5,544.1 L1341.5,544.7 L1342.5,545.8 L1343.5,545.4 L1344.5,545.1 L1345.5,544.4 L1346.5,544.1 L1347.5,545.9 L1348.5,545.0 L1349.5,544.3 L1350.5,545.7 L1351.5,544.4 L1352.5,543.6 L1353.5,544.1 L1354.5,544.8 L1355.5,545.1 L1356.5,544.3 L1357.5,545.1 L1358.5,544.9 L1359.5,545.0 L1360.5,544.4 L1361.5,544.8 L1362.5,544.3 L1363.5,544.3 L1364.5,544.7 L1365.5,543.5 L1366.5,544.1 L1367.5,544.7 L1368.5,543.8 L1369.5,543.9 L1370.5,544.2 L1371.5,543.6 L1372.5,544.6 L1373.5,544.6 L1374.5,544.7 L1375.5,544.4 L1376.5,545.0 L1377.5,545.1 L1378.5,543.8 L1379.5,543.4 L1380.5,543.6 L1381.5,544.6 L1382.5,544.8 L1383.5,545.4 L1384.5,545.3 L1385.5,545.0 L1386.5,545.5 L1387.5,545.3 L1388.5,545.2 L1389.5,545.3 L1390.5,545.5 L1391.5,544.7 L1392.5,543.3 L1393.5,543.0 L1394.5,543.8 L1395.5,543.2 L1396.5,542.8 L1397.5,543.7 L1398.5,544.0 L1399.5,543.2 L1400.5,544.4 L1401.5,545.1 L1402.5,544.1 L1403.5,544.2 L1404.5,544.8 L1405.5,543.5 L1406.5,543.9 L1407.5,544.1 L1408.5,542.6 L1409.5,542.6 L1410.5,542.7 L1411.5,542.9 L1412.5,543.4 L1413.5,544.6 L1414.5,545.2 L1415.5,544.6 L1416.5,545.2 L1417.5,545.2 L1418.5,544.9 L1419.5,545.1 L1420.5,544.7 L1421.5,545.0 L1422.5,545.2 L1423.5,544.5 L1424.5,544.2 L1425.5,544.2 L1426.5,544.8 L1427.5,545.2 L1428.5,544.2 L1429.5,544.2 L1430.5,544.3 L1431.5,544.3 L1432.5,544.3 L1433.5,544.9 L1434.5,544.4 L1435.5,544.2 L1436.5,543.5 L1437.5,542.0 L1438.5,542.7 L1439.5,542.9 L1440.5,542.3 L1441.5,542.5 L1442.5,543.2 L1443.5,543.3 L1444.5,543.5 L1445.5,543.7 L1446.5,542.8 L1447.5,542.2 L1448.5,543.5 L1449.5,544.5 L1450.5,544.3 L1451.5,544.8 L1452.5,544.7 L1453.5,544.5 L1454.5,544.7 L1455.5,544.8 L1456.5,545.3 L1457.5,544.7 L1458.5,545.1 L1459.5,544.7 L1460.5,544.1 L1461.5,544.9 L1462.5,544.7 L1463.5,543.7 L1464.5,543.7 L1465.5,544.4 L1466.5,544.1 L1467.5,544.2 L1468.5,544.7 L1469.5,544.3 L1470.5,545.1 L1471.5,545.1 L1472.5,545.0 L1473.5,545.1 L1474.5,544.9 L1475.5,545.5 L1476.5,545.9 L1477.5,545.5 L1478.5,544.8 L1479.5,544.0 L1480.5,544.4 L1481.5,544.8 L1482.5,545.6 L1483.5,545.2 L1484.5,544.8 L1485.5,544.7 L1486.5,543.8 L1487.5,544.4 L1488.5,545.3 L1489.5,544.8 L1490.5,544.3 L1491.5,545.1 L1492.5,545.4 L1493.5,543.7 L1494.5,544.8 L1495.5,545.6 L1496.5,544.4 L1497.5,544.7 L1498.5,544.2 L1499.5,544.7 L1500.5,544.1 L1501.5,542.2 L1502.5,542.3 L1503.5,542.7 L1504.5,543.7 L1505.5,543.3 L1506.5,542.3 L1507.5,543.1 L1508.5,544.1 L1509.5,544.3 L1510.5,544.0 L1511.5,545.1 L1512.5,544.6 L1513.5,543.8 L1514.5,544.1 L1515.5,544.2 L1516.5,543.8 L1517.5,543.5 L1518.5,543.9 L1519.5,544.1 L1520.5,544.3 L1521.5,544.5 L1522.5,544.8 L1523.5,544.9 L1524.5,545.6 L1525.5,547.1 L1526.5,547.1 L1527.5,546.5 L1528.5,545.7 L1529.5,546.5 L1530.5,547.1 L1531.5,547.3 L1532.5,547.2 L1533.5,546.8 L1534.5,546.9 L1535.5,546.1 L1536.5,545.0 L1537.5,544.8 L1538.5,545.3 L1539.5,545.7 L1540.5,545.0 L1541.5,545.7 L1542.5,546.2 L1543.5,546.2 L1544.5,545.1 L1545.5,544.7 L1546.5,545.8 L1547.5,545.1 L1548.5,544.3 L1549.5,545.5 L1550.5,545.5 L1551.5,545.0 L1552.5,545.9 L1553.5,545.9 L1554.5,545.9 L1555.5,545.4 L1556.5,545.1 L1557.5,545.6 L1558.5,545.7 L1559.5,544.2 L1560.5,544.5 L1561.5,545.7 L1562.5,544.8 L1563.5,545.7 L1564.5,545.3 L1565.5,545.6 L1566.5,545.9 L1567.5,545.5 L1568.5,545.9 L1569.5,544.2 L1570.5,543.7 L1571.5,544.2 L1572.5,544.2 L1573.5,544.9 L1574.5,544.2 L1575.5,544.3 L1576.5,545.1 L1577.5,544.9 L1578.5,544.6 L1579.5,544.1 L1580.5,545.0 L1581.5,545.7 L1582.5,545.1 L1583.5,544.4 L1584.5,545.5 L1585.5,545.2 L1586.5,544.9 L1587.5,545.4 L1588.5,544.2 L1589.5,544.9 L1590.5,545.8 L1591.5,546.3 L1592.5,547.9 L1593.5,547.3 L1594.5,546.8 L1595.5,547.7 L1596.5,547.3 L1597.5,546.7 L1598.5,547.7 L1599.5,547.7 L1600.5,546.7 L1601.5,546.6 L1602.5,546.6 L1603.5,546.5 L1604.5,546.6 L1605.5,547.5 L1606.5,546.7 L1607.5,545.5 L1608.5,545.4 L1609.5,545.6 L1610.5,545.8 L1611.5,547.0 L1612.5,547.8 L1613.5,547.6 L1614.5,546.2 L1615.5,546.0 L1616.5,545.5 L1617.5,544.7 L1618.5,546.3 L1619.5,547.3 L1620.5,546.2 L1621.5,545.0 L1622.5,545.8 L1623.5,546.2 L1624.5,546.1 L1625.5,546.3 L1626.5,546.3 L1627.5,544.8 L1628.5,545.3 L1629.5,546.0 L1630.5,545.5 L1631.5,545.4 L1632.5,546.0 L1633.5,546.8 L1634.5,546.6 L1635.5,546.7 L1636.5,546.8 L1637.5,547.2 L1638.5,546.3 L1639.5,545.4 L1640.5,545.5 L1641.5,546.5 L1642.5,548.4 L1643.5,547.0 L1644.5,545.5 L1645.5,546.2 L1646.5,547.3 L1647.5,546.7 L1648.5,546.4 L1649.5,545.9 L1650.5,545.4 L1651.5,546.4 L1652.5,547.4 L1653.5,546.7 L1654.5,545.9 L1655.5,546.0 L1656.5,547.0 L1657.5,546.9 L1658.5,545.6 L1659.5,545.9 L1660.5,546.3 L1661.5,545.9 L1662.5,544.6 L1663.5,545.3 L1664.5,546.4 L1665.5,546.5 L1666.5,546.5 L1667.5,545.7 L1668.5,545.7 L1669.5,545.6 L1670.5,545.0 L1671.5,544.6 L1672.5,545.1 L1673.5,545.8 L1674.5,545.4 L1675.5,545.4 L1676.5,545.7 L1677.5,546.4 L1678.5,546.7 L1679.5,545.7 L1680.5,545.8 L1681.5,545.6 L1682.5,545.2 L1683.5,546.3 L1684.5,546.5 L1685.5,546.8 L1686.5,547.1 L1687.5,546.6 L1688.5,546.2 L1689.5,545.1 L1690.5,545.2 L1691.5,545.7 L1692.5,545.8 L1693.5,545.6 L1694.5,544.5 L1695.5,544.2 L1696.5,545.1 L1697.5,545.7 L1698.5,545.8 L1699.5,545.5 L1700.5,545.9 L1701.5,545.3 L1702.5,544.5 L1703.5,544.3 L1704.5,545.4 L1705.5,546.2 L1706.5,545.4 L1707.5,544.6 L1708.5,544.4 L1709.5,545.8 L1710.5,545.9 L1711.5,545.0 L1712.5,545.9 L1713.5,545.3 L1714.5,545.3 L1715.5,546.1 L1716.5,546.0 L1717.5,545.6 L1718.5,546.5 L1719.5,546.9 L1720.5,546.8 L1721.5,546.9 L1722.5,547.1 L1723.5,546.2 L1724.5,545.9 L1725.5,546.7 L1726.5,547.2 L1727.5,547.7 L1728.5,547.2 L1729.5,546.9 L1730.5,547.3 L1731.5,547.1 L1732.5,546.6 L1733.5,547.2 L1734.5,548.0 L1735.5,546.8 L1736.5,546.5 L1737.5,546.8 L1738.5,546.8 L1739.5,547.1 L1740.5,547.7 L1741.5,546.4 L1742.5,545.7 L1743.5,546.2 L1744.5,545.7 L1745.5,545.8 L1746.5,546.4 L1747.5,546.4 L1748.5,546.8 L1749.5,547.5 L1750.5,547.3 L1751.5,546.4 L1752.5,546.7 L1753.5,546.6 L1754.5,545.9 L1755.5,545.5 L1756.5,545.8 L1757.5,546.9 L1758.5,546.7 L1759.5,546.5 L1760.5,546.9 L1761.5,546.4 L1762.5,546.2 L1763.5,546.8 L1764.5,547.2 L1765.5,548.1 L1766.5,548.1 L1767.5,547.3 L1768.5,547.1 L1769.5,548.2 L1770.5,548.1 L1771.5,548.1 L1772.5,548.7 L1773.5,548.1 L1774.5,548.0 L1775.5,547.1 L1776.5,546.9 L1777.5,547.3 L1778.5,547.8 L1779.5,548.3 L1780.5,548.2 L1781.5,548.9 L1782.5,549.4 L1783.5,548.8 L1784.5,548.4 L1785.5,547.5 L1786.5,547.6 L1787.5,549.4 L1788.5,549.2 L1789.5,548.5 L1790.5,548.4 L1791.5,548.5 L1792.5,548.9 L1793.5,548.2 L1794.5,546.9 L1795.5,547.1 L1796.5,548.3 L1797.5,549.1 L1798.5,549.4 L1799.5,549.1 L1800.5,548.2 L1801.5,548.5 L1802.5,549.6 L1803.5,548.9 L1804.5,548.2 L1805.5,548.2 L1806.5,548.3 L1807.5,548.3 L1808.5,548.4 L1809.5,547.3 L1810.5,547.6 L1811.5,548.6 L1812.5,548.2 L1813.5,548.3 L1814.5,548.8 L1815.5,548.6 L1816.5,549.3 L1817.5,549.5 L1818.5,548.7 L1819.5,548.9 L1820.5,549.8 L1821.5,550.2 L1822.5,549.4 L1823.5,549.2 L1824.5,549.7 L1825.5,549.6 L1826.5,549.9 L1827.5,549.2 L1828.5,548.7 L1829.5,549.4 L1830.5,549.8 L1831.5,548.6 L1832.5,548.3 L1833.5,548.5 L1834.5,549.1 L1835.5,550.4 L1836.5,550.4 L1837.5,550.3 L1838.5,549.6 L1839.5,549.0 L1840.5,549.4 L1841.5,549.2 L1842.5,548.5 L1843.5,547.7 L1844.5,548.2 L1845.5,549.3 L1846.5,549.0 L1847.5,548.9 L1848.5,550.2 L1849.5,548.8 L1850.5,548.0 L1851.5,548.1 L1852.5,548.1 L1853.5,548.5 L1854.5,548.3 L1855.5,549.1 L1856.5,549.6 L1857.5,549.5 L1858.5,549.0 L1859.5,549.1 L1860.5,549.0 L1861.5,549.1 L1862.5,548.7 L1863.5,548.7 L1864.5,548.5 L1865.5,548.6 L1866.5,549.6 L1867.5,549.3 L1868.5,548.5 L1869.5,548.9 L1870.5,549.5 L1871.5,547.7 L1872.5,548.0 L1873.5,549.3 L1874.5,549.7 L1875.5,550.0 L1876.5,550.3 L1877.5,550.2 L1878.5,549.1 L1879.5,548.8 L1880.5,549.7 L1881.5,550.7 L1882.5,550.3 L1883.5,549.6 L1884.5,550.2 L1885.5,549.9 L1886.5,548.9 L1887.5,549.2 L1888.5,550.4 L1889.5,549.8 L1890.5,549.2 L1891.5,550.0 L1892.5,550.6 L1893.5,550.5 L1894.5,550.8 L1895.5,550.5 L1896.5,550.7 L1897.5,550.4 L1898.5,550.8 L1899.5,551.5 L1900.5,551.3 L1901.5,551.1 L1902.5,550.1 L1903.5,549.9 L1904.5,550.2 L1905.5,549.5 L1906.5,549.6 L1907.5,550.1 L1908.5,550.2 L1909.5,550.8 L1910.5,551.8 L1911.5,551.7 L1912.5,551.8 L1913.5,551.5 L1914.5,552.0 L1915.5,552.7 L1916.5,552.7 L1917.5,552.3 L1918.5,551.8 L1919.5,551.6 L1920.5,551.8 L1921.5,551.9 L1922.5,551.8 L1923.5,552.6 L1924.5,552.8 L1925.5,553.0 L1926.5,553.3 L1927.5,553.3 L1928.5,553.4 L1929.5,553.6 L1930.5,553.5 L1931.5,553.2" fill="none" stroke="#1010dd" stroke-width="2.4" stroke-linejoin="round"/>
<path d="M1196.5,84.5 L1197.5,190.4 L1198.5,291.3 L1199.5,367.0 L1200.5,402.9 L1201.5,419.7 L1202.5,430.8 L1203.5,438.4 L1204.5,444.0 L1205.5,448.6 L1206.5,453.5 L1207.5,459.8 L1208.5,467.3 L1209.5,475.0 L1210.5,481.4 L1211.5,487.0 L1212.5,492.0 L1213.5,495.4 L1214.5,497.1 L1215.5,498.8 L1216.5,501.1 L1217.5,502.0 L1218.5,503.2 L1219.5,504.3 L1220.5,505.4 L1221.5,506.4 L1222.5,506.6 L1223.5,507.7 L1224.5,508.9 L1225.5,509.1 L1226.5,508.5 L1227.5,507.7 L1228.5,509.3 L1229.5,510.2 L1230.5,509.5 L1231.5,509.5 L1232.5,509.3 L1233.5,509.6 L1234.5,509.9 L1235.5,509.3 L1236.5,510.0 L1237.5,510.0 L1238.5,510.7 L1239.5,510.4 L1240.5,511.2 L1241.5,511.7 L1242.5,511.1 L1243.5,511.8 L1244.5,511.6 L1245.5,511.4 L1246.5,511.4 L1247.5,510.4 L1248.5,510.5 L1249.5,511.8 L1250.5,511.4 L1251.5,510.1 L1252.5,510.3 L1253.5,510.9 L1254.5,510.9 L1255.5,511.7 L1256.5,511.7 L1257.5,511.3 L1258.5,510.2 L1259.5,511.1 L1260.5,512.1 L1261.5,511.5 L1262.5,511.5 L1263.5,510.8 L1264.5,511.3 L1265.5,511.8 L1266.5,512.3 L1267.5,511.4 L1268.5,511.7 L1269.5,511.0 L1270.5,510.4 L1271.5,510.3 L1272.5,510.8 L1273.5,511.3 L1274.5,511.3 L1275.5,511.4 L1276.5,510.4 L1277.5,510.5 L1278.5,511.0 L1279.5,510.0 L1280.5,508.9 L1281.5,509.2 L1282.5,509.0 L1283.5,509.1 L1284.5,509.8 L1285.5,510.7 L1286.5,510.3 L1287.5,510.0 L1288.5,510.8 L1289.5,510.7 L1290.5,510.2 L1291.5,509.5 L1292.5,509.3 L1293.5,508.5 L1294.5,509.2 L1295.5,509.6 L1296.5,509.6 L1297.5,509.3 L1298.5,509.8 L1299.5,509.3 L1300.5,509.5 L1301.5,509.4 L1302.5,510.0 L1303.5,511.6 L1304.5,511.3 L1305.5,510.5 L1306.5,510.7 L1307.5,511.1 L1308.5,510.2 L1309.5,509.6 L1310.5,509.4 L1311.5,510.8 L1312.5,510.8 L1313.5,510.8 L1314.5,511.3 L1315.5,509.9 L1316.5,510.7 L1317.5,511.0 L1318.5,510.5 L1319.5,510.4 L1320.5,509.8 L1321.5,510.2 L1322.5,510.7 L1323.5,510.8 L1324.5,510.3 L1325.5,510.6 L1326.5,511.1 L1327.5,510.8 L1328.5,510.7 L1329.5,509.5 L1330.5,510.5 L1331.5,511.4 L1332.5,510.9 L1333.5,511.7 L1334.5,511.8 L1335.5,511.6 L1336.5,511.3 L1337.5,511.3 L1338.5,511.7 L1339.5,512.0 L1340.5,511.4 L1341.5,511.5 L1342.5,511.6 L1343.5,511.7 L1344.5,511.6 L1345.5,511.8 L1346.5,511.6 L1347.5,511.6 L1348.5,511.5 L1349.5,510.4 L1350.5,510.2 L1351.5,510.3 L1352.5,510.8 L1353.5,511.1 L1354.5,511.2 L1355.5,510.5 L1356.5,510.3 L1357.5,511.2 L1358.5,511.4 L1359.5,510.7 L1360.5,510.9 L1361.5,510.5 L1362.5,509.8 L1363.5,510.5 L1364.5,510.3 L1365.5,509.7 L1366.5,510.2 L1367.5,511.2 L1368.5,509.8 L1369.5,509.0 L1370.5,509.9 L1371.5,510.3 L1372.5,509.7 L1373.5,508.5 L1374.5,508.7 L1375.5,510.0 L1376.5,510.4 L1377.5,510.0 L1378.5,511.0 L1379.5,509.8 L1380.5,508.0 L1381.5,509.3 L1382.5,510.4 L1383.5,509.3 L1384.5,509.0 L1385.5,509.8 L1386.5,509.7 L1387.5,509.6 L1388.5,509.1 L1389.5,509.3 L1390.5,509.7 L1391.5,509.7 L1392.5,510.6 L1393.5,511.5 L1394.5,509.9 L1395.5,509.5 L1396.5,510.9 L1397.5,510.9 L1398.5,510.6 L1399.5,510.4 L1400.5,510.1 L1401.5,509.6 L1402.5,509.5 L1403.5,509.3 L1404.5,509.7 L1405.5,509.7 L1406.5,508.2 L1407.5,508.9 L1408.5,510.0 L1409.5,510.0 L1410.5,509.7 L1411.5,509.5 L1412.5,509.4 L1413.5,509.7 L1414.5,510.0 L1415.5,510.0 L1416.5,510.5 L1417.5,509.9 L1418.5,508.7 L1419.5,509.2 L1420.5,509.1 L1421.5,508.6 L1422.5,508.7 L1423.5,509.9 L1424.5,510.6 L1425.5,510.4 L1426.5,510.0 L1427.5,509.9 L1428.5,509.9 L1429.5,509.0 L1430.5,509.5 L1431.5,509.7 L1432.5,510.6 L1433.5,509.9 L1434.5,509.4 L1435.5,510.6 L1436.5,511.1 L1437.5,509.9 L1438.5,508.9 L1439.5,508.8 L1440.5,509.1 L1441.5,509.8 L1442.5,510.1 L1443.5,510.4 L1444.5,509.7 L1445.5,508.7 L1446.5,508.2 L1447.5,507.8 L1448.5,508.1 L1449.5,508.3 L1450.5,509.4 L1451.5,509.2 L1452.5,507.8 L1453.5,508.1 L1454.5,507.9 L1455.5,507.0 L1456.5,508.0 L1457.5,508.0 L1458.5,507.6 L1459.5,507.3 L1460.5,507.1 L1461.5,507.3 L1462.5,507.6 L1463.5,507.8 L1464.5,508.0 L1465.5,507.7 L1466.5,507.0 L1467.5,507.0 L1468.5,507.4 L1469.5,506.5 L1470.5,506.6 L1471.5,507.5 L1472.5,508.4 L1473.5,508.9 L1474.5,508.1 L1475.5,507.8 L1476.5,508.4 L1477.5,508.1 L1478.5,507.9 L1479.5,507.3 L1480.5,507.4 L1481.5,507.2 L1482.5,507.2 L1483.5,508.1 L1484.5,508.2 L1485.5,508.1 L1486.5,508.8 L1487.5,509.0 L1488.5,508.7 L1489.5,509.1 L1490.5,509.6 L1491.5,509.2 L1492.5,508.6 L1493.5,507.8 L1494.5,507.7 L1495.5,507.7 L1496.5,507.6 L1497.5,507.9 L1498.5,508.3 L1499.5,508.2 L1500.5,508.6 L1501.5,509.5 L1502.5,508.5 L1503.5,508.6 L1504.5,507.8 L1505.5,508.3 L1506.5,509.6 L1507.5,509.4 L1508.5,508.3 L1509.5,509.1 L1510.5,510.0 L1511.5,508.6 L1512.5,509.0 L1513.5,509.1 L1514.5,508.5 L1515.5,508.7 L1516.5,508.8 L1517.5,509.3 L1518.5,509.6 L1519.5,509.5 L1520.5,509.2 L1521.5,509.6 L1522.5,510.3 L1523.5,510.5 L1524.5,510.1 L1525.5,510.0 L1526.5,510.3 L1527.5,509.7 L1528.5,508.8 L1529.5,508.8 L1530.5,509.1 L1531.5,508.5 L1532.5,507.5 L1533.5,507.5 L1534.5,508.2 L1535.5,508.3 L1536.5,508.0 L1537.5,508.6 L1538.5,508.1 L1539.5,508.0 L1540.5,507.5 L1541.5,507.8 L1542.5,507.6 L1543.5,507.0 L1544.5,506.7 L1545.5,506.8 L1546.5,507.0 L1547.5,506.8 L1548.5,507.5 L1549.5,507.3 L1550.5,506.8 L1551.5,507.5 L1552.5,508.2 L1553.5,507.9 L1554.5,507.6 L1555.5,508.0 L1556.5,507.2 L1557.5,506.4 L1558.5,506.1 L1559.5,507.2 L1560.5,508.1 L1561.5,507.5 L1562.5,507.0 L1563.5,507.3 L1564.5,507.6 L1565.5,507.8 L1566.5,508.9 L1567.5,508.7 L1568.5,507.8 L1569.5,507.6 L1570.5,507.3 L1571.5,506.9 L1572.5,507.1 L1573.5,507.5 L1574.5,507.6 L1575.5,507.8 L1576.5,507.3 L1577.5,507.6 L1578.5,507.4 L1579.5,506.8 L1580.5,508.1 L1581.5,507.4 L1582.5,506.9 L1583.5,507.8 L1584.5,507.5 L1585.5,505.9 L1586.5,506.5 L1587.5,507.2 L1588.5,506.3 L1589.5,506.5 L1590.5,506.6 L1591.5,506.7 L1592.5,506.6 L1593.5,506.4 L1594.5,506.0 L1595.5,505.5 L1596.5,505.9 L1597.5,505.9 L1598.5,506.3 L1599.5,506.6 L1600.5,506.8 L1601.5,507.2 L1602.5,507.3 L1603.5,506.0 L1604.5,505.8 L1605.5,506.6 L1606.5,507.4 L1607.5,507.8 L1608.5,508.1 L1609.5,507.8 L1610.5,507.7 L1611.5,507.2 L1612.5,507.4 L1613.5,508.5 L1614.5,508.3 L1615.5,508.4 L1616.5,508.1 L1617.5,508.0 L1618.5,508.4 L1619.5,508.2 L1620.5,508.6 L1621.5,509.2 L1622.5,509.4 L1623.5,509.1 L1624.5,508.3 L1625.5,508.2 L1626.5,508.1 L1627.5,508.1 L1628.5,507.8 L1629.5,507.6 L1630.5,507.8 L1631.5,508.2 L1632.5,508.0 L1633.5,507.4 L1634.5,507.7 L1635.5,508.6 L1636.5,508.7 L1637.5,508.7 L1638.5,508.9 L1639.5,508.8 L1640.5,507.7 L1641.5,507.4 L1642.5,506.8 L1643.5,506.7 L1644.5,507.8 L1645.5,507.6 L1646.5,508.1 L1647.5,509.5 L1648.5,508.7 L1649.5,508.3 L1650.5,508.1 L1651.5,507.4 L1652.5,507.6 L1653.5,508.0 L1654.5,507.7 L1655.5,507.4 L1656.5,508.4 L1657.5,508.9 L1658.5,508.2 L1659.5,508.8 L1660.5,508.9 L1661.5,508.3 L1662.5,508.1 L1663.5,507.6 L1664.5,508.6 L1665.5,509.0 L1666.5,507.9 L1667.5,507.8 L1668.5,508.0 L1669.5,509.1 L1670.5,509.7 L1671.5,509.6 L1672.5,510.0 L1673.5,509.6 L1674.5,509.6 L1675.5,509.2 L1676.5,509.0 L1677.5,509.1 L1678.5,509.0 L1679.5,509.3 L1680.5,509.9 L1681.5,510.3 L1682.5,509.5 L1683.5,508.4 L1684.5,508.3 L1685.5,509.3 L1686.5,508.9 L1687.5,508.1 L1688.5,508.5 L1689.5,509.4 L1690.5,508.2 L1691.5,507.8 L1692.5,508.1 L1693.5,507.8 L1694.5,509.3 L1695.5,509.5 L1696.5,508.6 L1697.5,508.0 L1698.5,508.0 L1699.5,508.8 L1700.5,509.3 L1701.5,508.2 L1702.5,507.6 L1703.5,508.0 L1704.5,508.9 L1705.5,509.0 L1706.5,508.6 L1707.5,508.6 L1708.5,507.8 L1709.5,508.6 L1710.5,509.2 L1711.5,508.3 L1712.5,508.0 L1713.5,508.0 L1714.5,508.2 L1715.5,508.5 L1716.5,509.4 L1717.5,510.0 L1718.5,509.9 L1719.5,509.5 L1720.5,509.4 L1721.5,509.7 L1722.5,510.6 L1723.5,510.9 L1724.5,510.5 L1725.5,510.0 L1726.5,509.3 L1727.5,509.2 L1728.5,509.2 L1729.5,509.6 L1730.5,509.2 L1731.5,510.3 L1732.5,510.7 L1733.5,509.0 L1734.5,508.3 L1735.5,508.8 L1736.5,509.6 L1737.5,510.6 L1738.5,509.8 L1739.5,509.5 L1740.5,509.4 L1741.5,509.9 L1742.5,510.3 L1743.5,510.1 L1744.5,509.4 L1745.5,509.3 L1746.5,508.9 L1747.5,508.6 L1748.5,508.7 L1749.5,509.4 L1750.5,509.1 L1751.5,509.4 L1752.5,509.5 L1753.5,508.7 L1754.5,508.5 L1755.5,509.3 L1756.5,509.5 L1757.5,510.0 L1758.5,509.7 L1759.5,508.7 L1760.5,509.1 L1761.5,509.8 L1762.5,509.9 L1763.5,510.0 L1764.5,510.6 L1765.5,510.7 L1766.5,509.9 L1767.5,509.8 L1768.5,509.2 L1769.5,509.5 L1770.5,510.2 L1771.5,510.7 L1772.5,509.8 L1773.5,508.8 L1774.5,508.6 L1775.5,509.2 L1776.5,508.5 L1777.5,507.8 L1778.5,510.2 L1779.5,510.9 L1780.5,509.6 L1781.5,509.3 L1782.5,510.3 L1783.5,510.4 L1784.5,509.8 L1785.5,509.3 L1786.5,509.9 L1787.5,509.9 L1788.5,510.0 L1789.5,510.0 L1790.5,509.9 L1791.5,510.3 L1792.5,510.3 L1793.5,510.0 L1794.5,510.2 L1795.5,510.1 L1796.5,510.5 L1797.5,510.6 L1798.5,511.0 L1799.5,512.1 L1800.5,513.1 L1801.5,512.9 L1802.5,511.8 L1803.5,511.7 L1804.5,512.3 L1805.5,512.7 L1806.5,511.9 L1807.5,511.6 L1808.5,512.2 L1809.5,512.3 L1810.5,512.0 L1811.5,511.8 L1812.5,511.9 L1813.5,510.7 L1814.5,510.6 L1815.5,511.1 L1816.5,511.7 L1817.5,510.5 L1818.5,510.4 L1819.5,511.0 L1820.5,511.4 L1821.5,511.6 L1822.5,511.2 L1823.5,510.8 L1824.5,511.5 L1825.5,511.8 L1826.5,511.9 L1827.5,512.1 L1828.5,512.1 L1829.5,511.9 L1830.5,511.4 L1831.5,511.8 L1832.5,511.9 L1833.5,511.4 L1834.5,511.2 L1835.5,511.3 L1836.5,511.2 L1837.5,511.8 L1838.5,513.2 L1839.5,512.9 L1840.5,512.0 L1841.5,512.1 L1842.5,512.7 L1843.5,512.3 L1844.5,512.2 L1845.5,512.0 L1846.5,512.8 L1847.5,513.2 L1848.5,511.0 L1849.5,510.3 L1850.5,511.0 L1851.5,510.2 L1852.5,509.8 L1853.5,510.5 L1854.5,510.4 L1855.5,510.9 L1856.5,510.7 L1857.5,510.9 L1858.5,512.3 L1859.5,512.0 L1860.5,511.9 L1861.5,511.9 L1862.5,511.7 L1863.5,512.1 L1864.5,512.7 L1865.5,513.2 L1866.5,512.7 L1867.5,512.4 L1868.5,512.3 L1869.5,511.6 L1870.5,511.5 L1871.5,511.8 L1872.5,511.8 L1873.5,512.0 L1874.5,512.9 L1875.5,512.9 L1876.5,512.4 L1877.5,512.9 L1878.5,512.8 L1879.5,512.2 L1880.5,512.4 L1881.5,512.5 L1882.5,512.6 L1883.5,512.5 L1884.5,511.7 L1885.5,511.4 L1886.5,512.0 L1887.5,511.9 L1888.5,511.5 L1889.5,511.3 L1890.5,511.0 L1891.5,511.9 L1892.5,511.7 L1893.5,510.6 L1894.5,510.8 L1895.5,511.4 L1896.5,511.5 L1897.5,511.3 L1898.5,510.6 L1899.5,511.2 L1900.5,510.7 L1901.5,511.3 L1902.5,511.2 L1903.5,510.6 L1904.5,510.7 L1905.5,510.5 L1906.5,511.7 L1907.5,512.7 L1908.5,512.7 L1909.5,513.2 L1910.5,512.3 L1911.5,512.2 L1912.5,512.1 L1913.5,512.0 L1914.5,512.9 L1915.5,513.1 L1916.5,513.6 L1917.5,513.9 L1918.5,514.4 L1919.5,515.3 L1920.5,514.7 L1921.5,514.6 L1922.5,514.6 L1923.5,514.3 L1924.5,514.4 L1925.5,514.0 L1926.5,513.1 L1927.5,513.4 L1928.5,512.9 L1929.5,513.0 L1930.5,512.7 L1931.5,512.8" fill="none" stroke="#0b7a18" stroke-width="2.4" stroke-linejoin="round"/>
<path d="M1196.5,84.5 L1197.5,190.4 L1198.5,291.9 L1199.5,366.1 L1200.5,398.0 L1201.5,414.3 L1202.5,425.5 L1203.5,434.2 L1204.5,441.5 L1205.5,447.4 L1206.5,452.2 L1207.5,456.3 L1208.5,460.1 L1209.5,463.6 L1210.5,466.9 L1211.5,469.6 L1212.5,472.3 L1213.5,475.1 L1214.5,476.6 L1215.5,477.5 L1216.5,479.5 L1217.5,481.2 L1218.5,481.6 L1219.5,483.4 L1220.5,483.6 L1221.5,483.8 L1222.5,484.0 L1223.5,484.9 L1224.5,486.3 L1225.5,486.3 L1226.5,486.1 L1227.5,486.5 L1228.5,487.2 L1229.5,488.0 L1230.5,488.3 L1231.5,487.6 L1232.5,487.8 L1233.5,486.9 L1234.5,486.2 L1235.5,486.2 L1236.5,486.6 L1237.5,486.2 L1238.5,485.6 L1239.5,486.9 L1240.5,486.2 L1241.5,485.3 L1242.5,486.4 L1243.5,486.4 L1244.5,486.2 L1245.5,487.1 L1246.5,486.1 L1247.5,485.5 L1248.5,486.2 L1249.5,486.9 L1250.5,486.6 L1251.5,486.5 L1252.5,486.7 L1253.5,486.7 L1254.5,486.1 L1255.5,486.0 L1256.5,486.4 L1257.5,486.4 L1258.5,486.2 L1259.5,486.9 L1260.5,486.9 L1261.5,487.1 L1262.5,487.0 L1263.5,487.1 L1264.5,487.8 L1265.5,488.5 L1266.5,487.1 L1267.5,487.4 L1268.5,487.5 L1269.5,487.4 L1270.5,488.4 L1271.5,488.2 L1272.5,487.8 L1273.5,488.1 L1274.5,488.9 L1275.5,488.2 L1276.5,487.5 L1277.5,487.8 L1278.5,488.4 L1279.5,488.2 L1280.5,487.8 L1281.5,487.5 L1282.5,488.2 L1283.5,489.2 L1284.5,489.3 L1285.5,488.7 L1286.5,488.0 L1287.5,488.1 L1288.5,488.4 L1289.5,488.2 L1290.5,488.1 L1291.5,487.9 L1292.5,487.6 L1293.5,487.5 L1294.5,488.3 L1295.5,488.8 L1296.5,488.3 L1297.5,487.2 L1298.5,486.7 L1299.5,487.6 L1300.5,487.8 L1301.5,487.7 L1302.5,487.4 L1303.5,486.7 L1304.5,487.6 L1305.5,488.2 L1306.5,487.6 L1307.5,487.2 L1308.5,487.9 L1309.5,488.0 L1310.5,487.9 L1311.5,488.5 L1312.5,488.5 L1313.5,488.0 L1314.5,487.5 L1315.5,487.9 L1316.5,487.7 L1317.5,486.9 L1318.5,487.6 L1319.5,487.4 L1320.5,488.0 L1321.5,488.2 L1322.5,488.1 L1323.5,488.0 L1324.5,487.6 L1325.5,488.1 L1326.5,487.3 L1327.5,486.8 L1328.5,487.3 L1329.5,488.5 L1330.5,489.2 L1331.5,488.4 L1332.5,487.6 L1333.5,487.6 L1334.5,488.6 L1335.5,488.6 L1336.5,489.6 L1337.5,488.5 L1338.5,486.8 L1339.5,486.9 L1340.5,486.9 L1341.5,486.7 L1342.5,487.2 L1343.5,487.0 L1344.5,486.9 L1345.5,486.8 L1346.5,487.2 L1347.5,486.5 L1348.5,486.1 L1349.5,486.8 L1350.5,486.6 L1351.5,485.8 L1352.5,486.0 L1353.5,486.4 L1354.5,486.3 L1355.5,486.3 L1356.5,486.4 L1357.5,486.7 L1358.5,486.3 L1359.5,485.3 L1360.5,486.6 L1361.5,486.8 L1362.5,485.2 L1363.5,484.6 L1364.5,485.5 L1365.5,486.4 L1366.5,486.0 L1367.5,485.8 L1368.5,486.4 L1369.5,487.1 L1370.5,487.5 L1371.5,487.1 L1372.5,486.5 L1373.5,486.4 L1374.5,487.3 L1375.5,487.7 L1376.5,487.7 L1377.5,487.9 L1378.5,487.5 L1379.5,487.7 L1380.5,487.0 L1381.5,487.3 L1382.5,487.9 L1383.5,487.4 L1384.5,486.4 L1385.5,485.7 L1386.5,486.2 L1387.5,486.6 L1388.5,486.7 L1389.5,487.1 L1390.5,487.2 L1391.5,487.0 L1392.5,485.7 L1393.5,485.9 L1394.5,485.8 L1395.5,485.2 L1396.5,485.3 L1397.5,485.4 L1398.5,485.7 L1399.5,487.2 L1400.5,487.0 L1401.5,486.5 L1402.5,485.9 L1403.5,485.7 L1404.5,485.4 L1405.5,485.0 L1406.5,486.0 L1407.5,486.4 L1408.5,486.2 L1409.5,486.1 L1410.5,486.5 L1411.5,486.6 L1412.5,485.7 L1413.5,485.9 L1414.5,486.4 L1415.5,486.8 L1416.5,487.1 L1417.5,486.6 L1418.5,485.8 L1419.5,487.0 L1420.5,488.1 L1421.5,486.9 L1422.5,485.9 L1423.5,485.5 L1424.5,485.1 L1425.5,484.8 L1426.5,485.4 L1427.5,485.4 L1428.5,485.4 L1429.5,486.2 L1430.5,485.8 L1431.5,486.3 L1432.5,486.7 L1433.5,485.5 L1434.5,485.6 L1435.5,486.9 L1436.5,486.9 L1437.5,486.1 L1438.5,486.1 L1439.5,485.7 L1440.5,486.0 L1441.5,485.1 L1442.5,484.3 L1443.5,485.0 L1444.5,485.7 L1445.5,486.6 L1446.5,488.3 L1447.5,488.0 L1448.5,487.5 L1449.5,487.2 L1450.5,488.1 L1451.5,487.0 L1452.5,486.4 L1453.5,487.4 L1454.5,487.5 L1455.5,486.6 L1456.5,486.6 L1457.5,486.2 L1458.5,486.3 L1459.5,487.4 L1460.5,486.1 L1461.5,486.0 L1462.5,487.0 L1463.5,486.4 L1464.5,486.9 L1465.5,487.8 L1466.5,487.5 L1467.5,486.1 L1468.5,485.3 L1469.5,485.4 L1470.5,485.9 L1471.5,486.7 L1472.5,487.6 L1473.5,486.7 L1474.5,487.0 L1475.5,486.9 L1476.5,486.5 L1477.5,486.1 L1478.5,485.6 L1479.5,486.1 L1480.5,485.8 L1481.5,486.8 L1482.5,487.6 L1483.5,486.7 L1484.5,487.1 L1485.5,487.0 L1486.5,487.1 L1487.5,487.7 L1488.5,488.1 L1489.5,487.7 L1490.5,487.0 L1491.5,487.1 L1492.5,486.6 L1493.5,487.5 L1494.5,487.4 L1495.5,487.3 L1496.5,487.4 L1497.5,487.6 L1498.5,487.0 L1499.5,486.9 L1500.5,488.2 L1501.5,488.0 L1502.5,487.3 L1503.5,487.9 L1504.5,488.0 L1505.5,487.3 L1506.5,487.1 L1507.5,486.8 L1508.5,486.9 L1509.5,487.2 L1510.5,486.7 L1511.5,486.4 L1512.5,486.1 L1513.5,486.6 L1514.5,487.1 L1515.5,486.3 L1516.5,486.8 L1517.5,487.0 L1518.5,486.6 L1519.5,486.5 L1520.5,486.3 L1521.5,486.5 L1522.5,485.7 L1523.5,485.6 L1524.5,486.0 L1525.5,485.5 L1526.5,485.7 L1527.5,485.6 L1528.5,485.1 L1529.5,485.9 L1530.5,487.0 L1531.5,486.3 L1532.5,485.7 L1533.5,486.0 L1534.5,485.1 L1535.5,484.4 L1536.5,484.3 L1537.5,484.9 L1538.5,484.6 L1539.5,484.3 L1540.5,484.2 L1541.5,484.4 L1542.5,484.4 L1543.5,483.6 L1544.5,484.4 L1545.5,485.4 L1546.5,485.6 L1547.5,485.3 L1548.5,484.6 L1549.5,485.1 L1550.5,485.3 L1551.5,485.0 L1552.5,484.5 L1553.5,484.9 L1554.5,484.2 L1555.5,484.7 L1556.5,484.9 L1557.5,485.4 L1558.5,485.6 L1559.5,485.4 L1560.5,487.2 L1561.5,486.8 L1562.5,484.9 L1563.5,485.8 L1564.5,486.5 L1565.5,485.0 L1566.5,485.8 L1567.5,485.2 L1568.5,484.3 L1569.5,484.9 L1570.5,485.3 L1571.5,484.7 L1572.5,485.4 L1573.5,486.7 L1574.5,486.4 L1575.5,485.7 L1576.5,485.0 L1577.5,485.4 L1578.5,485.6 L1579.5,485.8 L1580.5,486.1 L1581.5,486.2 L1582.5,484.6 L1583.5,484.2 L1584.5,485.8 L1585.5,486.3 L1586.5,486.0 L1587.5,485.0 L1588.5,484.5 L1589.5,485.1 L1590.5,484.5 L1591.5,484.6 L1592.5,485.7 L1593.5,486.0 L1594.5,485.3 L1595.5,485.2 L1596.5,486.1 L1597.5,485.4 L1598.5,485.0 L1599.5,485.5 L1600.5,485.2 L1601.5,485.4 L1602.5,485.6 L1603.5,485.7 L1604.5,485.9 L1605.5,485.2 L1606.5,484.2 L1607.5,483.8 L1608.5,484.3 L1609.5,484.7 L1610.5,485.2 L1611.5,485.2 L1612.5,484.7 L1613.5,485.4 L1614.5,485.3 L1615.5,484.9 L1616.5,485.2 L1617.5,485.1 L1618.5,484.5 L1619.5,484.8 L1620.5,484.6 L1621.5,483.7 L1622.5,483.1 L1623.5,483.5 L1624.5,485.0 L1625.5,485.4 L1626.5,485.5 L1627.5,485.5 L1628.5,484.5 L1629.5,483.5 L1630.5,483.5 L1631.5,484.5 L1632.5,484.2 L1633.5,484.5 L1634.5,484.3 L1635.5,484.2 L1636.5,484.8 L1637.5,483.6 L1638.5,483.1 L1639.5,484.6 L1640.5,485.1 L1641.5,484.5 L1642.5,483.8 L1643.5,483.4 L1644.5,483.9 L1645.5,484.9 L1646.5,485.1 L1647.5,484.7 L1648.5,484.7 L1649.5,484.8 L1650.5,484.4 L1651.5,483.9 L1652.5,484.6 L1653.5,485.2 L1654.5,485.6 L1655.5,485.2 L1656.5,484.8 L1657.5,485.0 L1658.5,484.9 L1659.5,485.7 L1660.5,485.9 L1661.5,485.7 L1662.5,485.4 L1663.5,485.1 L1664.5,485.5 L1665.5,486.1 L1666.5,486.4 L1667.5,486.1 L1668.5,485.6 L1669.5,486.6 L1670.5,487.0 L1671.5,486.9 L1672.5,486.4 L1673.5,485.6 L1674.5,485.5 L1675.5,486.0 L1676.5,485.8 L1677.5,484.9 L1678.5,485.5 L1679.5,487.2 L1680.5,487.4 L1681.5,487.0 L1682.5,486.9 L1683.5,486.6 L1684.5,486.0 L1685.5,485.5 L1686.5,486.5 L1687.5,486.9 L1688.5,486.5 L1689.5,485.9 L1690.5,485.5 L1691.5,485.8 L1692.5,484.8 L1693.5,485.3 L1694.5,486.0 L1695.5,486.6 L1696.5,486.8 L1697.5,485.7 L1698.5,485.5 L1699.5,485.3 L1700.5,484.3 L1701.5,484.7 L1702.5,485.1 L1703.5,485.0 L1704.5,484.2 L1705.5,484.4 L1706.5,484.7 L1707.5,485.0 L1708.5,485.7 L1709.5,484.6 L1710.5,484.3 L1711.5,484.7 L1712.5,484.5 L1713.5,484.1 L1714.5,484.4 L1715.5,485.3 L1716.5,485.6 L1717.5,484.9 L1718.5,484.8 L1719.5,485.5 L1720.5,485.6 L1721.5,484.6 L1722.5,484.0 L1723.5,484.3 L1724.5,485.0 L1725.5,485.6 L1726.5,484.9 L1727.5,484.2 L1728.5,485.3 L1729.5,485.4 L1730.5,485.6 L1731.5,485.1 L1732.5,484.3 L1733.5,484.9 L1734.5,486.0 L1735.5,486.7 L1736.5,485.8 L1737.5,484.6 L1738.5,485.1 L1739.5,485.9 L1740.5,485.1 L1741.5,484.6 L1742.5,485.5 L1743.5,486.2 L1744.5,486.3 L1745.5,486.4 L1746.5,486.1 L1747.5,485.7 L1748.5,486.2 L1749.5,486.3 L1750.5,485.9 L1751.5,486.2 L1752.5,485.1 L1753.5,485.2 L1754.5,486.5 L1755.5,485.7 L1756.5,485.4 L1757.5,486.1 L1758.5,486.2 L1759.5,484.8 L1760.5,484.0 L1761.5,485.0 L1762.5,486.2 L1763.5,486.4 L1764.5,485.6 L1765.5,485.6 L1766.5,485.9 L1767.5,485.5 L1768.5,485.4 L1769.5,484.8 L1770.5,485.4 L1771.5,486.7 L1772.5,486.5 L1773.5,486.0 L1774.5,486.0 L1775.5,486.2 L1776.5,487.0 L1777.5,487.3 L1778.5,488.1 L1779.5,486.4 L1780.5,485.5 L1781.5,486.2 L1782.5,486.8 L1783.5,487.0 L1784.5,486.4 L1785.5,486.3 L1786.5,486.9 L1787.5,487.6 L1788.5,487.9 L1789.5,486.8 L1790.5,486.0 L1791.5,485.7 L1792.5,486.1 L1793.5,486.9 L1794.5,486.3 L1795.5,485.8 L1796.5,486.4 L1797.5,486.6 L1798.5,486.1 L1799.5,485.3 L1800.5,484.8 L1801.5,484.4 L1802.5,483.7 L1803.5,484.5 L1804.5,485.9 L1805.5,485.4 L1806.5,484.2 L1807.5,484.5 L1808.5,485.5 L1809.5,485.4 L1810.5,485.5 L1811.5,485.5 L1812.5,484.4 L1813.5,483.8 L1814.5,484.4 L1815.5,485.6 L1816.5,485.8 L1817.5,484.8 L1818.5,484.7 L1819.5,484.9 L1820.5,484.5 L1821.5,484.2 L1822.5,484.2 L1823.5,484.6 L1824.5,485.1 L1825.5,485.2 L1826.5,484.6 L1827.5,484.2 L1828.5,484.1 L1829.5,483.5 L1830.5,483.9 L1831.5,484.8 L1832.5,484.7 L1833.5,484.7 L1834.5,484.9 L1835.5,484.8 L1836.5,484.4 L1837.5,483.2 L1838.5,484.2 L1839.5,484.6 L1840.5,484.5 L1841.5,485.2 L1842.5,484.6 L1843.5,485.4 L1844.5,486.1 L1845.5,485.2 L1846.5,485.0 L1847.5,484.3 L1848.5,483.7 L1849.5,484.4 L1850.5,485.2 L1851.5,484.4 L1852.5,484.9 L1853.5,485.0 L1854.5,485.0 L1855.5,485.2 L1856.5,484.6 L1857.5,485.1 L1858.5,485.0 L1859.5,485.2 L1860.5,485.8 L1861.5,485.6 L1862.5,484.7 L1863.5,484.2 L1864.5,484.6 L1865.5,484.4 L1866.5,485.1 L1867.5,485.3 L1868.5,484.8 L1869.5,484.9 L1870.5,485.3 L1871.5,485.0 L1872.5,485.4 L1873.5,486.5 L1874.5,485.8 L1875.5,485.9 L1876.5,485.4 L1877.5,484.8 L1878.5,485.6 L1879.5,485.8 L1880.5,486.5 L1881.5,486.2 L1882.5,485.3 L1883.5,485.5 L1884.5,485.7 L1885.5,485.8 L1886.5,485.4 L1887.5,485.5 L1888.5,485.3 L1889.5,485.1 L1890.5,485.3 L1891.5,485.1 L1892.5,485.9 L1893.5,485.5 L1894.5,484.8 L1895.5,485.3 L1896.5,484.8 L1897.5,485.0 L1898.5,485.1 L1899.5,485.5 L1900.5,484.9 L1901.5,484.3 L1902.5,485.4 L1903.5,486.2 L1904.5,486.7 L1905.5,485.5 L1906.5,485.0 L1907.5,485.1 L1908.5,484.4 L1909.5,485.2 L1910.5,486.1 L1911.5,486.5 L1912.5,486.5 L1913.5,485.8 L1914.5,485.4 L1915.5,485.2 L1916.5,485.5 L1917.5,485.3 L1918.5,486.2 L1919.5,486.3 L1920.5,484.5 L1921.5,484.6 L1922.5,485.2 L1923.5,485.5 L1924.5,484.8 L1925.5,484.3 L1926.5,484.1 L1927.5,483.7 L1928.5,483.9 L1929.5,484.7 L1930.5,484.8 L1931.5,485.2" fill="none" stroke="#e39a18" stroke-width="2.4" stroke-linejoin="round"/>
<text transform="translate(1624.36,87.80) scale(1.0356,1)" font-family='"Liberation Sans", sans-serif' font-weight="normal" font-style="normal" font-size="28.60" fill="#000"  stroke="#000" stroke-width="0.8" stroke-linejoin="round">MNIST</text>
<rect x="1741.5" y="61.5" width="31.8" height="29.6" fill="#000"/>
<text transform="translate(1747.92,86.68) scale(1.3256,1)" font-family='"Liberation Serif", serif' font-weight="normal" font-style="italic" font-size="31.85" fill="#f2f2f2"  stroke="#f2f2f2" stroke-width="0.6" stroke-linejoin="round">0</text>
<rect x="1777" y="61.5" width="32.0" height="29.6" fill="#000"/>
<text transform="translate(1782.80,85.60) scale(1.8824,1)" font-family='"Liberation Serif", serif' font-weight="normal" font-style="italic" font-size="25.81" fill="#f2f2f2"  stroke="#f2f2f2" stroke-width="0.6" stroke-linejoin="round">2</text>
<rect x="1812.1" y="61.5" width="31.8" height="29.6" fill="#000"/>
<text transform="translate(1822.32,89.00) scale(0.9677,1)" font-family='"Liberation Serif", serif' font-weight="normal" font-style="italic" font-size="32.85" fill="#f2f2f2"  stroke="#f2f2f2" stroke-width="0.6" stroke-linejoin="round">4</text>
<rect x="1847.8" y="61.5" width="31.8" height="29.6" fill="#000"/>
<text transform="translate(1855.90,85.28) scale(1.0318,1)" font-family='"Liberation Serif", serif' font-weight="normal" font-style="italic" font-size="31.52" fill="#f2f2f2"  stroke="#f2f2f2" stroke-width="0.6" stroke-linejoin="round">6</text>
<rect x="1883.1" y="61.5" width="32.1" height="29.6" fill="#000"/>
<text transform="translate(1890.58,89.68) scale(1.0587,1)" font-family='"Liberation Serif", serif' font-weight="normal" font-style="italic" font-size="31.97" fill="#f2f2f2"  stroke="#f2f2f2" stroke-width="0.6" stroke-linejoin="round">9</text>
<circle cx="1799.2" cy="144.9" r="9.8" fill="#ffa618"/>
<text transform="translate(1818.87,153.57) scale(1.2532,1)" font-family='"Liberation Serif", serif' font-weight="normal" font-style="italic" font-size="25.07" fill="#5a5a5a" >β</text>
<text transform="translate(1842.59,156.01) scale(1.3229,1)" font-family='"Liberation Serif", serif' font-weight="normal" font-style="normal" font-size="30.40" fill="#333" >=</text>
<text transform="translate(1872.92,153.40) scale(1.2330,1)" font-family='"Liberation Serif", serif' font-weight="normal" font-style="normal" font-size="24.85" fill="#2a2a2a"  stroke="#2a2a2a" stroke-width="0.15" stroke-linejoin="round">1</text>
<circle cx="1799.2" cy="178.4" r="9.8" fill="#17801f"/>
<text transform="translate(1818.87,189.17) scale(1.2532,1)" font-family='"Liberation Serif", serif' font-weight="normal" font-style="italic" font-size="25.07" fill="#5a5a5a" >β</text>
<text transform="translate(1842.59,191.61) scale(1.3229,1)" font-family='"Liberation Serif", serif' font-weight="normal" font-style="normal" font-size="30.40" fill="#333" >=</text>
<text transform="translate(1872.88,188.93) scale(1.2129,1)" font-family='"Liberation Serif", serif' font-weight="normal" font-style="normal" font-size="24.56" fill="#2a2a2a"  stroke="#2a2a2a" stroke-width="0.15" stroke-linejoin="round">0.8</text>
<circle cx="1799.2" cy="216" r="9.8" fill="#3232f5"/>
<text transform="translate(1818.87,224.97) scale(1.2532,1)" font-family='"Liberation Serif", serif' font-weight="normal" font-style="italic" font-size="25.07" fill="#5a5a5a" >β</text>
<text transform="translate(1842.59,227.41) scale(1.3229,1)" font-family='"Liberation Serif", serif' font-weight="normal" font-style="normal" font-size="30.40" fill="#333" >=</text>
<text transform="translate(1872.89,224.73) scale(1.2052,1)" font-family='"Liberation Serif", serif' font-weight="normal" font-style="normal" font-size="24.56" fill="#2a2a2a"  stroke="#2a2a2a" stroke-width="0.15" stroke-linejoin="round">0.6</text>
<circle cx="1799.2" cy="249.6" r="9.8" fill="#f51414"/>
<text transform="translate(1818.87,259.97) scale(1.2532,1)" font-family='"Liberation Serif", serif' font-weight="normal" font-style="italic" font-size="25.07" fill="#5a5a5a" >β</text>
<text transform="translate(1842.59,262.41) scale(1.3229,1)" font-family='"Liberation Serif", serif' font-weight="normal" font-style="normal" font-size="30.40" fill="#333" >=</text>
<text transform="translate(1872.90,259.73) scale(1.1901,1)" font-family='"Liberation Serif", serif' font-weight="normal" font-style="normal" font-size="24.56" fill="#2a2a2a"  stroke="#2a2a2a" stroke-width="0.15" stroke-linejoin="round">0.4</text>
<g transform="rotate(-90)">
<text transform="translate(-470.10,1151.00) scale(1.2579,1)" font-family='"Liberation Serif", serif' font-weight="normal" font-style="normal" font-size="29.70" fill="#151515"  stroke="#151515" stroke-width="0.3" stroke-linejoin="round">Δ</text>
<text transform="translate(-446.40,1150.95) scale(1.1259,1)" font-family='"Liberation Serif", serif' font-weight="bold" font-style="normal" font-size="29.85" fill="#151515" >W</text>
<text transform="translate(-413.94,1130.13) scale(2.5041,1)" font-family='"Liberation Serif", serif' font-weight="bold" font-style="normal" font-size="12.56" fill="#151515" >(</text>
<text transform="translate(-404.92,1131.20) scale(2.8478,1)" font-family='"Liberation Serif", serif' font-weight="bold" font-style="normal" font-size="10.61" fill="#151515" >1</text>
<text transform="translate(-389.52,1130.13) scale(2.5041,1)" font-family='"Liberation Serif", serif' font-weight="bold" font-style="normal" font-size="12.56" fill="#151515" >)</text>
<text transform="translate(-382.65,1154.39) scale(1.0632,1)" font-family='"DejaVu Serif", serif' font-weight="normal" font-style="normal" font-size="33.93" fill="#151515"  stroke="#151515" stroke-width="0.2" stroke-linejoin="round">∠</text>
<text transform="translate(-355.60,1151.00) scale(1.2579,1)" font-family='"Liberation Serif", serif' font-weight="normal" font-style="normal" font-size="29.70" fill="#151515"  stroke="#151515" stroke-width="0.3" stroke-linejoin="round">Δ</text>
<text transform="translate(-331.60,1150.95) scale(1.1155,1)" font-family='"Liberation Serif", serif' font-weight="bold" font-style="normal" font-size="29.85" fill="#151515" >W</text>
<text transform="translate(-299.34,1130.13) scale(2.5041,1)" font-family='"Liberation Serif", serif' font-weight="bold" font-style="normal" font-size="12.56" fill="#151515" >(</text>
<text transform="translate(-290.32,1131.20) scale(2.8478,1)" font-family='"Liberation Serif", serif' font-weight="bold" font-style="normal" font-size="10.61" fill="#151515" >1</text>
<text transform="translate(-276.82,1130.13) scale(2.5041,1)" font-family='"Liberation Serif", serif' font-weight="bold" font-style="normal" font-size="12.56" fill="#151515" >)</text>
<text transform="translate(-265.57,1154.15) scale(1.0568,1)" font-family='"Liberation Serif", serif' font-weight="normal" font-style="normal" font-size="19.62" fill="#151515"  stroke="#151515" stroke-width="0.4" stroke-linejoin="round">BP</text>
</g>
</svg></body></html>
